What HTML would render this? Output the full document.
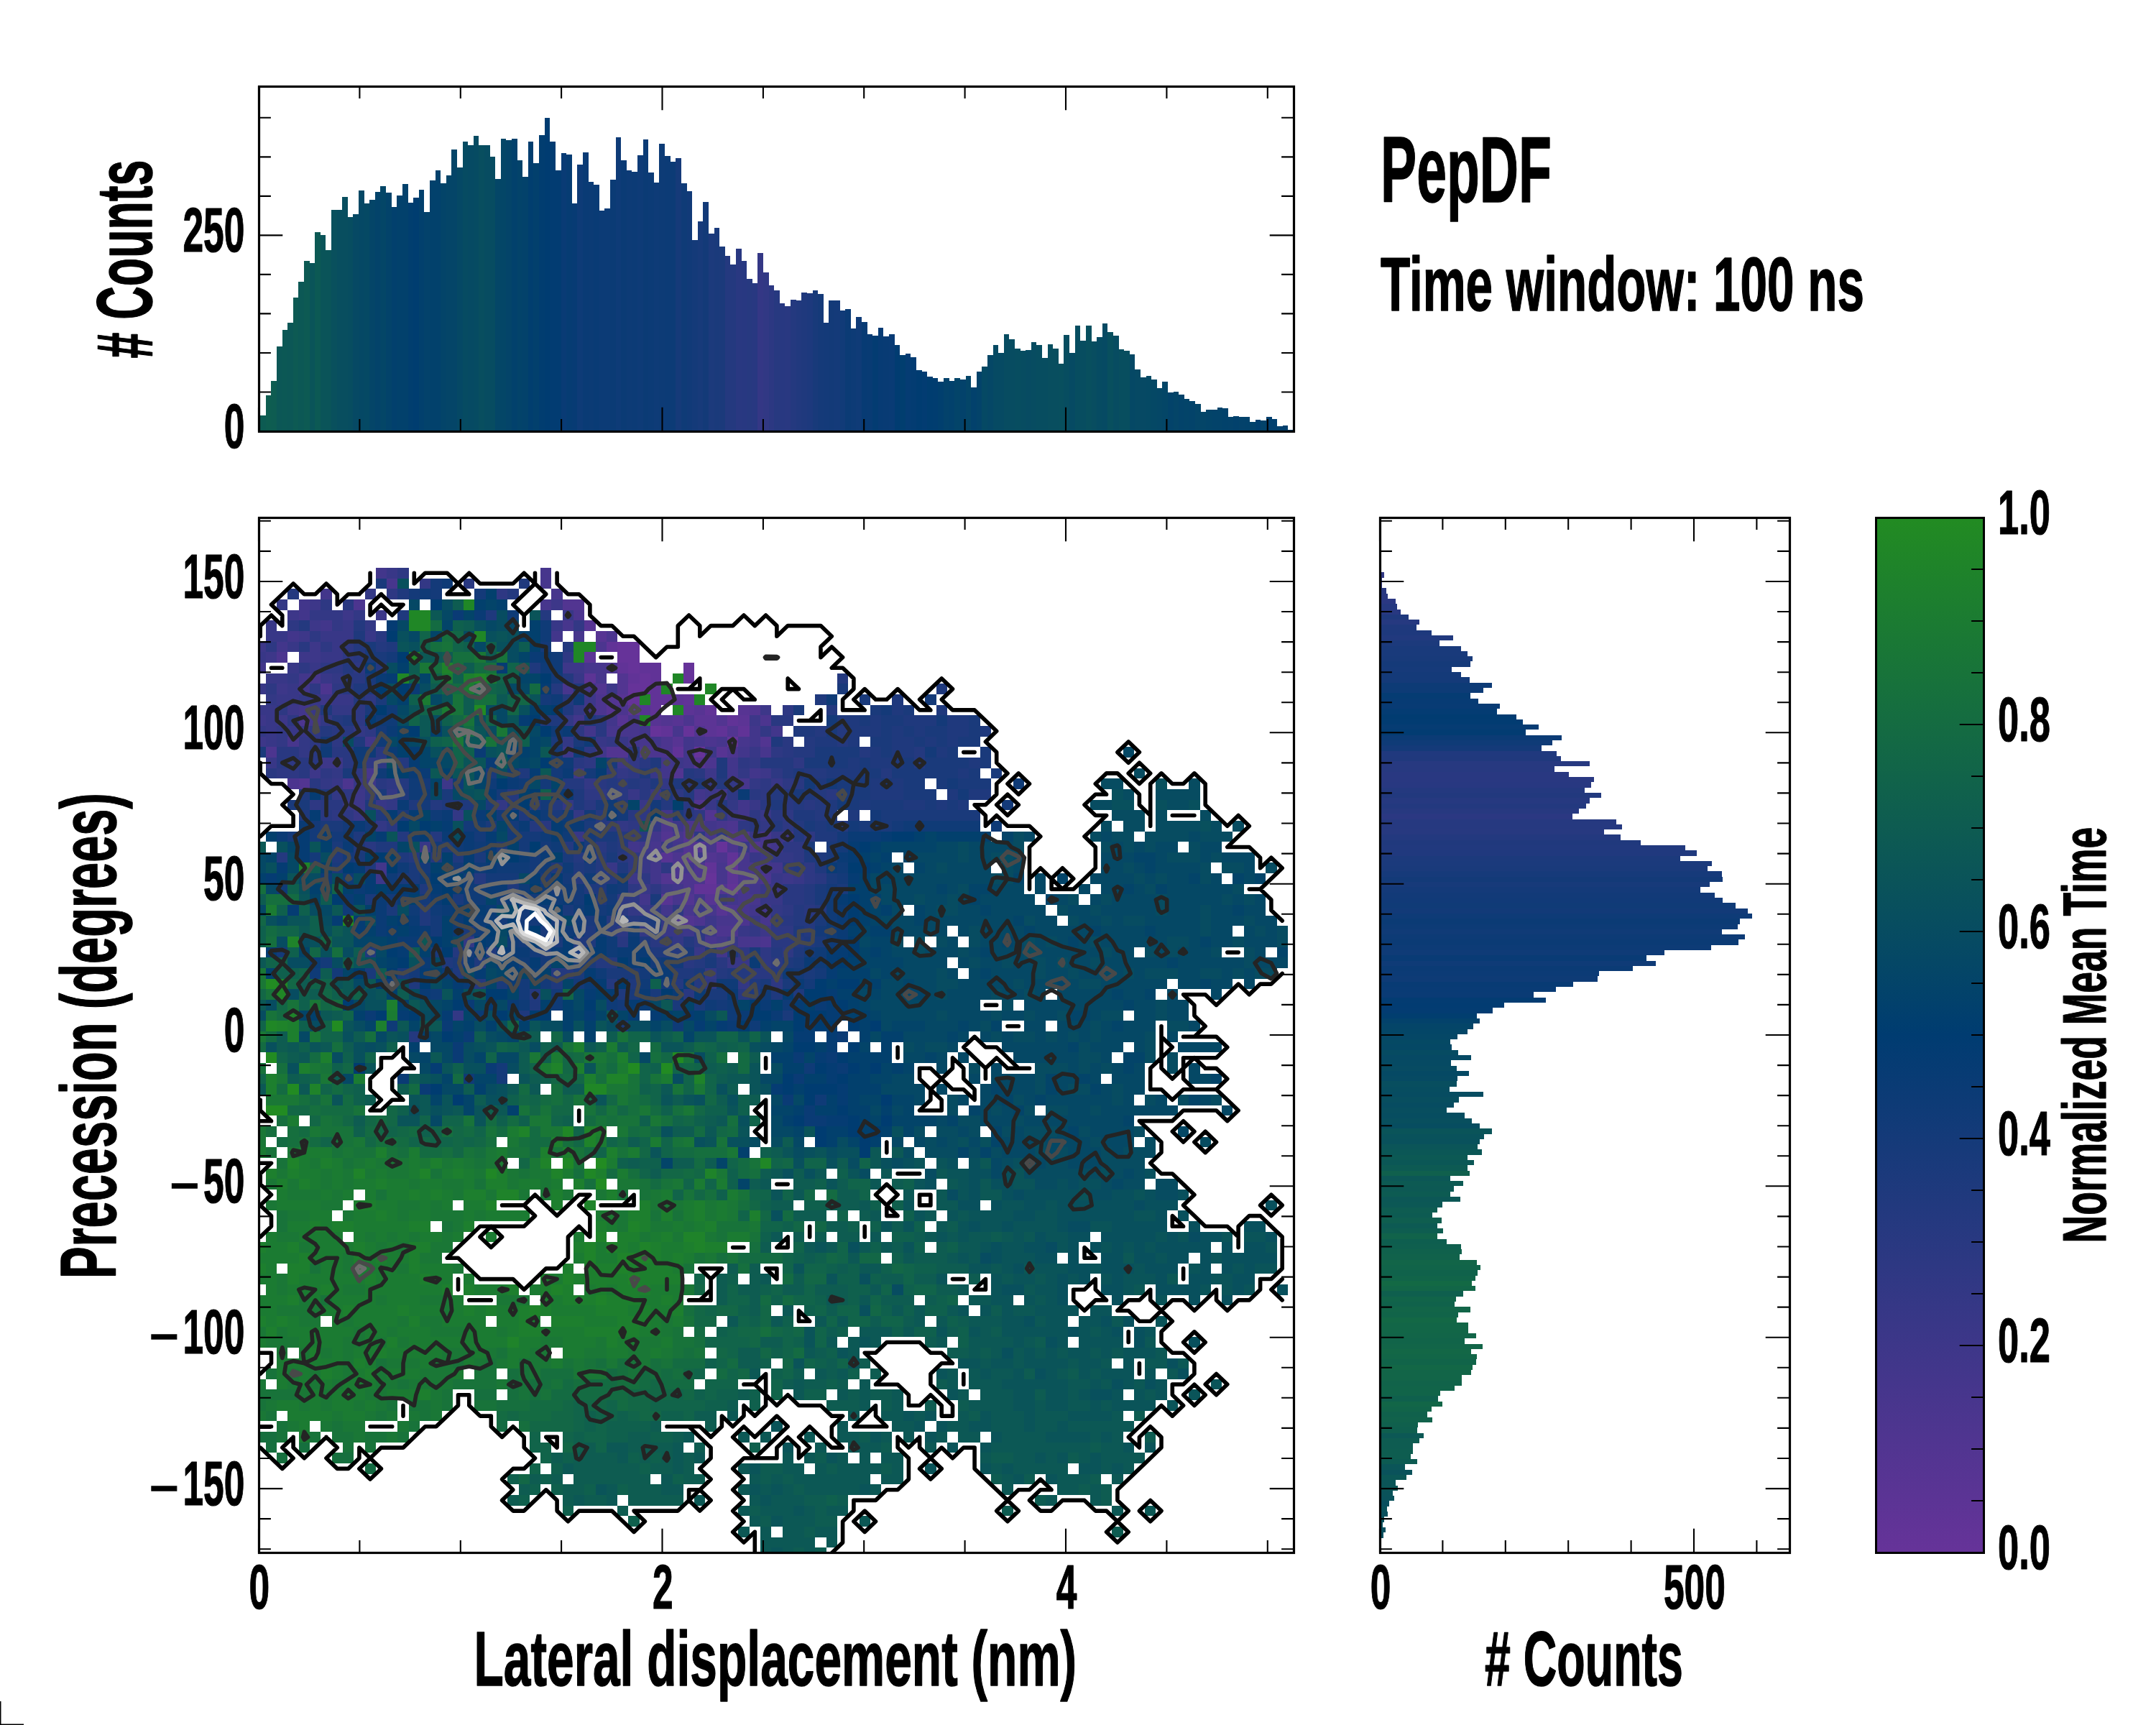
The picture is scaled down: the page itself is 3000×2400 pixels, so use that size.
<!DOCTYPE html>
<html lang="en"><head><meta charset="utf-8"><title>PepDF</title><style>html,body{margin:0;padding:0;background:#fff}svg{display:block}</style></head><body>
<svg width="3000" height="2400" viewBox="0 0 3000 2400" font-family="'Liberation Sans', sans-serif" font-weight="bold">
<rect width="3000" height="2400" fill="#fff"/>
<defs><clipPath id="cm"><rect x="360" y="720" width="1440" height="1440"/></clipPath></defs>
<g clip-path="url(#cm)">
<g transform="translate(354.6,716.7) scale(15.29,14.66)" shape-rendering="crispEdges">
<path fill="#663399" d="M33 12h2v1h-2zM33 13h2v1h-2zM34 14h1v1h-1zM39 14h1v1h-1zM35 15h1v1h-1zM39 15h1v1h-1zM34 16h2v1h-2zM34 17h1v1h-1zM36 20h1v1h-1zM39 20h1v1h-1zM43 21h1v1h-1zM40 22h1v1h-1zM42 31h1v1h-1zM41 34h1v1h-1z"/>
<path fill="#613397" d="M32 12h1v1h-1zM33 14h1v1h-1zM35 14h2v1h-2zM34 15h1v1h-1zM36 15h1v1h-1zM36 16h1v1h-1zM36 17h2v1h-2zM39 17h1v1h-1zM36 18h1v1h-1zM41 18h1v1h-1zM43 19h1v1h-1zM37 20h1v1h-1zM42 20h1v1h-1zM44 20h1v1h-1zM38 22h1v1h-1zM43 32h1v1h-1zM41 33h1v1h-1zM43 33h1v1h-1zM40 35h2v1h-2zM43 35h1v1h-1z"/>
<path fill="#5c3495" d="M30 13h1v1h-1zM30 15h1v1h-1zM38 17h1v1h-1zM34 18h1v1h-1zM39 18h1v1h-1zM40 19h2v1h-2zM44 19h1v1h-1zM41 20h1v1h-1zM43 34h1v1h-1z"/>
<path fill="#573493" d="M30 10h1v1h-1zM31 11h1v1h-1zM33 17h1v1h-1zM32 18h1v1h-1zM35 18h1v1h-1zM40 18h1v1h-1zM44 18h1v1h-1zM33 19h1v1h-1zM36 19h1v1h-1zM38 19h1v1h-1zM38 21h1v1h-1zM42 22h1v1h-1zM40 23h1v1h-1zM37 32h1v1h-1zM39 32h1v1h-1zM37 36h1v1h-1zM41 36h1v1h-1zM42 37h1v1h-1z"/>
<path fill="#523591" d="M28 8h2v1h-2zM33 15h1v1h-1zM31 16h1v1h-1zM33 16h1v1h-1zM32 17h1v1h-1zM45 18h1v1h-1zM37 19h1v1h-1zM42 19h1v1h-1zM40 20h1v1h-1zM43 20h1v1h-1zM46 21h1v1h-1zM32 22h2v1h-2zM38 24h1v1h-1zM4 25h1v1h-1zM40 27h1v1h-1zM41 28h1v1h-1zM37 30h1v1h-1zM39 30h1v1h-1zM43 30h2v1h-2zM39 31h2v1h-2zM45 31h1v1h-1zM41 32h1v1h-1zM37 34h1v1h-1zM42 35h1v1h-1zM39 36h1v1h-1zM39 38h1v1h-1z"/>
<path fill="#4c358f" d="M9 8h1v1h-1zM29 9h1v1h-1zM32 11h1v1h-1zM31 12h1v1h-1zM2 13h1v1h-1zM32 14h1v1h-1zM6 16h1v1h-1zM31 17h1v1h-1zM31 18h1v1h-1zM33 18h1v1h-1zM4 19h1v1h-1zM39 19h1v1h-1zM46 19h1v1h-1zM37 21h1v1h-1zM41 21h1v1h-1zM1 22h1v1h-1zM35 22h3v1h-3zM43 22h1v1h-1zM41 23h1v1h-1zM3 25h1v1h-1zM8 25h1v1h-1zM37 29h1v1h-1zM39 29h2v1h-2zM43 29h1v1h-1zM43 31h1v1h-1zM38 32h1v1h-1zM42 32h1v1h-1zM38 33h1v1h-1zM40 33h1v1h-1zM38 34h3v1h-3zM44 34h1v1h-1zM46 34h1v1h-1zM39 35h1v1h-1zM43 37h1v1h-1zM38 38h1v1h-1zM40 38h1v1h-1zM44 38h1v1h-1zM42 39h2v1h-2zM46 40h1v1h-1z"/>
<path fill="#47368d" d="M26 5h1v1h-1zM12 6h1v1h-1zM26 6h1v1h-1zM27 7h1v1h-1zM26 8h1v1h-1zM28 10h1v1h-1zM29 11h1v1h-1zM30 14h2v1h-2zM5 15h1v1h-1zM31 15h1v1h-1zM28 16h1v1h-1zM34 19h1v1h-1zM32 20h3v1h-3zM38 20h1v1h-1zM3 21h1v1h-1zM35 21h1v1h-1zM40 21h1v1h-1zM42 21h1v1h-1zM44 21h1v1h-1zM46 22h1v1h-1zM10 24h1v1h-1zM44 25h1v1h-1zM42 29h1v1h-1zM38 30h1v1h-1zM41 30h1v1h-1zM46 30h1v1h-1zM36 31h1v1h-1zM41 31h1v1h-1zM46 31h1v1h-1zM44 32h1v1h-1zM42 33h1v1h-1zM44 33h2v1h-2zM42 34h1v1h-1zM45 34h1v1h-1zM44 35h1v1h-1zM38 36h1v1h-1zM44 36h2v1h-2zM39 37h1v1h-1zM41 37h1v1h-1zM44 37h1v1h-1zM42 38h2v1h-2zM46 38h1v1h-1zM41 40h1v1h-1zM44 40h2v1h-2z"/>
<path fill="#42368b" d="M11 5h1v1h-1zM6 7h1v1h-1zM4 8h1v1h-1zM4 9h1v1h-1zM6 10h1v1h-1zM3 11h1v1h-1zM27 11h1v1h-1zM2 12h1v1h-1zM0 14h1v1h-1zM4 15h1v1h-1zM4 16h1v1h-1zM30 16h1v1h-1zM4 18h1v1h-1zM30 18h1v1h-1zM5 19h1v1h-1zM29 19h1v1h-1zM32 19h1v1h-1zM30 20h1v1h-1zM35 20h1v1h-1zM45 20h1v1h-1zM47 20h1v1h-1zM10 21h1v1h-1zM34 21h1v1h-1zM36 21h1v1h-1zM39 21h1v1h-1zM45 21h1v1h-1zM31 22h1v1h-1zM39 22h1v1h-1zM44 22h1v1h-1zM37 23h1v1h-1zM39 23h1v1h-1zM43 23h1v1h-1zM37 24h1v1h-1zM43 24h1v1h-1zM45 24h1v1h-1zM40 26h1v1h-1zM42 26h1v1h-1zM44 27h1v1h-1zM37 28h1v1h-1zM44 28h1v1h-1zM41 29h1v1h-1zM36 30h1v1h-1zM34 31h1v1h-1zM38 31h1v1h-1zM47 31h1v1h-1zM11 33h1v1h-1zM36 33h1v1h-1zM39 33h1v1h-1zM46 33h2v1h-2zM36 34h1v1h-1zM38 35h1v1h-1zM45 35h1v1h-1zM35 36h1v1h-1zM40 36h1v1h-1zM43 36h1v1h-1zM37 37h1v1h-1zM45 37h2v1h-2zM42 40h1v1h-1zM42 41h1v1h-1z"/>
<path fill="#3d3789" d="M5 8h1v1h-1zM27 8h1v1h-1zM3 9h1v1h-1zM8 9h1v1h-1zM11 9h1v1h-1zM5 10h1v1h-1zM4 11h1v1h-1zM0 12h1v1h-1zM5 12h1v1h-1zM1 13h1v1h-1zM4 13h2v1h-2zM28 14h2v1h-2zM2 16h1v1h-1zM32 16h1v1h-1zM6 17h1v1h-1zM30 17h1v1h-1zM3 18h1v1h-1zM46 18h1v1h-1zM0 19h1v1h-1zM2 19h1v1h-1zM45 19h1v1h-1zM0 21h1v1h-1zM28 22h1v1h-1zM41 22h1v1h-1zM6 23h2v1h-2zM33 23h1v1h-1zM38 23h1v1h-1zM5 24h1v1h-1zM29 24h1v1h-1zM41 24h1v1h-1zM46 24h1v1h-1zM10 25h1v1h-1zM17 25h1v1h-1zM9 26h1v1h-1zM41 26h1v1h-1zM9 27h1v1h-1zM43 28h1v1h-1zM38 29h1v1h-1zM48 30h1v1h-1zM35 31h1v1h-1zM36 32h1v1h-1zM40 32h1v1h-1zM46 32h1v1h-1zM11 34h1v1h-1zM34 34h1v1h-1zM48 34h1v1h-1zM37 35h1v1h-1zM47 35h1v1h-1zM41 38h1v1h-1zM39 39h1v1h-1zM41 39h1v1h-1zM46 39h1v1h-1z"/>
<path fill="#383787" d="M12 5h1v1h-1zM28 9h1v1h-1zM1 10h1v1h-1zM8 10h1v1h-1zM27 10h1v1h-1zM1 11h2v1h-2zM6 11h3v1h-3zM10 11h1v1h-1zM3 12h1v1h-1zM7 12h1v1h-1zM0 13h1v1h-1zM6 13h2v1h-2zM3 14h1v1h-1zM5 14h1v1h-1zM1 15h2v1h-2zM6 15h1v1h-1zM29 15h1v1h-1zM0 16h1v1h-1zM3 16h1v1h-1zM2 17h2v1h-2zM5 17h1v1h-1zM7 17h2v1h-2zM0 18h2v1h-2zM5 18h1v1h-1zM1 19h1v1h-1zM1 20h1v1h-1zM3 20h2v1h-2zM1 21h1v1h-1zM31 21h1v1h-1zM33 21h1v1h-1zM45 22h1v1h-1zM1 23h1v1h-1zM36 24h1v1h-1zM7 25h1v1h-1zM9 25h1v1h-1zM47 25h1v1h-1zM34 26h1v1h-1zM36 26h1v1h-1zM8 27h1v1h-1zM11 27h1v1h-1zM35 27h1v1h-1zM41 27h1v1h-1zM45 27h1v1h-1zM9 28h1v1h-1zM46 28h1v1h-1zM29 30h1v1h-1zM45 30h1v1h-1zM47 30h1v1h-1zM15 31h1v1h-1zM37 31h1v1h-1zM44 31h1v1h-1zM35 32h1v1h-1zM45 32h1v1h-1zM32 33h1v1h-1zM35 33h1v1h-1zM47 34h1v1h-1zM49 34h1v1h-1zM35 35h1v1h-1zM46 35h1v1h-1zM42 36h1v1h-1zM46 36h2v1h-2zM35 37h1v1h-1zM40 37h1v1h-1zM45 38h1v1h-1zM37 39h2v1h-2zM44 39h1v1h-1zM43 40h1v1h-1zM40 41h1v1h-1zM43 42h2v1h-2z"/>
<path fill="#333885" d="M15 6h1v1h-1zM10 7h1v1h-1zM2 8h1v1h-1zM5 9h3v1h-3zM9 9h1v1h-1zM7 10h1v1h-1zM10 10h1v1h-1zM29 10h1v1h-1zM3 15h1v1h-1zM7 15h1v1h-1zM1 17h1v1h-1zM4 17h1v1h-1zM7 18h2v1h-2zM29 18h1v1h-1zM6 19h1v1h-1zM28 19h1v1h-1zM0 20h1v1h-1zM2 20h1v1h-1zM9 20h1v1h-1zM46 20h1v1h-1zM2 21h1v1h-1zM4 21h1v1h-1zM28 21h1v1h-1zM32 21h1v1h-1zM4 22h1v1h-1zM34 23h1v1h-1zM45 23h1v1h-1zM7 24h1v1h-1zM33 24h1v1h-1zM44 24h1v1h-1zM6 25h1v1h-1zM30 25h1v1h-1zM37 25h1v1h-1zM41 25h1v1h-1zM43 25h1v1h-1zM45 25h1v1h-1zM7 26h1v1h-1zM12 26h1v1h-1zM12 27h1v1h-1zM22 27h1v1h-1zM28 27h1v1h-1zM43 27h1v1h-1zM18 28h1v1h-1zM29 28h1v1h-1zM11 29h1v1h-1zM33 29h1v1h-1zM36 29h1v1h-1zM46 29h1v1h-1zM47 32h2v1h-2zM34 37h1v1h-1zM47 37h1v1h-1zM37 38h1v1h-1zM35 39h1v1h-1zM45 39h1v1h-1zM19 40h1v1h-1zM38 40h1v1h-1zM41 43h1v1h-1zM44 44h1v1h-1zM18 47h1v1h-1z"/>
<path fill="#2e3883" d="M13 5h1v1h-1zM12 7h1v1h-1zM22 7h1v1h-1zM6 8h1v1h-1zM3 10h1v1h-1zM5 11h1v1h-1zM1 12h1v1h-1zM6 12h1v1h-1zM8 12h1v1h-1zM8 13h1v1h-1zM28 13h1v1h-1zM4 14h1v1h-1zM6 14h2v1h-2zM9 14h1v1h-1zM1 16h1v1h-1zM5 16h1v1h-1zM7 16h1v1h-1zM10 17h1v1h-1zM2 18h1v1h-1zM9 18h1v1h-1zM48 18h1v1h-1zM3 19h1v1h-1zM9 19h1v1h-1zM5 20h1v1h-1zM10 20h1v1h-1zM29 20h1v1h-1zM5 21h1v1h-1zM7 21h1v1h-1zM30 22h1v1h-1zM47 22h1v1h-1zM3 23h1v1h-1zM10 23h2v1h-2zM30 23h1v1h-1zM44 23h1v1h-1zM49 23h1v1h-1zM2 24h2v1h-2zM6 24h1v1h-1zM9 24h1v1h-1zM34 24h1v1h-1zM47 24h1v1h-1zM12 25h1v1h-1zM46 25h1v1h-1zM48 25h1v1h-1zM8 26h1v1h-1zM10 26h1v1h-1zM30 26h2v1h-2zM38 26h1v1h-1zM43 26h1v1h-1zM46 26h1v1h-1zM5 27h1v1h-1zM7 28h2v1h-2zM35 28h1v1h-1zM40 28h1v1h-1zM42 28h1v1h-1zM45 28h1v1h-1zM48 28h1v1h-1zM34 29h1v1h-1zM44 29h1v1h-1zM48 29h1v1h-1zM34 30h1v1h-1zM40 30h1v1h-1zM42 30h1v1h-1zM50 30h1v1h-1zM48 31h2v1h-2zM34 32h1v1h-1zM49 32h1v1h-1zM34 33h1v1h-1zM37 33h1v1h-1zM50 33h1v1h-1zM35 34h1v1h-1zM50 34h1v1h-1zM34 35h1v1h-1zM36 35h1v1h-1zM33 36h2v1h-2zM36 37h1v1h-1zM38 37h1v1h-1zM48 37h1v1h-1zM33 39h1v1h-1zM40 39h1v1h-1zM47 39h2v1h-2zM40 40h1v1h-1zM44 41h1v1h-1zM46 41h1v1h-1zM48 41h1v1h-1zM46 42h1v1h-1zM41 44h1v1h-1zM47 44h1v1h-1z"/>
<path fill="#293881" d="M19 6h1v1h-1zM8 8h1v1h-1zM11 11h1v1h-1zM4 12h1v1h-1zM9 13h1v1h-1zM8 15h2v1h-2zM8 16h1v1h-1zM31 19h1v1h-1zM47 19h2v1h-2zM7 20h2v1h-2zM31 20h1v1h-1zM48 21h1v1h-1zM2 22h2v1h-2zM5 22h1v1h-1zM7 22h2v1h-2zM11 22h1v1h-1zM34 22h1v1h-1zM48 22h1v1h-1zM2 23h1v1h-1zM4 23h2v1h-2zM8 23h1v1h-1zM29 23h1v1h-1zM35 23h1v1h-1zM1 24h1v1h-1zM4 24h1v1h-1zM32 24h1v1h-1zM40 24h1v1h-1zM5 25h1v1h-1zM11 25h1v1h-1zM31 25h1v1h-1zM33 25h1v1h-1zM35 25h1v1h-1zM39 25h1v1h-1zM49 25h1v1h-1zM32 26h2v1h-2zM35 26h1v1h-1zM45 26h1v1h-1zM52 26h1v1h-1zM6 27h2v1h-2zM30 27h1v1h-1zM39 27h1v1h-1zM46 27h1v1h-1zM48 27h1v1h-1zM50 27h1v1h-1zM6 28h1v1h-1zM34 28h1v1h-1zM39 28h1v1h-1zM47 28h1v1h-1zM12 29h1v1h-1zM26 29h1v1h-1zM32 29h1v1h-1zM45 29h1v1h-1zM35 30h1v1h-1zM10 31h1v1h-1zM31 31h1v1h-1zM33 32h1v1h-1zM48 33h1v1h-1zM51 34h1v1h-1zM48 35h2v1h-2zM48 36h2v1h-2zM33 37h1v1h-1zM50 37h1v1h-1zM47 38h2v1h-2zM33 40h1v1h-1zM36 40h2v1h-2zM47 40h2v1h-2zM39 42h1v1h-1zM42 42h1v1h-1zM47 42h1v1h-1zM45 43h2v1h-2zM39 45h1v1h-1zM44 45h1v1h-1z"/>
<path fill="#24397f" d="M3 7h1v1h-1zM23 7h1v1h-1zM26 9h1v1h-1zM4 10h1v1h-1zM9 10h1v1h-1zM9 12h1v1h-1zM11 12h1v1h-1zM28 12h1v1h-1zM8 14h1v1h-1zM11 14h1v1h-1zM28 15h1v1h-1zM53 15h1v1h-1zM27 16h1v1h-1zM9 17h1v1h-1zM28 17h1v1h-1zM52 18h1v1h-1zM7 19h1v1h-1zM6 20h1v1h-1zM51 20h1v1h-1zM53 20h1v1h-1zM50 21h1v1h-1zM53 21h1v1h-1zM49 22h2v1h-2zM55 22h1v1h-1zM60 22h1v1h-1zM13 23h1v1h-1zM46 23h3v1h-3zM60 23h1v1h-1zM39 24h1v1h-1zM48 24h1v1h-1zM50 24h2v1h-2zM57 24h1v1h-1zM13 25h1v1h-1zM28 25h2v1h-2zM32 25h1v1h-1zM34 25h1v1h-1zM42 25h1v1h-1zM23 26h1v1h-1zM39 26h1v1h-1zM47 26h2v1h-2zM51 26h1v1h-1zM16 27h1v1h-1zM25 27h1v1h-1zM27 27h1v1h-1zM37 27h1v1h-1zM42 27h1v1h-1zM49 27h1v1h-1zM51 27h1v1h-1zM31 28h1v1h-1zM51 28h1v1h-1zM25 29h1v1h-1zM31 29h1v1h-1zM47 29h1v1h-1zM49 29h1v1h-1zM53 29h1v1h-1zM13 30h1v1h-1zM16 30h1v1h-1zM33 30h1v1h-1zM49 30h1v1h-1zM28 31h1v1h-1zM33 31h1v1h-1zM2 32h1v1h-1zM14 32h1v1h-1zM16 32h1v1h-1zM29 32h1v1h-1zM31 32h1v1h-1zM31 33h1v1h-1zM49 33h1v1h-1zM20 34h1v1h-1zM29 34h1v1h-1zM31 34h2v1h-2zM50 35h1v1h-1zM50 36h1v1h-1zM49 37h1v1h-1zM51 37h1v1h-1zM32 38h1v1h-1zM34 38h1v1h-1zM49 38h2v1h-2zM32 39h1v1h-1zM50 39h1v1h-1zM39 40h1v1h-1zM49 40h1v1h-1zM18 41h1v1h-1zM38 41h1v1h-1zM47 41h1v1h-1zM31 42h2v1h-2zM40 42h1v1h-1zM27 43h2v1h-2zM42 43h1v1h-1zM44 43h1v1h-1zM47 43h1v1h-1zM20 44h1v1h-1zM32 44h1v1h-1zM38 44h1v1h-1zM40 44h1v1h-1zM25 45h1v1h-1zM14 49h1v1h-1z"/>
<path fill="#1f397d" d="M24 6h1v1h-1zM13 7h1v1h-1zM13 9h1v1h-1zM21 9h1v1h-1zM9 11h1v1h-1zM12 12h1v1h-1zM25 14h1v1h-1zM9 16h2v1h-2zM29 16h1v1h-1zM62 16h1v1h-1zM51 17h1v1h-1zM58 17h1v1h-1zM6 18h1v1h-1zM28 18h1v1h-1zM58 18h1v1h-1zM62 18h1v1h-1zM8 19h1v1h-1zM26 19h2v1h-2zM30 19h1v1h-1zM53 19h2v1h-2zM56 19h1v1h-1zM59 19h3v1h-3zM63 19h2v1h-2zM49 20h2v1h-2zM54 20h3v1h-3zM58 20h1v1h-1zM60 20h1v1h-1zM63 20h2v1h-2zM66 20h1v1h-1zM9 21h1v1h-1zM47 21h1v1h-1zM51 21h2v1h-2zM54 21h1v1h-1zM58 21h2v1h-2zM61 21h1v1h-1zM63 21h1v1h-1zM56 22h1v1h-1zM58 22h2v1h-2zM62 22h1v1h-1zM36 23h1v1h-1zM42 23h1v1h-1zM54 23h1v1h-1zM56 23h3v1h-3zM65 23h1v1h-1zM24 24h1v1h-1zM35 24h1v1h-1zM42 24h1v1h-1zM49 24h1v1h-1zM52 24h3v1h-3zM64 24h1v1h-1zM36 25h1v1h-1zM38 25h1v1h-1zM40 25h1v1h-1zM51 25h1v1h-1zM56 25h1v1h-1zM58 25h1v1h-1zM4 26h1v1h-1zM6 26h1v1h-1zM13 26h1v1h-1zM29 26h1v1h-1zM37 26h1v1h-1zM50 26h1v1h-1zM56 26h3v1h-3zM63 26h1v1h-1zM65 26h2v1h-2zM10 27h1v1h-1zM14 27h1v1h-1zM17 27h3v1h-3zM23 27h1v1h-1zM29 27h1v1h-1zM33 27h1v1h-1zM47 27h1v1h-1zM52 27h1v1h-1zM55 27h1v1h-1zM59 27h2v1h-2zM62 27h1v1h-1zM64 27h1v1h-1zM4 28h1v1h-1zM11 28h1v1h-1zM24 28h1v1h-1zM49 28h2v1h-2zM52 28h1v1h-1zM54 28h1v1h-1zM51 29h1v1h-1zM9 30h1v1h-1zM51 30h2v1h-2zM9 31h1v1h-1zM11 31h2v1h-2zM32 31h1v1h-1zM7 32h1v1h-1zM13 32h1v1h-1zM18 32h1v1h-1zM50 32h2v1h-2zM10 33h1v1h-1zM27 33h1v1h-1zM29 33h1v1h-1zM33 33h1v1h-1zM51 33h1v1h-1zM15 35h1v1h-1zM23 35h1v1h-1zM30 35h2v1h-2zM31 36h1v1h-1zM15 37h1v1h-1zM15 38h1v1h-1zM35 38h1v1h-1zM30 39h1v1h-1zM36 39h1v1h-1zM49 39h1v1h-1zM29 40h2v1h-2zM35 40h1v1h-1zM50 40h1v1h-1zM10 41h1v1h-1zM21 41h1v1h-1zM36 41h2v1h-2zM41 41h1v1h-1zM43 41h1v1h-1zM49 41h1v1h-1zM17 42h1v1h-1zM20 42h1v1h-1zM48 42h1v1h-1zM18 43h1v1h-1zM38 43h2v1h-2zM43 43h1v1h-1zM14 44h1v1h-1zM27 44h1v1h-1zM34 44h1v1h-1zM45 44h1v1h-1zM33 45h1v1h-1zM45 45h1v1h-1zM47 45h1v1h-1zM49 45h1v1h-1zM25 46h1v1h-1zM24 47h1v1h-1z"/>
<path fill="#1a3a7b" d="M11 6h1v1h-1zM10 12h1v1h-1zM10 13h2v1h-2zM10 15h1v1h-1zM53 16h1v1h-1zM11 17h1v1h-1zM55 17h1v1h-1zM10 18h1v1h-1zM49 18h1v1h-1zM56 18h1v1h-1zM59 18h1v1h-1zM55 19h1v1h-1zM57 19h2v1h-2zM65 19h1v1h-1zM52 20h1v1h-1zM57 20h1v1h-1zM59 20h1v1h-1zM61 20h2v1h-2zM65 20h1v1h-1zM27 21h1v1h-1zM29 21h1v1h-1zM56 21h2v1h-2zM60 21h1v1h-1zM62 21h1v1h-1zM64 21h2v1h-2zM0 22h1v1h-1zM51 22h4v1h-4zM57 22h1v1h-1zM63 22h1v1h-1zM66 22h1v1h-1zM32 23h1v1h-1zM50 23h4v1h-4zM55 23h1v1h-1zM59 23h1v1h-1zM61 23h4v1h-4zM66 23h1v1h-1zM8 24h1v1h-1zM21 24h1v1h-1zM55 24h2v1h-2zM58 24h6v1h-6zM65 24h1v1h-1zM67 24h1v1h-1zM53 25h3v1h-3zM57 25h1v1h-1zM59 25h2v1h-2zM62 25h1v1h-1zM64 25h3v1h-3zM11 26h1v1h-1zM17 26h1v1h-1zM49 26h1v1h-1zM53 26h3v1h-3zM59 26h3v1h-3zM3 27h2v1h-2zM21 27h1v1h-1zM31 27h1v1h-1zM54 27h1v1h-1zM56 27h3v1h-3zM61 27h1v1h-1zM63 27h1v1h-1zM13 28h1v1h-1zM27 28h1v1h-1zM38 28h1v1h-1zM57 28h9v1h-9zM6 29h2v1h-2zM21 29h1v1h-1zM30 29h1v1h-1zM50 29h1v1h-1zM52 29h1v1h-1zM55 29h1v1h-1zM57 29h1v1h-1zM31 30h2v1h-2zM7 31h1v1h-1zM17 31h1v1h-1zM22 31h1v1h-1zM30 31h1v1h-1zM50 31h1v1h-1zM52 31h1v1h-1zM9 32h1v1h-1zM20 32h1v1h-1zM28 32h1v1h-1zM32 32h1v1h-1zM52 32h1v1h-1zM7 33h1v1h-1zM14 33h1v1h-1zM30 33h1v1h-1zM13 34h2v1h-2zM26 34h1v1h-1zM52 34h1v1h-1zM51 35h1v1h-1zM53 35h1v1h-1zM10 36h1v1h-1zM18 36h1v1h-1zM24 36h1v1h-1zM36 36h1v1h-1zM51 36h1v1h-1zM12 37h1v1h-1zM28 37h1v1h-1zM30 38h1v1h-1zM33 38h1v1h-1zM36 38h1v1h-1zM51 38h1v1h-1zM19 39h1v1h-1zM26 39h1v1h-1zM26 40h2v1h-2zM51 40h1v1h-1zM16 41h1v1h-1zM26 41h1v1h-1zM29 41h1v1h-1zM39 41h1v1h-1zM45 41h1v1h-1zM18 42h1v1h-1zM30 42h1v1h-1zM41 42h1v1h-1zM49 42h1v1h-1zM10 43h1v1h-1zM13 43h1v1h-1zM29 43h1v1h-1zM32 43h3v1h-3zM40 43h1v1h-1zM50 43h1v1h-1zM22 44h1v1h-1zM46 44h1v1h-1zM48 44h1v1h-1zM34 45h1v1h-1zM36 45h1v1h-1zM41 45h2v1h-2zM38 46h1v1h-1zM40 46h1v1h-1zM48 47h1v1h-1zM33 48h1v1h-1z"/>
<path fill="#143a79" d="M16 6h1v1h-1zM14 7h1v1h-1zM16 7h1v1h-1zM20 7h1v1h-1zM26 12h1v1h-1zM12 13h1v1h-1zM27 15h1v1h-1zM26 17h1v1h-1zM61 17h1v1h-1zM57 18h1v1h-1zM52 19h1v1h-1zM62 19h1v1h-1zM11 20h1v1h-1zM6 21h1v1h-1zM27 22h1v1h-1zM61 22h1v1h-1zM27 24h1v1h-1zM30 24h1v1h-1zM15 25h1v1h-1zM26 25h1v1h-1zM50 25h1v1h-1zM52 25h1v1h-1zM63 25h1v1h-1zM22 26h1v1h-1zM64 26h1v1h-1zM15 27h1v1h-1zM26 27h1v1h-1zM36 27h1v1h-1zM53 27h1v1h-1zM68 27h1v1h-1zM22 28h1v1h-1zM30 28h1v1h-1zM33 28h1v1h-1zM56 28h1v1h-1zM5 29h1v1h-1zM8 29h1v1h-1zM10 29h1v1h-1zM19 29h1v1h-1zM23 29h1v1h-1zM54 29h1v1h-1zM56 29h1v1h-1zM58 29h1v1h-1zM3 30h1v1h-1zM5 30h1v1h-1zM7 30h1v1h-1zM20 30h1v1h-1zM23 30h3v1h-3zM30 30h1v1h-1zM53 30h1v1h-1zM16 31h1v1h-1zM24 31h1v1h-1zM26 31h1v1h-1zM53 31h1v1h-1zM5 32h1v1h-1zM8 32h1v1h-1zM25 32h1v1h-1zM15 33h1v1h-1zM18 33h1v1h-1zM25 33h1v1h-1zM21 34h3v1h-3zM28 34h1v1h-1zM53 34h1v1h-1zM27 35h1v1h-1zM29 35h1v1h-1zM33 35h1v1h-1zM52 35h1v1h-1zM12 36h1v1h-1zM15 36h1v1h-1zM25 36h1v1h-1zM29 36h1v1h-1zM32 36h1v1h-1zM24 37h1v1h-1zM31 37h1v1h-1zM16 38h1v1h-1zM22 38h1v1h-1zM24 38h2v1h-2zM27 38h1v1h-1zM16 39h1v1h-1zM51 39h1v1h-1zM24 40h1v1h-1zM2 41h1v1h-1zM19 41h1v1h-1zM25 41h1v1h-1zM50 41h1v1h-1zM6 42h1v1h-1zM26 42h1v1h-1zM29 42h1v1h-1zM36 42h1v1h-1zM38 42h1v1h-1zM7 43h1v1h-1zM14 43h1v1h-1zM35 43h1v1h-1zM49 43h1v1h-1zM51 43h1v1h-1zM24 44h1v1h-1zM26 44h1v1h-1zM29 44h1v1h-1zM37 44h1v1h-1zM50 44h1v1h-1zM24 45h1v1h-1zM27 45h1v1h-1zM33 46h1v1h-1zM42 46h1v1h-1zM22 52h1v1h-1zM22 53h1v1h-1z"/>
<path fill="#0f3b77" d="M17 6h1v1h-1zM15 7h1v1h-1zM23 9h1v1h-1zM26 10h1v1h-1zM26 11h1v1h-1zM27 13h1v1h-1zM26 14h2v1h-2zM27 17h1v1h-1zM29 17h1v1h-1zM52 17h1v1h-1zM12 18h1v1h-1zM11 19h2v1h-2zM27 20h1v1h-1zM11 21h1v1h-1zM30 21h1v1h-1zM6 22h1v1h-1zM9 22h2v1h-2zM29 22h1v1h-1zM9 23h1v1h-1zM27 23h2v1h-2zM11 24h1v1h-1zM23 24h1v1h-1zM14 25h1v1h-1zM18 25h1v1h-1zM21 25h1v1h-1zM24 25h1v1h-1zM69 25h1v1h-1zM14 26h2v1h-2zM32 27h1v1h-1zM16 28h1v1h-1zM26 28h1v1h-1zM28 28h1v1h-1zM20 29h1v1h-1zM59 29h7v1h-7zM67 29h1v1h-1zM8 30h1v1h-1zM26 30h1v1h-1zM28 30h1v1h-1zM18 31h1v1h-1zM20 31h1v1h-1zM27 31h1v1h-1zM13 33h1v1h-1zM20 33h1v1h-1zM22 33h3v1h-3zM26 33h1v1h-1zM28 33h1v1h-1zM53 33h1v1h-1zM6 34h1v1h-1zM8 34h1v1h-1zM12 34h1v1h-1zM15 34h1v1h-1zM19 34h1v1h-1zM30 34h1v1h-1zM33 34h1v1h-1zM2 35h1v1h-1zM19 35h2v1h-2zM24 35h1v1h-1zM26 35h1v1h-1zM28 35h1v1h-1zM32 35h1v1h-1zM19 36h2v1h-2zM22 36h1v1h-1zM27 36h1v1h-1zM52 36h1v1h-1zM8 37h1v1h-1zM14 37h1v1h-1zM16 37h1v1h-1zM26 37h1v1h-1zM29 37h1v1h-1zM32 37h1v1h-1zM52 37h1v1h-1zM29 38h1v1h-1zM52 38h1v1h-1zM20 39h1v1h-1zM24 39h1v1h-1zM28 39h1v1h-1zM31 39h1v1h-1zM34 39h1v1h-1zM52 39h1v1h-1zM23 40h1v1h-1zM32 40h1v1h-1zM52 40h1v1h-1zM32 41h1v1h-1zM51 41h1v1h-1zM24 42h1v1h-1zM37 42h1v1h-1zM51 42h1v1h-1zM5 43h1v1h-1zM31 43h1v1h-1zM48 43h1v1h-1zM12 44h1v1h-1zM35 44h1v1h-1zM42 44h2v1h-2zM16 45h1v1h-1zM46 45h1v1h-1zM24 46h1v1h-1zM27 46h1v1h-1zM32 46h1v1h-1zM41 46h1v1h-1zM43 46h1v1h-1zM48 46h1v1h-1zM43 47h1v1h-1zM12 48h1v1h-1zM38 48h1v1h-1zM45 48h1v1h-1zM50 52h1v1h-1zM19 53h1v1h-1zM51 55h1v1h-1z"/>
<path fill="#0a3b75" d="M18 9h1v1h-1zM20 9h1v1h-1zM25 13h2v1h-2zM10 14h1v1h-1zM11 15h1v1h-1zM14 16h1v1h-1zM12 20h1v1h-1zM28 20h1v1h-1zM12 22h1v1h-1zM20 22h1v1h-1zM21 23h1v1h-1zM14 24h2v1h-2zM28 24h1v1h-1zM23 25h1v1h-1zM27 26h2v1h-2zM44 26h1v1h-1zM13 27h1v1h-1zM17 28h1v1h-1zM20 28h1v1h-1zM32 28h1v1h-1zM4 29h1v1h-1zM9 29h1v1h-1zM24 29h1v1h-1zM28 29h2v1h-2zM2 30h1v1h-1zM14 30h1v1h-1zM17 30h1v1h-1zM19 30h1v1h-1zM54 30h3v1h-3zM8 31h1v1h-1zM19 31h1v1h-1zM21 31h1v1h-1zM29 31h1v1h-1zM24 32h1v1h-1zM26 32h1v1h-1zM30 32h1v1h-1zM53 32h1v1h-1zM21 33h1v1h-1zM52 33h1v1h-1zM9 35h1v1h-1zM21 35h2v1h-2zM8 36h1v1h-1zM11 36h1v1h-1zM13 36h1v1h-1zM16 36h1v1h-1zM23 36h1v1h-1zM28 36h1v1h-1zM11 37h1v1h-1zM17 37h1v1h-1zM21 37h1v1h-1zM53 37h1v1h-1zM11 38h1v1h-1zM14 38h1v1h-1zM18 38h1v1h-1zM20 38h2v1h-2zM31 38h1v1h-1zM53 38h1v1h-1zM11 39h1v1h-1zM15 39h1v1h-1zM18 39h1v1h-1zM29 39h1v1h-1zM53 39h1v1h-1zM13 40h2v1h-2zM34 40h1v1h-1zM53 40h1v1h-1zM22 41h3v1h-3zM27 41h1v1h-1zM33 41h3v1h-3zM5 42h1v1h-1zM15 42h1v1h-1zM19 42h1v1h-1zM34 42h1v1h-1zM45 42h1v1h-1zM50 42h1v1h-1zM17 43h1v1h-1zM25 43h1v1h-1zM37 43h1v1h-1zM19 44h1v1h-1zM23 44h1v1h-1zM30 44h1v1h-1zM39 44h1v1h-1zM49 44h1v1h-1zM15 45h1v1h-1zM35 45h1v1h-1zM38 45h1v1h-1zM40 45h1v1h-1zM43 45h1v1h-1zM19 46h1v1h-1zM23 46h1v1h-1zM35 46h1v1h-1zM46 46h1v1h-1zM51 46h1v1h-1zM10 47h1v1h-1zM20 47h1v1h-1zM44 47h1v1h-1zM47 47h1v1h-1zM17 48h1v1h-1zM43 48h1v1h-1zM19 49h1v1h-1zM53 49h1v1h-1zM18 50h1v1h-1zM18 51h1v1h-1zM49 51h1v1h-1zM52 51h1v1h-1zM21 52h1v1h-1zM53 52h1v1h-1zM13 53h1v1h-1zM49 53h1v1h-1zM15 54h1v1h-1zM48 55h1v1h-1zM50 56h1v1h-1zM50 57h2v1h-2z"/>
<path fill="#053c73" d="M12 10h1v1h-1zM22 14h1v1h-1zM12 15h1v1h-1zM26 16h1v1h-1zM10 19h1v1h-1zM24 19h1v1h-1zM14 22h1v1h-1zM23 22h1v1h-1zM14 23h1v1h-1zM25 24h1v1h-1zM31 24h1v1h-1zM5 26h1v1h-1zM21 26h1v1h-1zM5 28h1v1h-1zM12 28h1v1h-1zM14 28h1v1h-1zM23 28h1v1h-1zM25 28h1v1h-1zM17 29h1v1h-1zM27 29h1v1h-1zM4 30h1v1h-1zM6 30h1v1h-1zM11 30h1v1h-1zM15 30h1v1h-1zM21 30h1v1h-1zM27 30h1v1h-1zM57 30h1v1h-1zM4 31h1v1h-1zM54 31h1v1h-1zM4 32h1v1h-1zM19 32h1v1h-1zM54 32h1v1h-1zM2 33h1v1h-1zM9 33h1v1h-1zM1 34h1v1h-1zM10 34h1v1h-1zM17 34h1v1h-1zM25 34h1v1h-1zM27 34h1v1h-1zM54 34h1v1h-1zM10 35h1v1h-1zM12 35h3v1h-3zM16 35h1v1h-1zM18 35h1v1h-1zM26 36h1v1h-1zM53 36h1v1h-1zM3 37h1v1h-1zM18 37h1v1h-1zM20 37h1v1h-1zM30 37h1v1h-1zM7 38h1v1h-1zM9 38h1v1h-1zM23 38h1v1h-1zM9 39h1v1h-1zM12 39h1v1h-1zM14 39h1v1h-1zM21 40h1v1h-1zM25 40h1v1h-1zM28 40h1v1h-1zM31 40h1v1h-1zM1 41h1v1h-1zM13 41h1v1h-1zM28 41h1v1h-1zM30 41h2v1h-2zM52 41h2v1h-2zM22 42h2v1h-2zM25 42h1v1h-1zM52 42h1v1h-1zM15 43h1v1h-1zM20 43h1v1h-1zM23 43h1v1h-1zM30 43h1v1h-1zM36 43h1v1h-1zM52 43h1v1h-1zM18 44h1v1h-1zM31 44h1v1h-1zM30 45h1v1h-1zM32 45h1v1h-1zM48 45h1v1h-1zM52 45h1v1h-1zM21 46h1v1h-1zM34 46h1v1h-1zM49 46h1v1h-1zM52 46h1v1h-1zM13 47h1v1h-1zM17 47h1v1h-1zM30 47h1v1h-1zM34 47h1v1h-1zM36 47h1v1h-1zM39 47h1v1h-1zM52 47h2v1h-2zM40 48h1v1h-1zM42 48h1v1h-1zM50 48h1v1h-1zM49 49h2v1h-2zM52 49h1v1h-1zM52 50h1v1h-1zM51 51h1v1h-1zM16 52h1v1h-1zM52 52h1v1h-1zM52 53h1v1h-1zM47 54h1v1h-1zM53 54h1v1h-1zM53 55h1v1h-1zM52 57h2v1h-2z"/>
<path fill="#003c71" d="M16 8h1v1h-1zM12 11h1v1h-1zM13 13h1v1h-1zM26 15h1v1h-1zM11 16h1v1h-1zM13 16h1v1h-1zM11 18h1v1h-1zM27 18h1v1h-1zM25 19h1v1h-1zM14 20h1v1h-1zM26 20h1v1h-1zM26 23h1v1h-1zM22 25h1v1h-1zM25 26h1v1h-1zM24 27h1v1h-1zM36 28h1v1h-1zM13 29h1v1h-1zM15 29h1v1h-1zM58 30h2v1h-2zM25 31h1v1h-1zM55 31h1v1h-1zM11 32h1v1h-1zM23 32h1v1h-1zM8 33h1v1h-1zM12 33h1v1h-1zM54 33h2v1h-2zM16 34h1v1h-1zM17 35h1v1h-1zM25 35h1v1h-1zM7 36h1v1h-1zM17 36h1v1h-1zM30 36h1v1h-1zM54 36h1v1h-1zM25 37h1v1h-1zM27 37h1v1h-1zM54 37h1v1h-1zM13 38h1v1h-1zM19 38h1v1h-1zM26 38h1v1h-1zM54 38h1v1h-1zM21 39h1v1h-1zM25 39h1v1h-1zM27 39h1v1h-1zM16 40h1v1h-1zM20 40h1v1h-1zM54 40h1v1h-1zM12 41h1v1h-1zM17 41h1v1h-1zM20 41h1v1h-1zM54 41h1v1h-1zM13 42h1v1h-1zM33 42h1v1h-1zM35 42h1v1h-1zM53 42h1v1h-1zM9 43h1v1h-1zM12 43h1v1h-1zM11 44h1v1h-1zM15 44h1v1h-1zM33 44h1v1h-1zM51 44h1v1h-1zM53 44h2v1h-2zM21 45h2v1h-2zM37 45h1v1h-1zM50 45h2v1h-2zM8 46h1v1h-1zM18 46h1v1h-1zM30 46h1v1h-1zM45 46h1v1h-1zM53 46h1v1h-1zM11 47h1v1h-1zM14 47h1v1h-1zM22 47h1v1h-1zM25 47h2v1h-2zM45 47h2v1h-2zM49 47h3v1h-3zM44 48h1v1h-1zM49 48h1v1h-1zM51 48h2v1h-2zM54 48h1v1h-1zM56 48h1v1h-1zM17 49h1v1h-1zM49 50h2v1h-2zM54 50h1v1h-1zM53 51h1v1h-1zM9 52h1v1h-1zM51 52h1v1h-1zM54 52h1v1h-1zM56 52h1v1h-1zM48 53h1v1h-1zM53 53h1v1h-1zM16 54h1v1h-1zM48 54h1v1h-1zM50 54h3v1h-3zM18 55h1v1h-1zM50 55h1v1h-1zM57 55h1v1h-1zM53 56h1v1h-1zM49 57h1v1h-1zM54 57h1v1h-1zM57 57h1v1h-1zM51 58h1v1h-1zM54 58h1v1h-1zM56 58h1v1h-1zM51 59h1v1h-1zM55 59h1v1h-1zM55 60h1v1h-1z"/>
<path fill="#02406d" d="M21 7h1v1h-1zM20 8h1v1h-1zM22 8h1v1h-1zM25 10h1v1h-1zM24 11h2v1h-2zM25 12h1v1h-1zM13 14h1v1h-1zM13 17h1v1h-1zM25 18h2v1h-2zM13 20h1v1h-1zM16 20h1v1h-1zM13 21h1v1h-1zM13 22h1v1h-1zM24 22h1v1h-1zM12 24h2v1h-2zM17 24h1v1h-1zM24 26h1v1h-1zM38 27h1v1h-1zM21 28h1v1h-1zM16 29h1v1h-1zM1 30h1v1h-1zM60 30h1v1h-1zM62 30h5v1h-5zM6 31h1v1h-1zM23 31h1v1h-1zM56 31h1v1h-1zM10 32h1v1h-1zM12 32h1v1h-1zM17 32h1v1h-1zM21 32h1v1h-1zM27 32h1v1h-1zM55 32h1v1h-1zM57 32h1v1h-1zM6 33h1v1h-1zM16 33h1v1h-1zM19 33h1v1h-1zM56 33h1v1h-1zM0 34h1v1h-1zM2 34h1v1h-1zM18 34h1v1h-1zM55 34h1v1h-1zM5 35h1v1h-1zM8 35h1v1h-1zM11 35h1v1h-1zM54 35h2v1h-2zM9 36h1v1h-1zM14 36h1v1h-1zM55 36h2v1h-2zM10 37h1v1h-1zM19 37h1v1h-1zM55 37h1v1h-1zM57 37h1v1h-1zM12 38h1v1h-1zM17 38h1v1h-1zM55 38h1v1h-1zM10 39h1v1h-1zM13 39h1v1h-1zM17 39h1v1h-1zM23 39h1v1h-1zM54 39h1v1h-1zM56 39h2v1h-2zM12 40h1v1h-1zM17 40h1v1h-1zM15 41h1v1h-1zM56 41h1v1h-1zM12 42h1v1h-1zM28 42h1v1h-1zM54 42h1v1h-1zM1 43h1v1h-1zM16 43h1v1h-1zM26 43h1v1h-1zM53 43h3v1h-3zM52 44h1v1h-1zM56 44h1v1h-1zM12 45h1v1h-1zM18 45h1v1h-1zM31 45h1v1h-1zM53 45h2v1h-2zM13 46h1v1h-1zM26 46h1v1h-1zM28 46h1v1h-1zM47 46h1v1h-1zM50 46h1v1h-1zM54 46h1v1h-1zM5 47h1v1h-1zM9 47h1v1h-1zM28 47h1v1h-1zM37 47h1v1h-1zM40 47h1v1h-1zM54 47h2v1h-2zM19 48h1v1h-1zM21 48h1v1h-1zM24 48h1v1h-1zM28 48h1v1h-1zM30 48h1v1h-1zM46 48h1v1h-1zM55 48h1v1h-1zM15 49h1v1h-1zM18 49h1v1h-1zM30 49h1v1h-1zM55 49h1v1h-1zM57 49h2v1h-2zM14 50h1v1h-1zM51 50h1v1h-1zM57 50h1v1h-1zM47 51h2v1h-2zM54 51h4v1h-4zM48 52h2v1h-2zM55 52h1v1h-1zM58 52h1v1h-1zM50 53h2v1h-2zM54 53h2v1h-2zM20 54h1v1h-1zM49 54h1v1h-1zM54 54h3v1h-3zM52 55h1v1h-1zM54 55h1v1h-1zM23 56h1v1h-1zM49 56h1v1h-1zM51 56h2v1h-2zM54 56h2v1h-2zM57 56h1v1h-1zM48 57h1v1h-1zM55 57h1v1h-1zM52 58h2v1h-2zM55 58h1v1h-1zM57 58h1v1h-1zM52 59h1v1h-1zM56 59h1v1h-1zM44 60h1v1h-1z"/>
<path fill="#034469" d="M21 8h1v1h-1zM19 9h1v1h-1zM17 10h1v1h-1zM16 11h1v1h-1zM24 13h1v1h-1zM15 15h1v1h-1zM24 15h2v1h-2zM25 21h1v1h-1zM15 22h1v1h-1zM25 22h1v1h-1zM15 23h2v1h-2zM24 23h1v1h-1zM31 23h1v1h-1zM20 24h1v1h-1zM16 25h1v1h-1zM20 25h1v1h-1zM27 25h1v1h-1zM34 27h1v1h-1zM15 28h1v1h-1zM22 29h1v1h-1zM10 30h1v1h-1zM61 30h1v1h-1zM68 30h1v1h-1zM3 31h1v1h-1zM13 31h1v1h-1zM57 31h5v1h-5zM1 32h1v1h-1zM15 32h1v1h-1zM22 32h1v1h-1zM56 32h1v1h-1zM59 32h1v1h-1zM80 32h2v1h-2zM17 33h1v1h-1zM57 33h1v1h-1zM60 33h1v1h-1zM81 33h1v1h-1zM57 34h1v1h-1zM69 34h1v1h-1zM73 34h1v1h-1zM85 34h1v1h-1zM89 34h1v1h-1zM91 34h1v1h-1zM62 35h1v1h-1zM65 35h2v1h-2zM79 35h1v1h-1zM82 35h1v1h-1zM5 36h1v1h-1zM21 36h1v1h-1zM65 36h1v1h-1zM72 36h1v1h-1zM23 37h1v1h-1zM56 37h1v1h-1zM60 37h1v1h-1zM66 37h1v1h-1zM89 37h1v1h-1zM28 38h1v1h-1zM56 38h1v1h-1zM60 38h1v1h-1zM69 38h1v1h-1zM55 39h1v1h-1zM70 39h1v1h-1zM76 39h1v1h-1zM81 39h1v1h-1zM9 40h3v1h-3zM56 40h2v1h-2zM68 40h1v1h-1zM74 40h1v1h-1zM86 40h1v1h-1zM4 41h1v1h-1zM55 41h1v1h-1zM57 41h1v1h-1zM66 41h1v1h-1zM93 41h1v1h-1zM11 42h1v1h-1zM21 42h1v1h-1zM27 42h1v1h-1zM55 42h4v1h-4zM83 42h1v1h-1zM8 43h1v1h-1zM22 43h1v1h-1zM24 43h1v1h-1zM57 43h1v1h-1zM66 43h1v1h-1zM17 44h1v1h-1zM21 44h1v1h-1zM25 44h1v1h-1zM28 44h1v1h-1zM55 44h1v1h-1zM59 44h1v1h-1zM73 44h1v1h-1zM86 44h1v1h-1zM23 45h1v1h-1zM56 45h1v1h-1zM59 45h2v1h-2zM78 45h1v1h-1zM81 45h1v1h-1zM17 46h1v1h-1zM39 46h1v1h-1zM44 46h1v1h-1zM55 46h1v1h-1zM79 46h1v1h-1zM4 47h1v1h-1zM19 47h1v1h-1zM23 47h1v1h-1zM29 47h1v1h-1zM31 47h1v1h-1zM33 47h1v1h-1zM38 47h1v1h-1zM56 47h1v1h-1zM74 47h2v1h-2zM10 48h1v1h-1zM14 48h1v1h-1zM18 48h1v1h-1zM36 48h1v1h-1zM41 48h1v1h-1zM47 48h2v1h-2zM58 48h3v1h-3zM64 48h1v1h-1zM67 48h1v1h-1zM78 48h1v1h-1zM23 49h1v1h-1zM39 49h1v1h-1zM63 49h1v1h-1zM48 50h1v1h-1zM55 50h1v1h-1zM74 50h1v1h-1zM15 51h1v1h-1zM20 51h1v1h-1zM50 51h1v1h-1zM61 51h1v1h-1zM79 51h2v1h-2zM57 52h1v1h-1zM59 52h1v1h-1zM79 52h1v1h-1zM17 53h1v1h-1zM20 53h2v1h-2zM56 53h2v1h-2zM72 53h1v1h-1zM75 53h1v1h-1zM87 53h1v1h-1zM67 54h1v1h-1zM72 54h1v1h-1zM76 54h1v1h-1zM16 55h1v1h-1zM19 55h1v1h-1zM55 55h2v1h-2zM58 55h2v1h-2zM68 55h1v1h-1zM71 55h1v1h-1zM85 55h1v1h-1zM19 56h1v1h-1zM47 56h2v1h-2zM59 56h1v1h-1zM65 56h1v1h-1zM69 56h1v1h-1zM56 57h1v1h-1zM58 57h4v1h-4zM63 57h1v1h-1zM79 57h1v1h-1zM49 58h1v1h-1zM59 58h1v1h-1zM67 58h1v1h-1zM74 58h1v1h-1zM54 59h1v1h-1zM67 59h1v1h-1zM64 60h1v1h-1zM66 60h1v1h-1zM37 61h1v1h-1zM42 61h1v1h-1zM44 63h1v1h-1z"/>
<path fill="#054865" d="M14 8h1v1h-1zM17 9h1v1h-1zM13 10h1v1h-1zM21 10h1v1h-1zM23 10h1v1h-1zM14 11h1v1h-1zM20 12h1v1h-1zM23 16h2v1h-2zM12 17h1v1h-1zM16 17h1v1h-1zM13 18h1v1h-1zM22 18h1v1h-1zM22 19h1v1h-1zM25 20h1v1h-1zM12 21h1v1h-1zM14 21h1v1h-1zM23 21h1v1h-1zM26 21h1v1h-1zM17 22h1v1h-1zM79 22h1v1h-1zM17 23h1v1h-1zM23 23h1v1h-1zM25 23h1v1h-1zM25 25h1v1h-1zM16 26h1v1h-1zM18 26h1v1h-1zM20 27h1v1h-1zM14 29h1v1h-1zM22 30h1v1h-1zM70 30h1v1h-1zM77 30h1v1h-1zM85 30h1v1h-1zM62 31h2v1h-2zM65 31h4v1h-4zM78 31h1v1h-1zM80 31h1v1h-1zM82 31h2v1h-2zM86 31h2v1h-2zM0 32h1v1h-1zM3 32h1v1h-1zM60 32h4v1h-4zM65 32h2v1h-2zM69 32h1v1h-1zM77 32h3v1h-3zM82 32h1v1h-1zM86 32h1v1h-1zM88 32h3v1h-3zM0 33h1v1h-1zM3 33h1v1h-1zM58 33h1v1h-1zM61 33h1v1h-1zM63 33h4v1h-4zM69 33h1v1h-1zM77 33h2v1h-2zM80 33h1v1h-1zM82 33h4v1h-4zM90 33h1v1h-1zM4 34h1v1h-1zM24 34h1v1h-1zM56 34h1v1h-1zM58 34h9v1h-9zM71 34h1v1h-1zM76 34h4v1h-4zM81 34h1v1h-1zM83 34h2v1h-2zM87 34h1v1h-1zM90 34h1v1h-1zM1 35h1v1h-1zM6 35h1v1h-1zM56 35h6v1h-6zM63 35h1v1h-1zM67 35h3v1h-3zM71 35h1v1h-1zM75 35h1v1h-1zM77 35h2v1h-2zM80 35h1v1h-1zM83 35h6v1h-6zM57 36h3v1h-3zM61 36h2v1h-2zM64 36h1v1h-1zM66 36h5v1h-5zM73 36h1v1h-1zM76 36h1v1h-1zM78 36h4v1h-4zM83 36h5v1h-5zM89 36h1v1h-1zM91 36h1v1h-1zM0 37h1v1h-1zM6 37h1v1h-1zM22 37h1v1h-1zM58 37h1v1h-1zM61 37h1v1h-1zM64 37h2v1h-2zM67 37h5v1h-5zM74 37h2v1h-2zM77 37h5v1h-5zM83 37h3v1h-3zM87 37h2v1h-2zM90 37h2v1h-2zM2 38h1v1h-1zM57 38h3v1h-3zM61 38h8v1h-8zM71 38h2v1h-2zM75 38h2v1h-2zM78 38h1v1h-1zM81 38h5v1h-5zM87 38h3v1h-3zM91 38h2v1h-2zM22 39h1v1h-1zM58 39h5v1h-5zM64 39h1v1h-1zM66 39h4v1h-4zM71 39h5v1h-5zM77 39h4v1h-4zM82 39h4v1h-4zM87 39h2v1h-2zM90 39h1v1h-1zM92 39h1v1h-1zM18 40h1v1h-1zM55 40h1v1h-1zM63 40h1v1h-1zM66 40h2v1h-2zM69 40h1v1h-1zM71 40h1v1h-1zM73 40h1v1h-1zM75 40h1v1h-1zM77 40h6v1h-6zM85 40h1v1h-1zM87 40h2v1h-2zM90 40h3v1h-3zM11 41h1v1h-1zM58 41h2v1h-2zM61 41h3v1h-3zM65 41h1v1h-1zM67 41h3v1h-3zM71 41h6v1h-6zM78 41h2v1h-2zM82 41h1v1h-1zM84 41h3v1h-3zM91 41h1v1h-1zM16 42h1v1h-1zM59 42h4v1h-4zM64 42h1v1h-1zM66 42h2v1h-2zM69 42h2v1h-2zM72 42h1v1h-1zM74 42h2v1h-2zM77 42h6v1h-6zM84 42h6v1h-6zM91 42h3v1h-3zM19 43h1v1h-1zM21 43h1v1h-1zM56 43h1v1h-1zM58 43h4v1h-4zM63 43h1v1h-1zM65 43h1v1h-1zM67 43h4v1h-4zM72 43h2v1h-2zM75 43h4v1h-4zM80 43h1v1h-1zM84 43h2v1h-2zM88 43h1v1h-1zM90 43h1v1h-1zM9 44h1v1h-1zM57 44h2v1h-2zM60 44h2v1h-2zM64 44h5v1h-5zM70 44h3v1h-3zM74 44h1v1h-1zM77 44h6v1h-6zM84 44h2v1h-2zM87 44h2v1h-2zM90 44h1v1h-1zM29 45h1v1h-1zM55 45h1v1h-1zM57 45h2v1h-2zM61 45h1v1h-1zM63 45h4v1h-4zM68 45h2v1h-2zM71 45h1v1h-1zM73 45h5v1h-5zM79 45h2v1h-2zM83 45h1v1h-1zM87 45h1v1h-1zM9 46h1v1h-1zM16 46h1v1h-1zM20 46h1v1h-1zM22 46h1v1h-1zM29 46h1v1h-1zM36 46h1v1h-1zM56 46h10v1h-10zM70 46h9v1h-9zM80 46h2v1h-2zM83 46h2v1h-2zM16 47h1v1h-1zM57 47h5v1h-5zM63 47h4v1h-4zM68 47h2v1h-2zM71 47h2v1h-2zM76 47h1v1h-1zM80 47h2v1h-2zM83 47h2v1h-2zM39 48h1v1h-1zM57 48h1v1h-1zM61 48h3v1h-3zM65 48h1v1h-1zM70 48h2v1h-2zM73 48h3v1h-3zM77 48h1v1h-1zM79 48h3v1h-3zM85 48h1v1h-1zM4 49h1v1h-1zM11 49h1v1h-1zM16 49h1v1h-1zM22 49h1v1h-1zM48 49h1v1h-1zM56 49h1v1h-1zM59 49h4v1h-4zM64 49h1v1h-1zM66 49h1v1h-1zM68 49h1v1h-1zM71 49h1v1h-1zM73 49h1v1h-1zM75 49h1v1h-1zM77 49h4v1h-4zM83 49h1v1h-1zM16 50h2v1h-2zM47 50h1v1h-1zM60 50h1v1h-1zM63 50h1v1h-1zM68 50h6v1h-6zM76 50h3v1h-3zM80 50h1v1h-1zM84 50h4v1h-4zM14 51h1v1h-1zM17 51h1v1h-1zM22 51h2v1h-2zM35 51h1v1h-1zM59 51h2v1h-2zM62 51h1v1h-1zM64 51h1v1h-1zM69 51h6v1h-6zM77 51h1v1h-1zM15 52h1v1h-1zM62 52h1v1h-1zM67 52h1v1h-1zM74 52h1v1h-1zM76 52h1v1h-1zM78 52h1v1h-1zM80 52h1v1h-1zM85 52h1v1h-1zM8 53h1v1h-1zM46 53h2v1h-2zM58 53h2v1h-2zM65 53h1v1h-1zM67 53h4v1h-4zM73 53h2v1h-2zM76 53h1v1h-1zM78 53h3v1h-3zM85 53h2v1h-2zM17 54h2v1h-2zM57 54h4v1h-4zM62 54h1v1h-1zM66 54h1v1h-1zM68 54h3v1h-3zM73 54h1v1h-1zM77 54h1v1h-1zM79 54h2v1h-2zM47 55h1v1h-1zM49 55h1v1h-1zM60 55h1v1h-1zM64 55h1v1h-1zM66 55h2v1h-2zM70 55h1v1h-1zM72 55h6v1h-6zM79 55h1v1h-1zM82 55h1v1h-1zM86 55h1v1h-1zM56 56h1v1h-1zM58 56h1v1h-1zM66 56h1v1h-1zM68 56h1v1h-1zM74 56h2v1h-2zM77 56h7v1h-7zM88 56h1v1h-1zM16 57h1v1h-1zM47 57h1v1h-1zM62 57h1v1h-1zM66 57h3v1h-3zM70 57h9v1h-9zM47 58h2v1h-2zM64 58h1v1h-1zM69 58h1v1h-1zM73 58h1v1h-1zM76 58h4v1h-4zM84 58h1v1h-1zM49 59h1v1h-1zM58 59h1v1h-1zM60 59h1v1h-1zM62 59h1v1h-1zM65 59h1v1h-1zM68 59h3v1h-3zM72 59h4v1h-4zM77 59h3v1h-3zM68 60h3v1h-3zM72 60h1v1h-1zM74 60h3v1h-3zM78 60h1v1h-1zM67 61h1v1h-1zM71 61h1v1h-1zM74 61h3v1h-3zM67 62h1v1h-1zM79 62h1v1h-1zM78 63h1v1h-1z"/>
<path fill="#074c61" d="M17 8h1v1h-1zM22 9h1v1h-1zM22 10h1v1h-1zM19 11h1v1h-1zM23 12h1v1h-1zM23 13h1v1h-1zM12 14h1v1h-1zM15 16h1v1h-1zM21 18h1v1h-1zM13 19h1v1h-1zM16 19h1v1h-1zM21 20h1v1h-1zM8 21h1v1h-1zM12 23h1v1h-1zM22 24h1v1h-1zM80 24h1v1h-1zM77 25h2v1h-2zM85 25h1v1h-1zM79 26h1v1h-1zM82 26h4v1h-4zM76 27h2v1h-2zM83 27h2v1h-2zM78 28h3v1h-3zM82 28h1v1h-1zM86 28h1v1h-1zM77 29h1v1h-1zM79 29h2v1h-2zM82 29h4v1h-4zM87 29h1v1h-1zM89 29h1v1h-1zM18 30h1v1h-1zM69 30h1v1h-1zM76 30h1v1h-1zM78 30h2v1h-2zM81 30h4v1h-4zM86 30h3v1h-3zM64 31h1v1h-1zM69 31h1v1h-1zM77 31h1v1h-1zM79 31h1v1h-1zM81 31h1v1h-1zM85 31h1v1h-1zM6 32h1v1h-1zM64 32h1v1h-1zM67 32h2v1h-2zM83 32h3v1h-3zM87 32h1v1h-1zM62 33h1v1h-1zM68 33h1v1h-1zM79 33h1v1h-1zM86 33h1v1h-1zM88 33h2v1h-2zM92 33h1v1h-1zM5 34h1v1h-1zM7 34h1v1h-1zM9 34h1v1h-1zM67 34h2v1h-2zM80 34h1v1h-1zM82 34h1v1h-1zM86 34h1v1h-1zM64 35h1v1h-1zM81 35h1v1h-1zM89 35h1v1h-1zM60 36h1v1h-1zM63 36h1v1h-1zM74 36h1v1h-1zM77 36h1v1h-1zM82 36h1v1h-1zM88 36h1v1h-1zM90 36h1v1h-1zM5 37h1v1h-1zM13 37h1v1h-1zM62 37h2v1h-2zM73 37h1v1h-1zM76 37h1v1h-1zM82 37h1v1h-1zM86 37h1v1h-1zM6 38h1v1h-1zM10 38h1v1h-1zM70 38h1v1h-1zM74 38h1v1h-1zM77 38h1v1h-1zM79 38h2v1h-2zM86 38h1v1h-1zM90 38h1v1h-1zM65 39h1v1h-1zM86 39h1v1h-1zM91 39h1v1h-1zM93 39h1v1h-1zM2 40h1v1h-1zM4 40h1v1h-1zM22 40h1v1h-1zM58 40h1v1h-1zM60 40h1v1h-1zM62 40h1v1h-1zM65 40h1v1h-1zM70 40h1v1h-1zM72 40h1v1h-1zM76 40h1v1h-1zM83 40h2v1h-2zM89 40h1v1h-1zM93 40h1v1h-1zM8 41h1v1h-1zM60 41h1v1h-1zM64 41h1v1h-1zM70 41h1v1h-1zM77 41h1v1h-1zM81 41h1v1h-1zM83 41h1v1h-1zM87 41h1v1h-1zM90 41h1v1h-1zM3 42h2v1h-2zM7 42h1v1h-1zM65 42h1v1h-1zM68 42h1v1h-1zM71 42h1v1h-1zM73 42h1v1h-1zM76 42h1v1h-1zM90 42h1v1h-1zM62 43h1v1h-1zM71 43h1v1h-1zM74 43h1v1h-1zM79 43h1v1h-1zM81 43h3v1h-3zM86 43h2v1h-2zM89 43h1v1h-1zM91 43h2v1h-2zM16 44h1v1h-1zM62 44h2v1h-2zM69 44h1v1h-1zM75 44h2v1h-2zM3 45h1v1h-1zM14 45h1v1h-1zM62 45h1v1h-1zM67 45h1v1h-1zM70 45h1v1h-1zM1 46h1v1h-1zM31 46h1v1h-1zM68 46h1v1h-1zM82 46h1v1h-1zM0 47h1v1h-1zM15 47h1v1h-1zM21 47h1v1h-1zM41 47h1v1h-1zM62 47h1v1h-1zM67 47h1v1h-1zM70 47h1v1h-1zM73 47h1v1h-1zM77 47h2v1h-2zM82 47h1v1h-1zM5 48h1v1h-1zM9 48h1v1h-1zM20 48h1v1h-1zM26 48h2v1h-2zM32 48h1v1h-1zM34 48h2v1h-2zM37 48h1v1h-1zM66 48h1v1h-1zM76 48h1v1h-1zM83 48h2v1h-2zM21 49h1v1h-1zM28 49h1v1h-1zM67 49h1v1h-1zM69 49h2v1h-2zM72 49h1v1h-1zM74 49h1v1h-1zM76 49h1v1h-1zM81 49h1v1h-1zM10 50h1v1h-1zM19 50h1v1h-1zM25 50h1v1h-1zM46 50h1v1h-1zM59 50h1v1h-1zM61 50h2v1h-2zM75 50h1v1h-1zM81 50h1v1h-1zM7 51h1v1h-1zM19 51h1v1h-1zM40 51h1v1h-1zM75 51h2v1h-2zM81 51h1v1h-1zM83 51h1v1h-1zM23 52h1v1h-1zM47 52h1v1h-1zM65 52h1v1h-1zM71 52h3v1h-3zM75 52h1v1h-1zM77 52h1v1h-1zM83 52h1v1h-1zM38 53h1v1h-1zM71 53h1v1h-1zM21 54h1v1h-1zM71 54h1v1h-1zM74 54h2v1h-2zM78 54h1v1h-1zM63 55h1v1h-1zM69 55h1v1h-1zM78 55h1v1h-1zM81 55h1v1h-1zM84 55h1v1h-1zM87 55h1v1h-1zM63 56h1v1h-1zM67 56h1v1h-1zM70 56h1v1h-1zM72 56h2v1h-2zM76 56h1v1h-1zM64 57h2v1h-2zM69 57h1v1h-1zM60 58h1v1h-1zM62 58h2v1h-2zM65 58h1v1h-1zM68 58h1v1h-1zM70 58h3v1h-3zM75 58h1v1h-1zM80 58h1v1h-1zM45 59h1v1h-1zM47 59h1v1h-1zM53 59h1v1h-1zM61 59h1v1h-1zM63 59h1v1h-1zM71 59h1v1h-1zM76 59h1v1h-1zM81 59h1v1h-1zM86 59h1v1h-1zM49 60h1v1h-1zM52 60h1v1h-1zM59 60h1v1h-1zM61 60h3v1h-3zM65 60h1v1h-1zM67 60h1v1h-1zM71 60h1v1h-1zM73 60h1v1h-1zM77 60h1v1h-1zM79 60h3v1h-3zM54 61h1v1h-1zM58 61h1v1h-1zM68 61h1v1h-1zM70 61h1v1h-1zM72 61h2v1h-2zM77 61h4v1h-4zM55 62h1v1h-1zM61 62h1v1h-1zM70 62h7v1h-7zM78 62h1v1h-1zM80 62h1v1h-1zM71 63h2v1h-2zM74 63h1v1h-1zM77 63h1v1h-1zM79 63h2v1h-2zM82 63h2v1h-2zM63 64h1v1h-1zM69 64h1v1h-1zM76 64h2v1h-2zM82 64h2v1h-2zM80 65h1v1h-1zM74 67h2v1h-2zM85 68h1v1h-1zM72 69h1v1h-1zM66 70h1v1h-1zM58 73h1v1h-1z"/>
<path fill="#08505d" d="M13 6h1v1h-1zM20 10h1v1h-1zM13 11h1v1h-1zM21 11h1v1h-1zM23 11h1v1h-1zM14 12h1v1h-1zM22 12h1v1h-1zM12 16h1v1h-1zM24 18h1v1h-1zM20 19h1v1h-1zM17 20h1v1h-1zM23 20h1v1h-1zM15 21h1v1h-1zM16 22h1v1h-1zM21 22h1v1h-1zM82 25h1v1h-1zM19 26h1v1h-1zM78 26h1v1h-1zM78 27h2v1h-2zM82 27h1v1h-1zM85 27h1v1h-1zM10 28h1v1h-1zM19 28h1v1h-1zM18 29h1v1h-1zM86 29h1v1h-1zM2 31h1v1h-1zM14 31h1v1h-1zM1 33h1v1h-1zM4 35h1v1h-1zM1 38h1v1h-1zM6 39h1v1h-1zM5 40h1v1h-1zM6 41h1v1h-1zM10 42h1v1h-1zM14 42h1v1h-1zM13 44h1v1h-1zM10 45h1v1h-1zM19 45h1v1h-1zM26 45h1v1h-1zM10 46h2v1h-2zM15 46h1v1h-1zM22 48h1v1h-1zM29 48h1v1h-1zM8 49h1v1h-1zM13 49h1v1h-1zM1 50h1v1h-1zM9 50h1v1h-1zM11 50h1v1h-1zM20 50h1v1h-1zM45 50h1v1h-1zM9 51h1v1h-1zM3 52h1v1h-1zM19 52h2v1h-2zM16 53h1v1h-1zM22 54h1v1h-1zM42 54h1v1h-1zM46 54h1v1h-1zM21 55h2v1h-2zM40 55h1v1h-1zM43 55h1v1h-1zM14 56h1v1h-1zM16 56h1v1h-1zM44 57h1v1h-1zM37 58h1v1h-1zM58 58h1v1h-1zM40 59h1v1h-1zM43 59h2v1h-2zM64 59h1v1h-1zM66 59h1v1h-1zM50 60h1v1h-1zM53 60h2v1h-2zM49 61h1v1h-1zM52 61h1v1h-1zM57 61h1v1h-1zM59 61h1v1h-1zM63 61h1v1h-1zM65 61h1v1h-1zM69 61h1v1h-1zM48 62h1v1h-1zM50 62h1v1h-1zM65 62h2v1h-2zM68 62h1v1h-1zM77 62h1v1h-1zM81 62h1v1h-1zM61 63h1v1h-1zM65 63h1v1h-1zM67 63h2v1h-2zM73 63h1v1h-1zM75 63h2v1h-2zM65 64h1v1h-1zM68 64h1v1h-1zM70 64h5v1h-5zM78 64h2v1h-2zM81 64h1v1h-1zM84 64h1v1h-1zM64 65h2v1h-2zM67 65h1v1h-1zM70 65h2v1h-2zM73 65h7v1h-7zM81 65h3v1h-3zM92 65h1v1h-1zM47 66h1v1h-1zM69 66h2v1h-2zM73 66h7v1h-7zM82 66h1v1h-1zM84 66h1v1h-1zM65 67h1v1h-1zM68 67h1v1h-1zM73 67h1v1h-1zM78 67h5v1h-5zM85 67h1v1h-1zM90 67h2v1h-2zM71 68h1v1h-1zM74 68h2v1h-2zM77 68h5v1h-5zM83 68h1v1h-1zM86 68h2v1h-2zM92 68h1v1h-1zM54 69h1v1h-1zM67 69h1v1h-1zM70 69h2v1h-2zM74 69h1v1h-1zM76 69h1v1h-1zM78 69h1v1h-1zM80 69h1v1h-1zM82 69h5v1h-5zM88 69h1v1h-1zM90 69h2v1h-2zM67 70h1v1h-1zM71 70h2v1h-2zM74 70h1v1h-1zM77 70h2v1h-2zM80 70h2v1h-2zM83 70h2v1h-2zM86 70h1v1h-1zM88 70h5v1h-5zM69 71h1v1h-1zM74 71h2v1h-2zM77 71h3v1h-3zM81 71h3v1h-3zM86 71h1v1h-1zM88 71h1v1h-1zM90 71h1v1h-1zM55 72h1v1h-1zM73 72h1v1h-1zM75 72h1v1h-1zM78 72h1v1h-1zM82 72h1v1h-1zM85 72h2v1h-2zM89 72h2v1h-2zM68 73h2v1h-2zM73 73h1v1h-1zM77 73h2v1h-2zM82 73h4v1h-4zM89 73h1v1h-1zM93 73h1v1h-1zM73 74h1v1h-1zM78 74h1v1h-1zM85 74h1v1h-1zM88 74h1v1h-1zM55 75h1v1h-1zM70 76h1v1h-1zM77 76h1v1h-1zM79 76h1v1h-1zM74 77h1v1h-1zM78 77h1v1h-1zM80 77h1v1h-1zM72 78h1v1h-1zM80 78h1v1h-1zM85 78h1v1h-1zM68 79h1v1h-1zM83 80h1v1h-1zM71 81h1v1h-1zM84 81h1v1h-1zM78 82h1v1h-1zM81 82h1v1h-1zM76 83h2v1h-2z"/>
<path fill="#0a5459" d="M25 9h1v1h-1zM22 11h1v1h-1zM13 12h1v1h-1zM17 17h1v1h-1zM25 17h1v1h-1zM14 18h1v1h-1zM23 19h1v1h-1zM20 20h1v1h-1zM19 21h2v1h-2zM22 21h1v1h-1zM22 22h1v1h-1zM19 23h2v1h-2zM18 24h2v1h-2zM19 25h1v1h-1zM20 26h1v1h-1zM12 30h1v1h-1zM5 31h1v1h-1zM3 34h1v1h-1zM4 36h1v1h-1zM9 37h1v1h-1zM3 38h2v1h-2zM8 39h1v1h-1zM7 40h2v1h-2zM9 42h1v1h-1zM7 44h1v1h-1zM11 45h1v1h-1zM17 45h1v1h-1zM8 48h1v1h-1zM25 48h1v1h-1zM31 48h1v1h-1zM12 49h1v1h-1zM36 49h1v1h-1zM40 49h2v1h-2zM44 49h1v1h-1zM46 49h1v1h-1zM5 50h1v1h-1zM21 50h1v1h-1zM37 50h2v1h-2zM10 52h1v1h-1zM17 52h1v1h-1zM30 52h1v1h-1zM45 52h1v1h-1zM15 53h1v1h-1zM24 53h1v1h-1zM45 53h1v1h-1zM45 54h1v1h-1zM7 55h1v1h-1zM14 55h1v1h-1zM17 55h1v1h-1zM31 55h1v1h-1zM37 55h1v1h-1zM39 55h1v1h-1zM17 56h1v1h-1zM20 56h1v1h-1zM43 56h1v1h-1zM13 57h2v1h-2zM20 57h1v1h-1zM44 58h1v1h-1zM50 58h1v1h-1zM41 59h1v1h-1zM36 60h1v1h-1zM48 60h1v1h-1zM51 60h1v1h-1zM60 61h1v1h-1zM62 61h1v1h-1zM54 62h1v1h-1zM63 62h2v1h-2zM69 62h1v1h-1zM52 63h1v1h-1zM60 63h1v1h-1zM64 63h1v1h-1zM69 63h2v1h-2zM47 64h1v1h-1zM64 64h1v1h-1zM75 64h1v1h-1zM80 64h1v1h-1zM59 65h1v1h-1zM68 65h2v1h-2zM72 65h1v1h-1zM60 66h1v1h-1zM63 66h1v1h-1zM65 66h4v1h-4zM71 66h2v1h-2zM80 66h2v1h-2zM57 67h1v1h-1zM59 67h1v1h-1zM64 67h1v1h-1zM66 67h2v1h-2zM69 67h4v1h-4zM76 67h2v1h-2zM62 68h1v1h-1zM64 68h1v1h-1zM69 68h1v1h-1zM72 68h2v1h-2zM82 68h1v1h-1zM84 68h1v1h-1zM88 68h1v1h-1zM90 68h2v1h-2zM51 69h1v1h-1zM59 69h1v1h-1zM66 69h1v1h-1zM68 69h2v1h-2zM73 69h1v1h-1zM77 69h1v1h-1zM79 69h1v1h-1zM81 69h1v1h-1zM92 69h1v1h-1zM64 70h1v1h-1zM68 70h3v1h-3zM82 70h1v1h-1zM87 70h1v1h-1zM49 71h1v1h-1zM65 71h2v1h-2zM68 71h1v1h-1zM71 71h3v1h-3zM76 71h1v1h-1zM80 71h1v1h-1zM85 71h1v1h-1zM89 71h1v1h-1zM91 71h2v1h-2zM52 72h1v1h-1zM62 72h1v1h-1zM67 72h1v1h-1zM69 72h2v1h-2zM72 72h1v1h-1zM74 72h1v1h-1zM77 72h1v1h-1zM79 72h3v1h-3zM87 72h2v1h-2zM67 73h1v1h-1zM71 73h2v1h-2zM79 73h1v1h-1zM86 73h1v1h-1zM88 73h1v1h-1zM90 73h1v1h-1zM67 74h2v1h-2zM70 74h1v1h-1zM72 74h1v1h-1zM82 74h1v1h-1zM64 75h1v1h-1zM66 75h1v1h-1zM68 75h1v1h-1zM71 75h4v1h-4zM76 75h2v1h-2zM68 76h2v1h-2zM72 76h2v1h-2zM75 76h2v1h-2zM82 76h1v1h-1zM50 77h1v1h-1zM62 77h1v1h-1zM65 77h1v1h-1zM68 77h6v1h-6zM75 77h1v1h-1zM77 77h1v1h-1zM81 77h1v1h-1zM50 78h1v1h-1zM55 78h1v1h-1zM69 78h1v1h-1zM73 78h1v1h-1zM75 78h4v1h-4zM53 79h1v1h-1zM70 79h1v1h-1zM72 79h1v1h-1zM74 79h2v1h-2zM77 79h1v1h-1zM79 79h3v1h-3zM49 80h1v1h-1zM54 80h1v1h-1zM64 80h2v1h-2zM67 80h2v1h-2zM70 80h4v1h-4zM75 80h2v1h-2zM79 80h1v1h-1zM62 81h1v1h-1zM66 81h1v1h-1zM69 81h1v1h-1zM72 81h1v1h-1zM75 81h1v1h-1zM77 81h3v1h-3zM81 81h1v1h-1zM68 82h6v1h-6zM76 82h1v1h-1zM79 82h1v1h-1zM82 82h1v1h-1zM87 82h1v1h-1zM63 83h1v1h-1zM69 83h2v1h-2zM72 83h2v1h-2zM75 83h1v1h-1zM78 83h1v1h-1zM80 83h1v1h-1zM82 83h1v1h-1zM85 83h1v1h-1zM69 84h2v1h-2zM72 84h2v1h-2zM76 84h1v1h-1zM78 84h4v1h-4zM83 84h1v1h-1zM59 85h1v1h-1zM61 85h1v1h-1zM66 85h1v1h-1zM70 85h1v1h-1zM74 85h4v1h-4zM47 86h1v1h-1zM60 86h1v1h-1zM62 86h1v1h-1zM65 86h2v1h-2zM70 86h1v1h-1zM73 86h1v1h-1zM56 87h1v1h-1zM61 87h1v1h-1zM67 87h1v1h-1zM72 87h4v1h-4zM77 87h1v1h-1zM48 88h1v1h-1zM63 88h1v1h-1zM66 88h1v1h-1zM79 88h1v1h-1zM81 88h1v1h-1zM52 89h1v1h-1zM71 89h1v1h-1zM73 89h1v1h-1zM76 89h1v1h-1zM45 90h1v1h-1zM61 90h1v1h-1zM66 90h1v1h-1zM68 90h1v1h-1zM75 90h2v1h-2zM78 90h1v1h-1zM69 91h1v1h-1zM72 91h1v1h-1zM31 92h1v1h-1zM45 92h1v1h-1zM47 92h1v1h-1zM55 92h1v1h-1zM46 93h1v1h-1zM49 94h1v1h-1zM47 95h1v1h-1zM47 98h1v1h-1z"/>
<path fill="#0c5855" d="M16 9h1v1h-1zM15 13h2v1h-2zM24 14h1v1h-1zM22 17h1v1h-1zM15 19h1v1h-1zM15 20h1v1h-1zM18 20h1v1h-1zM24 20h1v1h-1zM26 22h1v1h-1zM22 23h1v1h-1zM16 24h1v1h-1zM26 24h1v1h-1zM35 29h1v1h-1zM0 31h1v1h-1zM7 37h1v1h-1zM4 39h1v1h-1zM15 40h1v1h-1zM0 42h1v1h-1zM8 44h1v1h-1zM10 44h1v1h-1zM8 45h1v1h-1zM20 45h1v1h-1zM0 46h1v1h-1zM14 46h1v1h-1zM37 46h1v1h-1zM6 47h1v1h-1zM32 47h1v1h-1zM42 47h1v1h-1zM13 48h1v1h-1zM15 48h2v1h-2zM3 50h1v1h-1zM6 50h1v1h-1zM24 50h1v1h-1zM30 50h1v1h-1zM4 51h1v1h-1zM16 51h1v1h-1zM43 53h2v1h-2zM0 54h1v1h-1zM4 54h1v1h-1zM23 54h1v1h-1zM25 54h1v1h-1zM37 54h1v1h-1zM15 55h1v1h-1zM15 56h1v1h-1zM18 56h1v1h-1zM22 56h1v1h-1zM42 57h1v1h-1zM41 58h1v1h-1zM56 60h1v1h-1zM58 60h1v1h-1zM56 61h1v1h-1zM66 61h1v1h-1zM47 62h1v1h-1zM51 62h1v1h-1zM57 62h1v1h-1zM62 62h1v1h-1zM46 63h1v1h-1zM56 63h1v1h-1zM63 63h1v1h-1zM66 63h1v1h-1zM49 64h1v1h-1zM59 64h1v1h-1zM62 64h1v1h-1zM66 64h2v1h-2zM55 65h1v1h-1zM62 65h2v1h-2zM56 66h1v1h-1zM61 66h1v1h-1zM64 66h1v1h-1zM62 67h1v1h-1zM47 68h1v1h-1zM56 68h1v1h-1zM61 68h1v1h-1zM63 68h1v1h-1zM65 68h2v1h-2zM68 68h1v1h-1zM70 68h1v1h-1zM50 69h1v1h-1zM52 69h1v1h-1zM55 69h1v1h-1zM57 69h1v1h-1zM64 69h2v1h-2zM54 70h1v1h-1zM59 70h1v1h-1zM63 70h1v1h-1zM65 70h1v1h-1zM79 70h1v1h-1zM55 71h2v1h-2zM67 71h1v1h-1zM70 71h1v1h-1zM46 72h1v1h-1zM68 72h1v1h-1zM71 72h1v1h-1zM83 72h1v1h-1zM56 73h1v1h-1zM64 73h1v1h-1zM70 73h1v1h-1zM80 73h1v1h-1zM52 74h1v1h-1zM55 74h1v1h-1zM65 74h2v1h-2zM71 74h1v1h-1zM48 75h1v1h-1zM58 75h1v1h-1zM60 75h1v1h-1zM63 75h1v1h-1zM69 75h2v1h-2zM43 76h1v1h-1zM47 76h1v1h-1zM51 76h1v1h-1zM53 76h1v1h-1zM60 76h1v1h-1zM62 76h1v1h-1zM65 76h3v1h-3zM71 76h1v1h-1zM78 76h1v1h-1zM55 77h3v1h-3zM59 77h1v1h-1zM66 77h1v1h-1zM76 77h1v1h-1zM52 78h1v1h-1zM54 78h1v1h-1zM56 78h1v1h-1zM62 78h1v1h-1zM65 78h4v1h-4zM70 78h1v1h-1zM81 78h1v1h-1zM50 79h1v1h-1zM54 79h1v1h-1zM65 79h1v1h-1zM67 79h1v1h-1zM69 79h1v1h-1zM71 79h1v1h-1zM73 79h1v1h-1zM76 79h1v1h-1zM78 79h1v1h-1zM82 79h1v1h-1zM66 80h1v1h-1zM69 80h1v1h-1zM74 80h1v1h-1zM77 80h1v1h-1zM81 80h2v1h-2zM84 80h1v1h-1zM45 81h1v1h-1zM51 81h1v1h-1zM53 81h1v1h-1zM63 81h1v1h-1zM65 81h1v1h-1zM67 81h2v1h-2zM73 81h1v1h-1zM76 81h1v1h-1zM83 81h1v1h-1zM49 82h1v1h-1zM55 82h1v1h-1zM63 82h1v1h-1zM65 82h3v1h-3zM74 82h2v1h-2zM77 82h1v1h-1zM80 82h1v1h-1zM49 83h1v1h-1zM53 83h1v1h-1zM55 83h1v1h-1zM58 83h1v1h-1zM64 83h1v1h-1zM66 83h3v1h-3zM74 83h1v1h-1zM81 83h1v1h-1zM55 84h1v1h-1zM58 84h1v1h-1zM65 84h4v1h-4zM71 84h1v1h-1zM74 84h2v1h-2zM77 84h1v1h-1zM43 85h1v1h-1zM54 85h1v1h-1zM57 85h2v1h-2zM60 85h1v1h-1zM64 85h1v1h-1zM67 85h3v1h-3zM71 85h3v1h-3zM78 85h1v1h-1zM53 86h1v1h-1zM58 86h2v1h-2zM63 86h2v1h-2zM67 86h3v1h-3zM71 86h2v1h-2zM74 86h6v1h-6zM39 87h1v1h-1zM44 87h1v1h-1zM46 87h1v1h-1zM50 87h1v1h-1zM53 87h2v1h-2zM57 87h1v1h-1zM59 87h1v1h-1zM62 87h1v1h-1zM64 87h2v1h-2zM68 87h4v1h-4zM76 87h1v1h-1zM78 87h1v1h-1zM32 88h2v1h-2zM38 88h1v1h-1zM51 88h1v1h-1zM54 88h3v1h-3zM61 88h1v1h-1zM67 88h9v1h-9zM77 88h2v1h-2zM33 89h1v1h-1zM38 89h1v1h-1zM40 89h1v1h-1zM48 89h1v1h-1zM50 89h1v1h-1zM53 89h1v1h-1zM55 89h1v1h-1zM57 89h2v1h-2zM66 89h1v1h-1zM69 89h2v1h-2zM72 89h1v1h-1zM75 89h1v1h-1zM77 89h4v1h-4zM28 90h1v1h-1zM38 90h1v1h-1zM44 90h1v1h-1zM48 90h2v1h-2zM51 90h1v1h-1zM53 90h4v1h-4zM58 90h1v1h-1zM67 90h1v1h-1zM69 90h5v1h-5zM77 90h1v1h-1zM79 90h1v1h-1zM37 91h1v1h-1zM45 91h1v1h-1zM47 91h1v1h-1zM49 91h7v1h-7zM57 91h2v1h-2zM68 91h1v1h-1zM73 91h3v1h-3zM78 91h1v1h-1zM32 92h1v1h-1zM37 92h2v1h-2zM44 92h1v1h-1zM46 92h1v1h-1zM48 92h1v1h-1zM50 92h5v1h-5zM56 92h1v1h-1zM68 92h1v1h-1zM73 92h2v1h-2zM76 92h1v1h-1zM29 93h1v1h-1zM32 93h1v1h-1zM40 93h1v1h-1zM45 93h1v1h-1zM47 93h3v1h-3zM72 93h1v1h-1zM76 93h1v1h-1zM44 94h1v1h-1zM46 94h3v1h-3zM50 94h1v1h-1zM52 94h2v1h-2zM78 94h1v1h-1zM81 94h1v1h-1zM45 95h1v1h-1zM48 95h3v1h-3zM55 95h1v1h-1zM44 96h1v1h-1zM46 96h1v1h-1zM48 96h2v1h-2zM51 96h2v1h-2zM46 97h5v1h-5zM52 97h1v1h-1zM46 98h1v1h-1zM48 98h1v1h-1zM50 98h1v1h-1z"/>
<path fill="#0e5c51" d="M18 8h1v1h-1zM19 10h1v1h-1zM24 12h1v1h-1zM17 13h1v1h-1zM21 13h1v1h-1zM14 14h1v1h-1zM19 14h1v1h-1zM16 16h1v1h-1zM19 17h1v1h-1zM19 18h1v1h-1zM5 33h1v1h-1zM0 36h1v1h-1zM6 36h1v1h-1zM7 39h1v1h-1zM9 41h1v1h-1zM14 41h1v1h-1zM6 43h1v1h-1zM11 43h1v1h-1zM4 44h1v1h-1zM5 45h1v1h-1zM13 45h1v1h-1zM7 47h1v1h-1zM2 49h1v1h-1zM9 49h1v1h-1zM20 49h1v1h-1zM25 49h1v1h-1zM32 49h1v1h-1zM37 49h1v1h-1zM2 50h1v1h-1zM8 50h1v1h-1zM27 50h1v1h-1zM33 50h1v1h-1zM39 50h1v1h-1zM42 50h1v1h-1zM3 51h1v1h-1zM24 51h1v1h-1zM45 51h1v1h-1zM24 52h1v1h-1zM41 52h1v1h-1zM43 52h1v1h-1zM3 53h1v1h-1zM7 53h1v1h-1zM14 53h1v1h-1zM25 53h1v1h-1zM42 53h1v1h-1zM13 54h1v1h-1zM19 54h1v1h-1zM28 54h2v1h-2zM43 54h1v1h-1zM10 55h1v1h-1zM20 55h1v1h-1zM38 55h1v1h-1zM42 55h1v1h-1zM45 55h1v1h-1zM9 57h1v1h-1zM41 57h1v1h-1zM38 58h2v1h-2zM34 59h1v1h-1zM48 59h1v1h-1zM47 60h1v1h-1zM34 61h1v1h-1zM38 61h2v1h-2zM41 61h1v1h-1zM53 61h1v1h-1zM36 62h1v1h-1zM46 62h1v1h-1zM49 62h1v1h-1zM45 63h1v1h-1zM49 63h2v1h-2zM53 63h1v1h-1zM58 63h1v1h-1zM53 64h2v1h-2zM47 65h2v1h-2zM52 65h3v1h-3zM49 66h3v1h-3zM55 66h1v1h-1zM52 67h2v1h-2zM58 67h1v1h-1zM63 67h1v1h-1zM49 68h1v1h-1zM51 68h1v1h-1zM53 68h2v1h-2zM60 68h1v1h-1zM67 68h1v1h-1zM46 69h1v1h-1zM58 69h1v1h-1zM62 69h1v1h-1zM50 70h1v1h-1zM60 70h3v1h-3zM43 71h1v1h-1zM45 71h1v1h-1zM53 71h1v1h-1zM62 71h3v1h-3zM42 72h1v1h-1zM45 72h1v1h-1zM49 72h1v1h-1zM57 72h2v1h-2zM60 72h2v1h-2zM65 72h1v1h-1zM42 73h1v1h-1zM44 73h2v1h-2zM48 73h2v1h-2zM51 73h3v1h-3zM62 73h2v1h-2zM42 74h1v1h-1zM45 74h1v1h-1zM53 74h1v1h-1zM57 74h3v1h-3zM61 74h1v1h-1zM45 75h1v1h-1zM52 75h1v1h-1zM67 75h1v1h-1zM56 76h1v1h-1zM59 76h1v1h-1zM64 76h1v1h-1zM52 77h1v1h-1zM63 77h1v1h-1zM67 77h1v1h-1zM46 78h2v1h-2zM61 78h1v1h-1zM71 78h1v1h-1zM44 79h2v1h-2zM51 79h1v1h-1zM63 79h2v1h-2zM66 79h1v1h-1zM44 80h2v1h-2zM52 80h1v1h-1zM55 80h1v1h-1zM49 81h1v1h-1zM52 81h1v1h-1zM56 81h1v1h-1zM70 81h1v1h-1zM74 81h1v1h-1zM48 82h1v1h-1zM50 82h2v1h-2zM53 82h1v1h-1zM62 82h1v1h-1zM44 83h1v1h-1zM54 83h1v1h-1zM56 83h2v1h-2zM71 83h1v1h-1zM43 84h1v1h-1zM52 84h3v1h-3zM57 84h1v1h-1zM61 84h1v1h-1zM64 84h1v1h-1zM40 85h2v1h-2zM65 85h1v1h-1zM80 85h1v1h-1zM36 86h1v1h-1zM41 86h1v1h-1zM34 87h2v1h-2zM38 87h1v1h-1zM55 87h1v1h-1zM81 87h1v1h-1zM30 88h1v1h-1zM34 88h4v1h-4zM40 88h1v1h-1zM57 88h1v1h-1zM76 88h1v1h-1zM27 89h1v1h-1zM29 89h4v1h-4zM35 89h1v1h-1zM37 89h1v1h-1zM39 89h1v1h-1zM51 89h1v1h-1zM67 89h2v1h-2zM74 89h1v1h-1zM29 90h6v1h-6zM36 90h2v1h-2zM39 90h1v1h-1zM46 90h2v1h-2zM52 90h1v1h-1zM57 90h1v1h-1zM25 91h1v1h-1zM27 91h1v1h-1zM29 91h7v1h-7zM39 91h2v1h-2zM46 91h1v1h-1zM48 91h1v1h-1zM67 91h1v1h-1zM70 91h1v1h-1zM76 91h1v1h-1zM24 92h1v1h-1zM28 92h2v1h-2zM34 92h3v1h-3zM49 92h1v1h-1zM75 92h1v1h-1zM77 92h1v1h-1zM23 93h1v1h-1zM28 93h1v1h-1zM30 93h2v1h-2zM34 93h5v1h-5zM50 93h2v1h-2zM53 93h1v1h-1zM71 93h1v1h-1zM77 93h1v1h-1zM33 94h1v1h-1zM45 94h1v1h-1zM51 94h1v1h-1zM68 94h1v1h-1zM46 95h1v1h-1zM51 95h2v1h-2zM50 96h1v1h-1zM78 96h1v1h-1zM49 98h1v1h-1zM51 98h1v1h-1z"/>
<path fill="#0f604d" d="M18 10h1v1h-1zM19 12h1v1h-1zM21 12h1v1h-1zM14 15h1v1h-1zM18 15h1v1h-1zM20 16h1v1h-1zM22 16h1v1h-1zM14 17h1v1h-1zM17 19h1v1h-1zM16 21h1v1h-1zM24 21h1v1h-1zM19 22h1v1h-1zM26 26h1v1h-1zM3 35h1v1h-1zM2 37h1v1h-1zM4 37h1v1h-1zM5 38h1v1h-1zM0 39h1v1h-1zM5 39h1v1h-1zM0 40h1v1h-1zM3 41h1v1h-1zM8 42h1v1h-1zM2 43h2v1h-2zM36 44h1v1h-1zM4 45h1v1h-1zM7 45h1v1h-1zM4 46h1v1h-1zM4 48h1v1h-1zM24 49h1v1h-1zM4 50h1v1h-1zM12 50h1v1h-1zM23 50h1v1h-1zM26 50h1v1h-1zM31 50h1v1h-1zM43 50h1v1h-1zM8 51h1v1h-1zM26 51h1v1h-1zM41 51h1v1h-1zM7 52h1v1h-1zM18 52h1v1h-1zM36 52h1v1h-1zM42 52h1v1h-1zM4 53h1v1h-1zM26 53h1v1h-1zM9 54h1v1h-1zM35 54h1v1h-1zM9 55h1v1h-1zM23 55h1v1h-1zM44 55h1v1h-1zM13 56h1v1h-1zM21 56h1v1h-1zM37 56h1v1h-1zM41 56h2v1h-2zM44 56h1v1h-1zM22 57h1v1h-1zM24 57h1v1h-1zM28 57h1v1h-1zM35 57h1v1h-1zM40 57h1v1h-1zM9 58h1v1h-1zM15 58h1v1h-1zM46 60h1v1h-1zM33 61h1v1h-1zM35 61h2v1h-2zM43 62h1v1h-1zM53 62h1v1h-1zM43 63h1v1h-1zM51 63h1v1h-1zM59 63h1v1h-1zM42 64h1v1h-1zM46 65h1v1h-1zM50 65h2v1h-2zM56 65h1v1h-1zM58 65h1v1h-1zM59 66h1v1h-1zM48 67h1v1h-1zM54 67h1v1h-1zM56 67h1v1h-1zM60 67h1v1h-1zM46 68h1v1h-1zM58 68h2v1h-2zM56 69h1v1h-1zM60 69h1v1h-1zM63 69h1v1h-1zM49 70h1v1h-1zM51 70h1v1h-1zM58 70h1v1h-1zM52 71h1v1h-1zM54 71h1v1h-1zM57 71h1v1h-1zM60 71h2v1h-2zM43 72h1v1h-1zM53 72h2v1h-2zM56 72h1v1h-1zM46 73h1v1h-1zM54 73h2v1h-2zM59 73h1v1h-1zM47 74h1v1h-1zM51 74h1v1h-1zM54 74h1v1h-1zM62 74h1v1h-1zM44 75h1v1h-1zM50 75h1v1h-1zM57 75h1v1h-1zM59 75h1v1h-1zM61 75h2v1h-2zM45 76h1v1h-1zM48 76h1v1h-1zM63 76h1v1h-1zM42 77h1v1h-1zM53 77h1v1h-1zM58 77h1v1h-1zM60 77h2v1h-2zM64 77h1v1h-1zM49 78h1v1h-1zM64 78h1v1h-1zM47 79h1v1h-1zM52 79h1v1h-1zM41 80h1v1h-1zM46 80h1v1h-1zM51 80h1v1h-1zM47 81h1v1h-1zM54 81h1v1h-1zM52 82h1v1h-1zM40 83h1v1h-1zM42 83h2v1h-2zM45 83h1v1h-1zM50 83h2v1h-2zM41 84h2v1h-2zM45 84h1v1h-1zM30 85h1v1h-1zM33 85h1v1h-1zM37 85h2v1h-2zM30 86h1v1h-1zM32 86h4v1h-4zM29 87h1v1h-1zM32 87h2v1h-2zM36 87h2v1h-2zM29 88h1v1h-1zM45 88h1v1h-1zM28 89h1v1h-1zM34 89h1v1h-1zM36 89h1v1h-1zM27 90h1v1h-1zM35 90h1v1h-1zM23 91h1v1h-1zM26 91h1v1h-1zM38 91h1v1h-1zM25 92h1v1h-1zM27 92h1v1h-1zM30 92h1v1h-1zM33 92h1v1h-1zM24 93h1v1h-1zM52 93h1v1h-1zM28 94h1v1h-1zM34 95h1v1h-1z"/>
<path fill="#11644a" d="M15 11h1v1h-1zM15 12h1v1h-1zM18 12h1v1h-1zM23 14h1v1h-1zM16 15h1v1h-1zM22 15h2v1h-2zM21 16h1v1h-1zM23 17h1v1h-1zM15 18h1v1h-1zM14 19h1v1h-1zM21 19h1v1h-1zM17 21h1v1h-1zM18 22h1v1h-1zM18 23h1v1h-1zM7 35h1v1h-1zM2 39h2v1h-2zM1 42h2v1h-2zM4 43h1v1h-1zM5 44h2v1h-2zM9 45h1v1h-1zM8 47h1v1h-1zM0 48h1v1h-1zM6 48h1v1h-1zM6 49h2v1h-2zM34 49h2v1h-2zM38 49h1v1h-1zM42 49h2v1h-2zM45 49h1v1h-1zM22 50h1v1h-1zM41 50h1v1h-1zM44 50h1v1h-1zM2 51h1v1h-1zM10 51h1v1h-1zM21 51h1v1h-1zM34 51h1v1h-1zM25 52h1v1h-1zM35 52h1v1h-1zM38 52h1v1h-1zM40 52h1v1h-1zM0 53h1v1h-1zM5 53h1v1h-1zM35 53h1v1h-1zM39 53h1v1h-1zM41 53h1v1h-1zM6 54h1v1h-1zM8 54h1v1h-1zM36 54h1v1h-1zM39 54h1v1h-1zM41 54h1v1h-1zM25 55h1v1h-1zM36 55h1v1h-1zM15 57h1v1h-1zM17 57h2v1h-2zM27 57h1v1h-1zM38 57h1v1h-1zM45 57h1v1h-1zM12 58h1v1h-1zM16 58h1v1h-1zM20 58h1v1h-1zM29 58h1v1h-1zM6 59h1v1h-1zM14 59h1v1h-1zM16 59h2v1h-2zM19 59h1v1h-1zM32 59h1v1h-1zM35 59h1v1h-1zM37 59h1v1h-1zM31 60h1v1h-1zM37 60h1v1h-1zM43 61h1v1h-1zM47 61h1v1h-1zM50 61h2v1h-2zM55 61h1v1h-1zM35 62h1v1h-1zM39 63h1v1h-1zM41 63h1v1h-1zM54 63h2v1h-2zM38 64h1v1h-1zM45 64h2v1h-2zM48 64h1v1h-1zM55 64h1v1h-1zM44 66h1v1h-1zM53 66h1v1h-1zM46 67h2v1h-2zM49 69h1v1h-1zM53 69h1v1h-1zM48 70h1v1h-1zM53 70h1v1h-1zM48 71h1v1h-1zM50 71h2v1h-2zM59 71h1v1h-1zM40 72h1v1h-1zM59 72h1v1h-1zM43 73h1v1h-1zM47 73h1v1h-1zM50 73h1v1h-1zM57 73h1v1h-1zM60 73h2v1h-2zM43 74h2v1h-2zM49 74h2v1h-2zM56 74h1v1h-1zM63 74h1v1h-1zM41 75h1v1h-1zM51 75h1v1h-1zM53 75h2v1h-2zM44 76h1v1h-1zM52 76h1v1h-1zM54 76h2v1h-2zM57 76h2v1h-2zM43 77h1v1h-1zM48 77h1v1h-1zM51 77h1v1h-1zM41 78h4v1h-4zM48 78h1v1h-1zM51 78h1v1h-1zM43 79h1v1h-1zM48 79h1v1h-1zM42 80h1v1h-1zM50 80h1v1h-1zM53 80h1v1h-1zM40 81h1v1h-1zM43 81h1v1h-1zM48 81h1v1h-1zM41 82h3v1h-3zM47 82h1v1h-1zM38 83h1v1h-1zM41 83h1v1h-1zM47 83h1v1h-1zM29 84h1v1h-1zM32 84h1v1h-1zM36 84h5v1h-5zM29 85h1v1h-1zM31 85h2v1h-2zM34 85h1v1h-1zM39 85h1v1h-1zM29 86h1v1h-1zM31 86h1v1h-1zM25 87h1v1h-1zM28 87h1v1h-1zM30 87h2v1h-2zM25 88h2v1h-2zM31 88h1v1h-1zM26 89h1v1h-1zM25 90h1v1h-1z"/>
<path fill="#136746" d="M18 11h1v1h-1zM17 16h1v1h-1zM24 17h1v1h-1zM16 18h1v1h-1zM23 18h1v1h-1zM18 19h1v1h-1zM0 38h1v1h-1zM6 40h1v1h-1zM5 41h1v1h-1zM3 44h1v1h-1zM0 45h1v1h-1zM6 45h1v1h-1zM28 45h1v1h-1zM2 46h1v1h-1zM6 46h1v1h-1zM23 48h1v1h-1zM27 49h1v1h-1zM34 50h1v1h-1zM40 50h1v1h-1zM28 51h1v1h-1zM37 51h1v1h-1zM8 52h1v1h-1zM28 52h1v1h-1zM39 52h1v1h-1zM27 53h1v1h-1zM29 53h1v1h-1zM5 55h1v1h-1zM24 55h1v1h-1zM28 55h1v1h-1zM32 55h1v1h-1zM41 55h1v1h-1zM3 56h2v1h-2zM12 56h1v1h-1zM25 56h1v1h-1zM27 56h2v1h-2zM31 56h1v1h-1zM33 56h1v1h-1zM40 56h1v1h-1zM5 57h1v1h-1zM8 57h1v1h-1zM10 57h1v1h-1zM12 57h1v1h-1zM39 57h1v1h-1zM11 58h1v1h-1zM13 58h1v1h-1zM18 58h1v1h-1zM36 58h1v1h-1zM42 58h1v1h-1zM10 59h1v1h-1zM15 59h1v1h-1zM18 59h1v1h-1zM20 59h1v1h-1zM29 59h1v1h-1zM18 60h1v1h-1zM35 60h1v1h-1zM24 61h1v1h-1zM48 61h1v1h-1zM37 62h2v1h-2zM40 62h1v1h-1zM40 64h1v1h-1zM50 64h1v1h-1zM45 65h1v1h-1zM46 66h1v1h-1zM49 67h1v1h-1zM51 67h1v1h-1zM52 70h1v1h-1zM55 70h2v1h-2zM58 71h1v1h-1zM50 72h2v1h-2zM40 73h1v1h-1zM40 75h1v1h-1zM42 75h2v1h-2zM46 75h1v1h-1zM56 75h1v1h-1zM40 76h2v1h-2zM46 76h1v1h-1zM44 77h2v1h-2zM47 77h1v1h-1zM49 77h1v1h-1zM45 78h1v1h-1zM42 79h1v1h-1zM46 79h1v1h-1zM48 80h1v1h-1zM39 81h1v1h-1zM44 81h1v1h-1zM36 82h1v1h-1zM34 83h4v1h-4zM39 83h1v1h-1zM28 84h1v1h-1zM30 84h2v1h-2zM34 84h2v1h-2zM23 85h1v1h-1zM27 85h2v1h-2zM35 85h2v1h-2zM25 86h4v1h-4zM28 88h1v1h-1zM24 91h1v1h-1z"/>
<path fill="#146b42" d="M16 10h1v1h-1zM20 14h1v1h-1zM18 16h1v1h-1zM25 16h1v1h-1zM19 20h1v1h-1zM3 36h1v1h-1zM1 39h1v1h-1zM2 47h1v1h-1zM1 49h1v1h-1zM0 50h1v1h-1zM36 50h1v1h-1zM5 51h1v1h-1zM29 51h1v1h-1zM44 51h1v1h-1zM32 52h1v1h-1zM44 52h1v1h-1zM18 53h1v1h-1zM28 53h1v1h-1zM2 54h1v1h-1zM7 54h1v1h-1zM14 54h1v1h-1zM24 54h1v1h-1zM8 55h1v1h-1zM26 55h1v1h-1zM30 55h1v1h-1zM35 55h1v1h-1zM6 56h3v1h-3zM36 56h1v1h-1zM11 57h1v1h-1zM21 57h1v1h-1zM23 57h1v1h-1zM30 57h1v1h-1zM4 58h1v1h-1zM10 58h1v1h-1zM14 58h1v1h-1zM19 58h1v1h-1zM22 58h1v1h-1zM25 58h1v1h-1zM34 58h1v1h-1zM40 58h1v1h-1zM43 58h1v1h-1zM2 59h1v1h-1zM5 59h1v1h-1zM13 59h1v1h-1zM25 59h2v1h-2zM33 59h1v1h-1zM15 60h2v1h-2zM25 60h1v1h-1zM30 60h1v1h-1zM38 60h2v1h-2zM40 61h1v1h-1zM44 61h1v1h-1zM32 62h1v1h-1zM39 62h1v1h-1zM44 62h1v1h-1zM36 63h1v1h-1zM52 64h1v1h-1zM48 66h1v1h-1zM44 70h4v1h-4zM48 72h1v1h-1zM46 74h1v1h-1zM48 74h1v1h-1zM40 77h1v1h-1zM49 79h1v1h-1zM38 80h3v1h-3zM43 80h1v1h-1zM32 81h1v1h-1zM35 81h1v1h-1zM37 81h1v1h-1zM42 81h1v1h-1zM28 82h1v1h-1zM30 82h3v1h-3zM35 82h1v1h-1zM37 82h3v1h-3zM27 83h7v1h-7zM25 84h3v1h-3zM33 84h1v1h-1zM22 85h1v1h-1zM24 85h3v1h-3zM22 86h1v1h-1zM10 90h1v1h-1z"/>
<path fill="#166f3e" d="M17 11h1v1h-1zM16 12h1v1h-1zM18 13h2v1h-2zM16 14h1v1h-1zM18 14h1v1h-1zM21 14h1v1h-1zM20 17h2v1h-2zM0 35h1v1h-1zM1 36h2v1h-2zM1 40h1v1h-1zM7 41h1v1h-1zM7 46h1v1h-1zM10 49h1v1h-1zM7 50h1v1h-1zM32 51h1v1h-1zM36 51h1v1h-1zM42 51h1v1h-1zM2 52h1v1h-1zM31 53h1v1h-1zM27 54h1v1h-1zM4 55h1v1h-1zM27 55h1v1h-1zM34 55h1v1h-1zM5 56h1v1h-1zM34 56h1v1h-1zM38 56h1v1h-1zM2 57h1v1h-1zM7 57h1v1h-1zM32 57h1v1h-1zM37 57h1v1h-1zM43 57h1v1h-1zM1 58h1v1h-1zM3 58h1v1h-1zM17 58h1v1h-1zM35 58h1v1h-1zM3 59h1v1h-1zM11 59h2v1h-2zM21 59h1v1h-1zM24 59h1v1h-1zM28 59h1v1h-1zM13 60h1v1h-1zM17 60h1v1h-1zM20 60h1v1h-1zM40 60h3v1h-3zM29 62h1v1h-1zM34 62h1v1h-1zM45 62h1v1h-1zM30 63h1v1h-1zM41 64h1v1h-1zM44 65h1v1h-1zM45 69h1v1h-1zM42 70h1v1h-1zM44 71h1v1h-1zM39 75h1v1h-1zM46 77h1v1h-1zM40 78h1v1h-1zM39 79h1v1h-1zM31 80h1v1h-1zM33 80h1v1h-1zM36 80h1v1h-1zM23 81h1v1h-1zM26 81h3v1h-3zM33 81h1v1h-1zM36 81h1v1h-1zM38 81h1v1h-1zM23 82h1v1h-1zM25 82h2v1h-2zM29 82h1v1h-1zM33 82h2v1h-2zM20 83h2v1h-2zM23 83h1v1h-1zM25 83h1v1h-1zM22 84h3v1h-3zM24 86h1v1h-1zM0 87h2v1h-2zM1 88h1v1h-1zM4 88h1v1h-1zM2 89h1v1h-1zM7 89h2v1h-2z"/>
<path fill="#18733a" d="M17 12h1v1h-1zM22 13h1v1h-1zM18 17h1v1h-1zM18 18h1v1h-1zM19 19h1v1h-1zM21 21h1v1h-1zM1 45h1v1h-1zM3 46h1v1h-1zM1 47h1v1h-1zM33 49h1v1h-1zM28 50h1v1h-1zM39 51h1v1h-1zM0 52h1v1h-1zM6 52h1v1h-1zM31 52h1v1h-1zM34 53h1v1h-1zM36 53h1v1h-1zM34 54h1v1h-1zM38 54h1v1h-1zM6 55h1v1h-1zM29 55h1v1h-1zM9 56h1v1h-1zM24 56h1v1h-1zM26 56h1v1h-1zM30 56h1v1h-1zM32 56h1v1h-1zM6 57h1v1h-1zM19 57h1v1h-1zM31 57h1v1h-1zM33 57h2v1h-2zM6 58h3v1h-3zM21 58h1v1h-1zM4 59h1v1h-1zM7 59h2v1h-2zM38 59h1v1h-1zM42 59h1v1h-1zM1 60h1v1h-1zM7 60h1v1h-1zM9 60h2v1h-2zM12 60h1v1h-1zM19 60h1v1h-1zM23 60h2v1h-2zM27 60h1v1h-1zM29 60h1v1h-1zM33 60h1v1h-1zM2 61h1v1h-1zM8 61h1v1h-1zM20 61h1v1h-1zM29 61h1v1h-1zM45 61h1v1h-1zM16 62h1v1h-1zM24 62h1v1h-1zM20 63h1v1h-1zM35 63h1v1h-1zM37 63h1v1h-1zM11 64h1v1h-1zM33 64h1v1h-1zM35 64h1v1h-1zM39 64h1v1h-1zM44 64h1v1h-1zM2 66h1v1h-1zM36 66h1v1h-1zM38 66h1v1h-1zM2 67h1v1h-1zM17 67h1v1h-1zM42 67h3v1h-3zM42 68h1v1h-1zM45 68h1v1h-1zM40 70h1v1h-1zM43 70h1v1h-1zM5 71h1v1h-1zM39 71h1v1h-1zM6 74h1v1h-1zM39 76h1v1h-1zM38 77h1v1h-1zM38 78h2v1h-2zM22 79h1v1h-1zM38 79h1v1h-1zM40 79h1v1h-1zM11 80h1v1h-1zM18 80h1v1h-1zM21 80h1v1h-1zM24 80h1v1h-1zM28 80h1v1h-1zM30 80h1v1h-1zM34 80h1v1h-1zM37 80h1v1h-1zM1 81h1v1h-1zM20 81h2v1h-2zM24 81h1v1h-1zM34 81h1v1h-1zM13 82h1v1h-1zM18 82h4v1h-4zM24 82h1v1h-1zM27 82h1v1h-1zM0 83h4v1h-4zM17 83h1v1h-1zM24 83h1v1h-1zM26 83h1v1h-1zM0 84h1v1h-1zM12 84h1v1h-1zM14 84h2v1h-2zM17 84h1v1h-1zM20 84h2v1h-2zM1 85h1v1h-1zM11 85h1v1h-1zM15 85h1v1h-1zM2 86h1v1h-1zM7 86h1v1h-1zM14 86h1v1h-1zM2 87h1v1h-1zM5 87h1v1h-1zM7 87h2v1h-2zM10 87h2v1h-2zM13 87h1v1h-1zM8 88h1v1h-1zM10 88h1v1h-1z"/>
<path fill="#1a7736" d="M20 13h1v1h-1zM15 14h1v1h-1zM22 20h1v1h-1zM18 21h1v1h-1zM0 43h1v1h-1zM0 44h1v1h-1zM5 46h1v1h-1zM0 49h1v1h-1zM5 49h1v1h-1zM25 51h1v1h-1zM30 51h2v1h-2zM5 52h1v1h-1zM2 53h1v1h-1zM6 53h1v1h-1zM32 54h2v1h-2zM40 54h1v1h-1zM1 55h3v1h-3zM33 55h1v1h-1zM35 56h1v1h-1zM39 56h1v1h-1zM25 57h2v1h-2zM36 57h1v1h-1zM0 58h1v1h-1zM5 58h1v1h-1zM26 58h2v1h-2zM33 58h1v1h-1zM0 59h1v1h-1zM9 59h1v1h-1zM23 59h1v1h-1zM39 59h1v1h-1zM3 60h1v1h-1zM8 60h1v1h-1zM21 60h1v1h-1zM43 60h1v1h-1zM5 61h1v1h-1zM9 61h1v1h-1zM11 61h3v1h-3zM15 61h1v1h-1zM17 61h1v1h-1zM19 61h1v1h-1zM21 61h1v1h-1zM25 61h1v1h-1zM2 62h1v1h-1zM6 62h1v1h-1zM8 62h1v1h-1zM10 62h1v1h-1zM12 62h2v1h-2zM20 62h1v1h-1zM23 62h1v1h-1zM25 62h2v1h-2zM42 62h1v1h-1zM1 63h1v1h-1zM3 63h1v1h-1zM6 63h1v1h-1zM8 63h1v1h-1zM14 63h1v1h-1zM17 63h2v1h-2zM23 63h1v1h-1zM26 63h1v1h-1zM33 63h2v1h-2zM38 63h1v1h-1zM3 64h3v1h-3zM7 64h1v1h-1zM18 64h1v1h-1zM21 64h1v1h-1zM24 64h1v1h-1zM26 64h1v1h-1zM28 64h1v1h-1zM31 64h1v1h-1zM36 64h1v1h-1zM1 65h1v1h-1zM6 65h2v1h-2zM13 65h2v1h-2zM16 65h1v1h-1zM36 65h3v1h-3zM41 65h1v1h-1zM43 65h1v1h-1zM3 66h2v1h-2zM8 66h1v1h-1zM13 66h1v1h-1zM16 66h3v1h-3zM20 66h1v1h-1zM33 66h1v1h-1zM41 66h1v1h-1zM43 66h1v1h-1zM18 67h1v1h-1zM33 67h1v1h-1zM36 67h2v1h-2zM39 67h1v1h-1zM45 67h1v1h-1zM2 68h2v1h-2zM10 68h1v1h-1zM12 68h1v1h-1zM14 68h1v1h-1zM17 68h1v1h-1zM35 68h1v1h-1zM38 68h1v1h-1zM41 68h1v1h-1zM4 69h1v1h-1zM11 69h1v1h-1zM13 69h1v1h-1zM16 69h2v1h-2zM8 70h1v1h-1zM15 70h2v1h-2zM41 70h1v1h-1zM8 71h2v1h-2zM13 71h1v1h-1zM18 71h1v1h-1zM2 72h1v1h-1zM2 73h1v1h-1zM8 73h2v1h-2zM39 73h1v1h-1zM4 74h1v1h-1zM11 74h1v1h-1zM15 74h3v1h-3zM22 74h3v1h-3zM2 75h4v1h-4zM17 75h1v1h-1zM4 76h2v1h-2zM8 76h1v1h-1zM13 76h1v1h-1zM15 76h2v1h-2zM37 76h1v1h-1zM0 77h1v1h-1zM2 77h1v1h-1zM9 77h1v1h-1zM12 77h1v1h-1zM16 77h3v1h-3zM22 77h1v1h-1zM37 77h1v1h-1zM1 78h3v1h-3zM8 78h2v1h-2zM11 78h1v1h-1zM13 78h1v1h-1zM26 78h2v1h-2zM31 78h1v1h-1zM35 78h2v1h-2zM2 79h1v1h-1zM4 79h1v1h-1zM6 79h1v1h-1zM8 79h1v1h-1zM17 79h3v1h-3zM21 79h1v1h-1zM25 79h2v1h-2zM30 79h2v1h-2zM34 79h2v1h-2zM37 79h1v1h-1zM8 80h1v1h-1zM12 80h3v1h-3zM16 80h2v1h-2zM20 80h1v1h-1zM22 80h1v1h-1zM25 80h2v1h-2zM29 80h1v1h-1zM32 80h1v1h-1zM35 80h1v1h-1zM3 81h1v1h-1zM5 81h1v1h-1zM8 81h1v1h-1zM11 81h1v1h-1zM15 81h3v1h-3zM25 81h1v1h-1zM29 81h3v1h-3zM0 82h1v1h-1zM3 82h1v1h-1zM5 82h1v1h-1zM7 82h1v1h-1zM11 82h2v1h-2zM14 82h4v1h-4zM22 82h1v1h-1zM4 83h1v1h-1zM6 83h1v1h-1zM10 83h2v1h-2zM16 83h1v1h-1zM1 84h1v1h-1zM4 84h1v1h-1zM6 84h1v1h-1zM9 84h1v1h-1zM11 84h1v1h-1zM16 84h1v1h-1zM0 85h1v1h-1zM7 85h1v1h-1zM10 85h1v1h-1zM12 85h1v1h-1zM14 85h1v1h-1zM16 85h1v1h-1zM3 86h1v1h-1zM6 86h1v1h-1zM8 86h2v1h-2zM13 86h1v1h-1zM9 87h1v1h-1zM12 87h1v1h-1z"/>
<path fill="#1b7b32" d="M17 15h1v1h-1zM21 15h1v1h-1zM19 16h1v1h-1zM15 17h1v1h-1zM17 18h1v1h-1zM1 37h1v1h-1zM12 47h1v1h-1zM32 50h1v1h-1zM27 51h1v1h-1zM26 52h1v1h-1zM33 52h1v1h-1zM9 53h1v1h-1zM37 53h1v1h-1zM3 57h1v1h-1zM23 58h1v1h-1zM31 59h1v1h-1zM36 59h1v1h-1zM0 60h1v1h-1zM4 60h3v1h-3zM14 60h1v1h-1zM22 60h1v1h-1zM34 60h1v1h-1zM4 61h1v1h-1zM7 61h1v1h-1zM10 61h1v1h-1zM14 61h1v1h-1zM18 61h1v1h-1zM22 61h1v1h-1zM32 61h1v1h-1zM4 62h2v1h-2zM7 62h1v1h-1zM11 62h1v1h-1zM14 62h1v1h-1zM17 62h1v1h-1zM19 62h1v1h-1zM28 62h1v1h-1zM33 62h1v1h-1zM5 63h1v1h-1zM7 63h1v1h-1zM9 63h2v1h-2zM12 63h2v1h-2zM15 63h2v1h-2zM19 63h1v1h-1zM24 63h2v1h-2zM27 63h1v1h-1zM40 63h1v1h-1zM42 63h1v1h-1zM2 64h1v1h-1zM6 64h1v1h-1zM8 64h1v1h-1zM10 64h1v1h-1zM12 64h2v1h-2zM15 64h1v1h-1zM17 64h1v1h-1zM37 64h1v1h-1zM43 64h1v1h-1zM2 65h4v1h-4zM11 65h2v1h-2zM15 65h1v1h-1zM17 65h1v1h-1zM19 65h2v1h-2zM39 65h1v1h-1zM42 65h1v1h-1zM5 66h2v1h-2zM9 66h2v1h-2zM12 66h1v1h-1zM14 66h2v1h-2zM19 66h1v1h-1zM21 66h4v1h-4zM31 66h2v1h-2zM39 66h1v1h-1zM42 66h1v1h-1zM3 67h2v1h-2zM6 67h1v1h-1zM9 67h5v1h-5zM32 67h1v1h-1zM38 67h1v1h-1zM40 67h1v1h-1zM1 68h1v1h-1zM4 68h4v1h-4zM9 68h1v1h-1zM11 68h1v1h-1zM13 68h1v1h-1zM15 68h2v1h-2zM18 68h1v1h-1zM21 68h1v1h-1zM29 68h1v1h-1zM36 68h1v1h-1zM43 68h2v1h-2zM1 69h2v1h-2zM5 69h4v1h-4zM10 69h1v1h-1zM12 69h1v1h-1zM31 69h1v1h-1zM34 69h1v1h-1zM37 69h2v1h-2zM0 70h4v1h-4zM5 70h3v1h-3zM10 70h1v1h-1zM12 70h2v1h-2zM29 70h1v1h-1zM31 70h2v1h-2zM37 70h1v1h-1zM39 70h1v1h-1zM1 71h1v1h-1zM6 71h2v1h-2zM10 71h3v1h-3zM15 71h3v1h-3zM38 71h1v1h-1zM0 72h2v1h-2zM4 72h6v1h-6zM11 72h4v1h-4zM16 72h2v1h-2zM19 72h1v1h-1zM27 72h1v1h-1zM1 73h1v1h-1zM3 73h3v1h-3zM7 73h1v1h-1zM10 73h7v1h-7zM20 73h3v1h-3zM25 73h1v1h-1zM30 73h1v1h-1zM32 73h1v1h-1zM36 73h3v1h-3zM0 74h3v1h-3zM5 74h1v1h-1zM7 74h4v1h-4zM12 74h3v1h-3zM18 74h1v1h-1zM27 74h1v1h-1zM35 74h2v1h-2zM38 74h1v1h-1zM0 75h2v1h-2zM6 75h2v1h-2zM9 75h4v1h-4zM14 75h3v1h-3zM18 75h1v1h-1zM20 75h1v1h-1zM22 75h2v1h-2zM27 75h4v1h-4zM34 75h1v1h-1zM36 75h2v1h-2zM1 76h1v1h-1zM3 76h1v1h-1zM7 76h1v1h-1zM9 76h4v1h-4zM17 76h4v1h-4zM22 76h2v1h-2zM25 76h1v1h-1zM30 76h3v1h-3zM36 76h1v1h-1zM38 76h1v1h-1zM3 77h6v1h-6zM10 77h2v1h-2zM13 77h3v1h-3zM19 77h3v1h-3zM23 77h1v1h-1zM26 77h4v1h-4zM35 77h2v1h-2zM0 78h1v1h-1zM4 78h4v1h-4zM10 78h1v1h-1zM14 78h9v1h-9zM24 78h2v1h-2zM28 78h3v1h-3zM33 78h2v1h-2zM37 78h1v1h-1zM7 79h1v1h-1zM9 79h2v1h-2zM12 79h5v1h-5zM20 79h1v1h-1zM23 79h2v1h-2zM28 79h2v1h-2zM32 79h2v1h-2zM36 79h1v1h-1zM2 80h6v1h-6zM10 80h1v1h-1zM15 80h1v1h-1zM19 80h1v1h-1zM23 80h1v1h-1zM27 80h1v1h-1zM2 81h1v1h-1zM4 81h1v1h-1zM7 81h1v1h-1zM9 81h1v1h-1zM12 81h3v1h-3zM18 81h1v1h-1zM2 82h1v1h-1zM4 82h1v1h-1zM6 82h1v1h-1zM8 82h3v1h-3zM5 83h1v1h-1zM7 83h3v1h-3zM12 83h3v1h-3zM2 84h2v1h-2zM5 84h1v1h-1zM7 84h2v1h-2zM10 84h1v1h-1zM3 85h4v1h-4zM8 85h2v1h-2zM4 86h1v1h-1zM4 87h1v1h-1z"/>
<path fill="#1d7f2e" d="M19 15h1v1h-1zM12 46h1v1h-1zM3 48h1v1h-1zM11 48h1v1h-1zM3 49h1v1h-1zM29 50h1v1h-1zM6 51h1v1h-1zM33 51h1v1h-1zM4 52h1v1h-1zM29 52h1v1h-1zM1 53h1v1h-1zM30 53h1v1h-1zM1 54h1v1h-1zM31 58h1v1h-1zM27 59h1v1h-1zM11 60h1v1h-1zM26 60h1v1h-1zM28 60h1v1h-1zM32 60h1v1h-1zM6 61h1v1h-1zM16 61h1v1h-1zM1 62h1v1h-1zM3 62h1v1h-1zM18 62h1v1h-1zM22 62h1v1h-1zM31 62h1v1h-1zM2 63h1v1h-1zM4 63h1v1h-1zM11 63h1v1h-1zM21 63h2v1h-2zM29 63h1v1h-1zM14 64h1v1h-1zM16 64h1v1h-1zM19 64h2v1h-2zM27 64h1v1h-1zM32 64h1v1h-1zM9 65h2v1h-2zM27 65h1v1h-1zM35 65h1v1h-1zM40 65h1v1h-1zM11 66h1v1h-1zM34 66h2v1h-2zM37 66h1v1h-1zM40 66h1v1h-1zM45 66h1v1h-1zM5 67h1v1h-1zM7 67h2v1h-2zM14 67h2v1h-2zM19 67h1v1h-1zM31 67h1v1h-1zM35 67h1v1h-1zM41 67h1v1h-1zM33 68h2v1h-2zM37 68h1v1h-1zM0 69h1v1h-1zM3 69h1v1h-1zM9 69h1v1h-1zM14 69h2v1h-2zM29 69h1v1h-1zM33 69h1v1h-1zM36 69h1v1h-1zM39 69h1v1h-1zM41 69h2v1h-2zM4 70h1v1h-1zM9 70h1v1h-1zM11 70h1v1h-1zM14 70h1v1h-1zM36 70h1v1h-1zM38 70h1v1h-1zM0 71h1v1h-1zM3 71h2v1h-2zM14 71h1v1h-1zM28 71h1v1h-1zM30 71h3v1h-3zM34 71h4v1h-4zM3 72h1v1h-1zM10 72h1v1h-1zM15 72h1v1h-1zM26 72h1v1h-1zM29 72h5v1h-5zM35 72h4v1h-4zM6 73h1v1h-1zM17 73h1v1h-1zM19 73h1v1h-1zM23 73h1v1h-1zM26 73h1v1h-1zM28 73h1v1h-1zM31 73h1v1h-1zM33 73h3v1h-3zM3 74h1v1h-1zM26 74h1v1h-1zM28 74h3v1h-3zM32 74h3v1h-3zM37 74h1v1h-1zM8 75h1v1h-1zM13 75h1v1h-1zM19 75h1v1h-1zM21 75h1v1h-1zM24 75h1v1h-1zM26 75h1v1h-1zM31 75h3v1h-3zM35 75h1v1h-1zM38 75h1v1h-1zM0 76h1v1h-1zM2 76h1v1h-1zM14 76h1v1h-1zM24 76h1v1h-1zM27 76h3v1h-3zM33 76h3v1h-3zM1 77h1v1h-1zM24 77h2v1h-2zM30 77h5v1h-5zM12 78h1v1h-1zM32 78h1v1h-1zM5 79h1v1h-1zM11 79h1v1h-1zM9 80h1v1h-1zM6 81h1v1h-1zM10 81h1v1h-1zM15 83h1v1h-1z"/>
<path fill="#1f832a" d="M17 14h1v1h-1zM4 33h1v1h-1zM3 40h1v1h-1zM3 47h1v1h-1zM2 48h1v1h-1zM27 52h1v1h-1zM32 53h2v1h-2zM40 53h1v1h-1zM5 54h1v1h-1zM24 58h1v1h-1zM30 58h1v1h-1zM30 59h1v1h-1zM3 61h1v1h-1zM26 61h1v1h-1zM9 62h1v1h-1zM15 62h1v1h-1zM27 62h1v1h-1zM41 62h1v1h-1zM22 64h2v1h-2zM21 65h1v1h-1zM30 65h1v1h-1zM34 67h1v1h-1zM31 68h1v1h-1zM39 68h2v1h-2zM30 69h1v1h-1zM32 69h1v1h-1zM35 69h1v1h-1zM40 69h1v1h-1zM30 70h1v1h-1zM33 70h3v1h-3zM33 71h1v1h-1zM28 72h1v1h-1zM34 72h1v1h-1zM27 73h1v1h-1zM31 74h1v1h-1zM25 75h1v1h-1zM23 78h1v1h-1z"/>
<path fill="#208726" d="M19 8h1v1h-1zM14 9h2v1h-2zM14 10h2v1h-2zM20 11h1v1h-1zM29 12h2v1h-2zM14 13h1v1h-1zM29 13h1v1h-1zM13 15h1v1h-1zM20 15h1v1h-1zM38 15h1v1h-1zM37 16h1v1h-1zM41 16h1v1h-1zM35 17h1v1h-1zM40 17h1v1h-1zM38 18h1v1h-1zM35 19h1v1h-1zM2 44h1v1h-1zM2 45h1v1h-1zM1 48h1v1h-1zM30 54h2v1h-2zM28 58h1v1h-1zM28 61h1v1h-1zM46 61h1v1h-1zM21 62h1v1h-1zM30 62h1v1h-1z"/>
<path fill="#228b22" d="M20 18h1v1h-1zM8 38h1v1h-1zM1 44h1v1h-1zM7 48h1v1h-1zM1 51h1v1h-1zM38 51h1v1h-1zM34 52h1v1h-1zM37 52h1v1h-1zM3 54h1v1h-1zM1 56h2v1h-2zM31 61h1v1h-1zM31 63h1v1h-1z"/>
</g>
<path fill="none" stroke="#000000" stroke-width="5.6" stroke-linejoin="round" stroke-linecap="round" d="M576.3 797.3 576.3 812.0 576.3 812.0 576.3 812.0 591.6 797.3 606.9 797.3 622.2 797.3 637.5 812.0 622.2 826.6 622.2 826.7 622.2 826.7 637.5 826.7 652.8 826.7 652.8 826.6 652.8 826.6 637.5 812.0 652.8 797.3 668.0 812.0 668.0 812.0 683.3 812.0 698.6 812.0 713.9 812.0 713.9 812.0 729.2 797.3 744.5 812.0 729.2 826.6 729.2 826.6 713.9 841.3 713.9 841.3 713.9 841.3 729.2 856.0 729.2 870.6 729.2 870.6 729.2 870.6 729.2 856.0 744.5 841.3 744.5 841.3 759.8 826.7 759.8 826.7 759.8 826.6 744.5 812.0 744.5 797.3M775.1 797.3 775.1 812.0 775.1 812.0 790.4 826.7 790.4 826.7 805.7 826.7 820.9 841.3 820.9 856.0 820.9 856.0 836.2 870.6 836.2 870.6 851.5 870.6 866.8 885.3 866.8 885.3 882.1 885.3 897.4 900.0 897.4 900.0 912.7 914.6 912.7 914.6 912.7 914.6 928.0 900.0 943.3 900.0 943.3 900.0 943.3 885.3 943.3 870.6 958.6 856.0 973.8 870.6 973.8 885.3 973.8 885.3 973.8 885.3 989.1 870.6 1004.4 870.6 1019.7 870.6 1019.7 870.6 1035.0 856.0 1050.3 870.6 1050.3 870.6 1050.3 870.6 1065.6 856.0 1080.9 870.6 1080.9 885.3 1080.9 885.3 1080.9 885.3 1096.2 870.6 1111.5 870.6 1126.7 870.6 1142.0 870.6 1157.3 885.3 1142.0 899.9 1142.0 900.0 1142.0 914.6 1142.0 914.6 1142.0 914.6 1157.3 900.0 1172.6 914.6 1157.3 929.3 1157.3 929.3 1157.3 929.3 1172.6 929.3 1187.9 943.9 1187.9 958.6 1172.6 973.2 1172.6 973.2 1172.6 987.9 1172.6 987.9 1187.9 987.9 1203.2 987.9 1203.2 987.9 1203.2 987.9 1187.9 973.2 1203.2 958.6 1218.5 973.2 1218.5 973.3 1233.8 973.3 1233.8 973.2 1249.1 958.6 1264.4 973.2 1264.4 973.3 1279.6 987.9 1279.6 987.9 1294.9 987.9 1294.9 987.9 1294.9 987.9 1279.6 973.2 1294.9 958.6 1294.9 958.6 1310.2 943.9 1325.5 958.6 1310.2 973.2 1310.2 973.2 1310.2 973.3 1325.5 987.9 1325.5 987.9 1340.8 987.9 1356.1 987.9 1371.4 1002.6 1371.4 1002.6 1386.7 1017.2 1371.4 1031.9 1371.4 1031.9 1371.4 1031.9 1386.7 1046.6 1386.7 1061.2 1386.7 1061.2 1402.0 1075.9 1386.7 1090.5 1386.7 1090.5 1386.7 1105.2 1371.4 1119.8 1356.1 1119.8 1356.1 1119.8 1356.1 1119.9 1371.4 1134.5 1371.4 1149.2 1371.4 1149.2 1371.4 1149.2 1386.7 1134.5 1402.0 1149.2 1402.0 1149.2 1417.3 1149.2 1432.5 1149.2 1447.8 1163.8 1432.5 1178.5 1432.5 1178.5 1432.5 1193.2 1432.5 1207.8 1432.5 1222.5 1432.5 1237.1 1432.5 1237.1 1432.5 1237.1 1432.5 1222.5 1447.8 1207.8 1463.1 1222.5 1463.1 1237.1 1463.1 1237.1 1478.4 1237.1 1493.7 1237.1 1493.7 1237.1 1509.0 1222.5 1509.0 1222.5 1524.3 1207.8 1524.3 1207.8 1524.3 1193.2 1524.3 1178.5 1524.3 1178.5 1509.0 1163.8 1524.3 1149.2 1524.3 1149.2 1539.6 1134.5 1539.6 1134.5 1539.6 1134.5 1524.3 1134.5 1509.0 1119.8 1524.3 1105.2 1539.6 1105.2 1539.6 1105.2 1539.6 1105.2 1524.3 1090.5 1539.6 1075.9 1554.9 1075.9 1570.2 1090.5 1570.2 1090.5 1585.4 1105.2 1585.4 1119.8 1585.4 1119.9 1600.7 1134.5 1600.7 1149.2 1600.7 1149.2 1600.7 1149.2 1600.7 1134.5 1600.7 1119.8 1600.7 1105.2 1600.7 1090.5 1616.0 1075.9 1631.3 1090.5 1631.3 1090.5 1646.6 1090.5 1646.6 1090.5 1661.9 1075.9 1677.2 1090.5 1677.2 1105.2 1677.2 1119.8 1677.2 1119.9 1692.5 1134.5 1692.5 1134.5 1707.8 1149.2 1707.8 1149.2 1707.8 1149.2 1723.1 1134.5 1738.3 1149.2 1723.1 1163.8 1723.1 1163.8 1707.8 1178.5 1707.8 1178.5 1707.8 1178.5 1723.1 1178.5 1738.3 1178.5 1753.6 1193.2 1753.6 1207.8 1753.6 1207.8 1753.6 1207.8 1768.9 1193.2 1784.2 1207.8 1768.9 1222.5 1768.9 1222.5 1753.6 1237.1 1738.3 1237.1 1738.3 1237.1 1738.3 1237.1 1753.6 1237.1 1768.9 1251.8 1768.9 1266.5 1768.9 1266.5 1784.2 1281.1 1784.2 1281.1M530.4 826.6 530.4 826.6 515.1 841.3 515.1 841.3 515.1 856.0 515.1 856.0 515.1 856.0 530.4 841.3 545.7 856.0 545.7 856.0 545.7 856.0 561.0 841.3 561.0 841.3 561.0 841.3 545.7 841.3 530.4 826.7zM362.2 885.3 362.2 885.3 362.2 870.6 377.5 856.0 392.8 870.6 392.8 870.6 392.8 870.6 392.8 856.0 392.8 856.0 377.5 841.3 392.8 826.7 392.8 826.7 408.1 812.0 423.4 826.7 423.4 826.7 438.7 826.7 438.7 826.7 454.0 812.0 469.3 826.7 469.3 841.3 469.3 841.3 469.3 841.3 484.6 826.7 499.9 826.7 499.9 826.6 515.1 812.0 515.1 812.0 515.1 797.3M836.2 914.6 836.2 914.6 836.2 914.6 851.5 914.6 851.5 914.6 851.5 914.6zM377.5 929.3 377.5 929.3 377.5 929.3 392.8 929.3 392.8 929.3 392.8 929.3zM973.8 943.9 973.8 943.9 958.6 958.6 943.3 958.6 943.3 958.6 943.3 958.6 958.6 958.6 973.8 958.6 973.8 958.6 973.8 943.9zM1096.2 943.9 1096.2 943.9 1096.2 958.6 1096.2 958.6 1111.5 958.6 1111.5 958.6 1111.5 958.6 1096.2 943.9zM1004.4 958.6 1004.4 958.6 989.1 973.2 989.1 973.2 989.1 973.3 1004.4 987.9 1004.4 987.9 1019.7 987.9 1019.7 987.9 1019.7 987.9 1004.4 973.2 1019.7 958.6 1035.0 973.2 1035.0 973.3 1050.3 973.3 1050.3 973.2 1050.3 973.2 1035.0 958.6 1035.0 958.6 1019.7 958.6zM1142.0 987.9 1142.0 987.9 1126.7 1002.6 1111.5 1002.6 1111.5 1002.6 1111.5 1002.6 1126.7 1002.6 1142.0 1002.6 1142.0 1002.6 1142.0 987.9zM1340.8 1046.5 1340.8 1046.6 1340.8 1046.6 1356.1 1046.6 1356.1 1046.6 1356.1 1046.5zM1554.9 1046.6 1570.2 1031.9 1585.4 1046.6 1570.2 1061.2zM1570.2 1075.9 1585.4 1061.2 1600.7 1075.9 1585.4 1090.5zM1402.0 1090.5 1417.3 1075.9 1432.5 1090.5 1417.3 1105.2zM1386.7 1119.8 1402.0 1105.2 1417.3 1119.8 1402.0 1134.5zM1631.3 1134.5 1631.3 1134.5 1631.3 1134.5 1646.6 1134.5 1661.9 1134.5 1661.9 1134.5 1661.9 1134.5 1646.6 1134.5zM362.2 1163.8 362.2 1163.8 377.5 1149.2 392.8 1149.2 408.1 1149.2 408.1 1149.2 408.1 1134.5 408.1 1134.5 392.8 1119.8 408.1 1105.2 408.1 1105.2 408.1 1105.2 392.8 1090.5 392.8 1090.5 377.5 1090.5 362.2 1075.9 362.2 1061.2 362.2 1061.2M1463.1 1222.5 1478.4 1207.8 1493.7 1222.5 1478.4 1237.1zM1707.8 1325.1 1707.8 1325.1 1707.8 1325.1 1723.1 1325.1 1723.1 1325.1 1723.1 1325.1zM1784.2 1354.4 1784.2 1354.4 1768.9 1369.1 1753.6 1369.1 1753.6 1369.1 1738.3 1383.7 1723.1 1369.1 1723.1 1369.1 1723.1 1369.1 1707.8 1383.7 1707.8 1383.7 1692.5 1398.4 1677.2 1383.7 1677.2 1383.7 1661.9 1383.7 1646.6 1383.7 1646.6 1383.7 1646.6 1383.7 1661.9 1398.4 1661.9 1413.1 1661.9 1413.1 1677.2 1427.7 1661.9 1442.4 1646.6 1442.4 1646.6 1442.4 1646.6 1442.4 1661.9 1442.4 1677.2 1442.4 1692.5 1442.4 1707.8 1457.0 1692.5 1471.7 1677.2 1471.7 1661.9 1471.7 1646.6 1471.7 1646.6 1471.7 1646.6 1486.3 1631.3 1501.0 1616.0 1486.3 1616.0 1471.7 1631.3 1457.0 1631.3 1457.0 1631.3 1457.0 1616.0 1442.4 1616.0 1427.7 1616.0 1427.7 1616.0 1427.7 1616.0 1442.4 1616.0 1457.0 1616.0 1471.7 1600.7 1486.3 1600.7 1486.3 1600.7 1501.0 1600.7 1515.7 1600.7 1515.7 1616.0 1515.7 1631.3 1530.3 1631.3 1530.3 1631.3 1530.3 1646.6 1515.7 1661.9 1515.7 1677.2 1515.7 1692.5 1515.7 1707.8 1530.3 1707.8 1530.3 1723.1 1545.0 1707.8 1559.6 1692.5 1545.0 1692.5 1545.0 1677.2 1545.0 1661.9 1545.0 1646.6 1545.0 1646.6 1545.0 1631.3 1559.6 1616.0 1559.6 1600.7 1559.6 1585.4 1559.6 1585.4 1559.7 1585.4 1559.7 1600.7 1574.3 1600.7 1574.3 1616.0 1589.0 1616.0 1603.6 1600.7 1618.3 1600.7 1618.3 1600.7 1618.3 1616.0 1633.0 1616.0 1633.0 1631.3 1633.0 1646.6 1647.6 1646.6 1647.6 1661.9 1662.3 1646.6 1676.9 1646.6 1676.9 1646.6 1676.9 1661.9 1691.6 1661.9 1691.6 1677.2 1706.3 1677.2 1706.3 1692.5 1706.3 1707.8 1706.3 1723.1 1720.9 1723.1 1735.6 1723.1 1735.6 1723.1 1735.6 1723.1 1720.9 1723.1 1706.2 1738.3 1691.6 1753.6 1691.6 1768.9 1706.3 1768.9 1706.3 1784.2 1720.9 1784.2 1735.6 1784.2 1750.2 1784.2 1764.9 1768.9 1779.5 1753.6 1779.5 1753.6 1779.5 1753.6 1794.2 1738.3 1808.9 1723.1 1808.9 1723.1 1808.9 1707.8 1823.5 1692.5 1808.9 1692.5 1794.2 1692.5 1794.2 1692.5 1794.2 1677.2 1808.9 1677.2 1808.9 1661.9 1823.5 1646.6 1808.9 1646.6 1808.9 1631.3 1808.9 1631.3 1808.9 1616.0 1823.5 1600.7 1808.9 1600.7 1794.2 1600.7 1794.2 1600.7 1794.2 1585.4 1808.9 1570.2 1808.9 1570.2 1808.9 1554.9 1823.5 1554.9 1823.5 1554.9 1823.5 1570.2 1823.5 1585.4 1838.2 1585.4 1838.2 1600.7 1838.2 1600.7 1838.2 1616.0 1823.5 1631.3 1838.2 1616.0 1852.8 1616.0 1852.9 1616.0 1867.5 1616.0 1867.5 1631.3 1882.2 1631.3 1882.2 1646.6 1882.2 1661.9 1896.8 1661.9 1911.5 1646.6 1926.1 1631.3 1926.1 1631.3 1926.2 1631.3 1940.8 1631.3 1940.8 1646.6 1955.5 1631.3 1970.1 1616.0 1955.5 1616.0 1955.5 1616.0 1955.5 1600.7 1970.1 1600.7 1970.1 1585.4 1984.8 1585.4 1984.8 1570.2 1999.4 1570.2 1999.5 1570.2 1999.5 1585.4 2014.1 1585.4 2014.1 1585.4 2014.1 1585.4 1999.5 1600.7 1984.8 1616.0 1999.5 1616.0 2014.1 1600.7 2028.8 1600.7 2028.8 1585.4 2043.4 1585.4 2043.4 1570.2 2058.1 1570.2 2058.1 1554.9 2072.7 1554.9 2072.8 1554.9 2087.4 1554.9 2087.4 1570.2 2102.1 1554.9 2116.7 1539.6 2102.1 1539.6 2102.1 1524.3 2102.1 1509.0 2087.4 1509.0 2087.4 1493.7 2087.4 1478.4 2087.4 1478.4 2087.4 1463.1 2102.1 1447.8 2102.1 1432.5 2087.4 1447.8 2072.8 1463.1 2072.8 1463.1 2072.8 1463.1 2072.7 1447.8 2058.1 1447.8 2058.1 1447.8 2058.1 1432.5 2072.7 1417.3 2072.7 1417.3 2072.8 1402.0 2087.4 1386.7 2072.8 1386.7 2072.7 1371.4 2058.1 1371.4 2058.1 1356.1 2043.4 1356.1 2028.8 1356.1 2014.1 1356.1 2014.1 1340.8 2014.1 1340.8 2014.1 1325.5 2028.8 1310.2 2014.1 1310.2 2014.1 1310.2 2014.1 1294.9 2028.8 1279.6 2014.1 1279.6 1999.5 1279.6 1999.4 1279.6 1999.5 1264.4 2014.1 1249.1 1999.5 1249.1 1999.4 1249.1 1999.5 1249.1 2014.1 1249.1 2014.1 1264.4 2028.8 1264.4 2043.4 1264.4 2058.1 1249.1 2072.7 1233.8 2072.7 1233.8 2072.8 1218.5 2087.4 1203.2 2087.4 1187.9 2087.4 1187.9 2087.4 1187.9 2102.1 1172.6 2116.7 1172.6 2116.7 1172.6 2131.4 1172.6 2146.1 1157.3 2160.7 1157.3 2160.7M1371.4 1398.4 1371.4 1398.4 1371.4 1398.4 1386.7 1398.4 1386.7 1398.4 1386.7 1398.4zM1402.0 1427.7 1402.0 1427.7 1402.0 1427.7 1417.3 1427.7 1417.3 1427.7 1417.3 1427.7zM1356.1 1442.4 1356.1 1442.4 1340.8 1457.0 1340.8 1457.0 1340.8 1457.0 1356.1 1471.7 1356.1 1471.7 1371.4 1486.3 1371.4 1501.0 1371.4 1501.0 1371.4 1501.0 1371.4 1486.3 1386.7 1471.7 1402.0 1486.3 1402.0 1486.4 1417.3 1486.4 1432.5 1486.4 1432.5 1486.3 1432.5 1486.3 1417.3 1486.3 1402.0 1471.7 1402.0 1471.7 1386.7 1457.0 1386.7 1457.0 1371.4 1457.0 1356.1 1442.4zM561.0 1457.0 561.0 1457.0 545.7 1471.7 530.4 1471.7 530.4 1471.7 530.4 1486.3 515.1 1501.0 515.1 1501.0 515.1 1515.7 515.1 1515.7 530.4 1530.3 515.1 1545.0 515.1 1545.0 515.1 1545.0 530.4 1545.0 530.4 1545.0 545.7 1530.3 561.0 1530.3 561.0 1530.3 561.0 1530.3 545.7 1515.7 545.7 1501.0 561.0 1486.4 576.3 1486.4 576.3 1486.3 576.3 1486.3 561.0 1471.7 561.0 1457.0zM1249.1 1457.0 1249.1 1457.0 1249.1 1471.7 1249.1 1471.7 1249.1 1471.7 1249.1 1457.0zM1065.6 1471.7 1065.6 1471.7 1065.6 1486.3 1065.6 1486.4 1065.6 1486.3 1065.6 1471.7zM1325.5 1471.7 1325.5 1471.7 1325.5 1486.3 1310.2 1501.0 1294.9 1486.3 1294.9 1486.3 1279.6 1486.3 1279.6 1486.3 1279.6 1501.0 1279.6 1501.0 1294.9 1515.7 1294.9 1530.3 1279.6 1545.0 1279.6 1545.0 1279.6 1545.0 1294.9 1545.0 1310.2 1545.0 1310.2 1545.0 1310.2 1530.3 1310.2 1530.3 1294.9 1515.7 1310.2 1501.0 1325.5 1515.7 1325.5 1515.7 1340.8 1515.7 1356.1 1530.3 1356.1 1530.3 1356.1 1530.3 1356.1 1515.7 1356.1 1515.7 1340.8 1501.0 1340.8 1486.3 1340.8 1486.3 1325.5 1471.7zM1646.6 1486.3 1661.9 1471.7 1677.2 1486.3 1677.2 1486.4 1692.5 1486.4 1707.8 1501.0 1692.5 1515.7 1677.2 1515.7 1661.9 1515.7 1646.6 1501.0zM1065.6 1530.3 1065.6 1530.3 1050.3 1545.0 1050.3 1545.0 1050.3 1545.0 1065.6 1559.7 1050.3 1574.3 1050.3 1574.3 1050.3 1574.3 1065.6 1589.0 1065.6 1589.0 1065.6 1589.0 1065.6 1574.3 1065.6 1559.7 1065.6 1545.0 1065.6 1530.3zM805.7 1545.0 805.7 1545.0 805.7 1559.7 805.7 1559.7 805.7 1559.6 805.7 1545.0zM362.2 1559.7 377.5 1559.7 377.5 1559.7 377.5 1559.6 362.2 1545.0 362.2 1530.3 362.2 1530.3M1631.3 1574.3 1646.6 1559.7 1661.9 1574.3 1646.6 1589.0zM1233.8 1589.0 1233.8 1589.0 1233.8 1603.6 1233.8 1603.6 1233.8 1603.6 1233.8 1589.0zM1661.9 1589.0 1677.2 1574.3 1692.5 1589.0 1677.2 1603.6zM1249.1 1632.9 1249.1 1633.0 1249.1 1633.0 1264.4 1633.0 1279.6 1633.0 1279.6 1632.9 1279.6 1632.9 1264.4 1632.9zM1080.9 1647.6 1080.9 1647.6 1080.9 1647.6 1096.2 1647.6 1096.2 1647.6 1096.2 1647.6zM1233.8 1647.6 1233.8 1647.6 1218.5 1662.3 1218.5 1662.3 1218.5 1662.3 1233.8 1676.9 1233.8 1691.6 1233.8 1691.6 1249.1 1691.6 1249.1 1691.6 1249.1 1691.6 1233.8 1676.9 1249.1 1662.3 1249.1 1662.3 1249.1 1662.3 1233.8 1647.6zM744.5 1662.3 744.5 1662.3 729.2 1676.9 713.9 1676.9 698.6 1676.9 698.6 1676.9 698.6 1676.9 713.9 1676.9 729.2 1676.9 744.5 1691.6 729.2 1706.2 713.9 1706.2 698.6 1706.2 683.3 1706.2 668.0 1706.2 668.0 1706.2 652.8 1720.9 652.8 1720.9 637.5 1735.6 637.5 1735.6 622.2 1750.2 622.2 1750.2 622.2 1750.2 637.5 1750.2 652.8 1764.9 652.8 1764.9 668.0 1779.5 668.0 1779.6 683.3 1779.6 698.6 1779.6 713.9 1779.6 729.2 1794.2 729.2 1794.2 729.2 1794.2 744.5 1779.6 744.5 1779.5 759.8 1764.9 775.1 1764.9 775.1 1764.9 790.4 1750.2 790.4 1750.2 790.4 1735.6 790.4 1720.9 805.7 1706.3 820.9 1720.9 820.9 1720.9 820.9 1720.9 820.9 1706.2 820.9 1691.6 820.9 1691.6 805.7 1676.9 820.9 1662.3 820.9 1662.3 820.9 1662.3 805.7 1662.3 805.7 1662.3 790.4 1676.9 790.4 1676.9 775.1 1691.6 759.8 1676.9 759.8 1676.9 744.5 1662.3zM882.1 1662.3 882.1 1662.3 866.8 1676.9 851.5 1676.9 836.2 1676.9 836.2 1676.9 836.2 1676.9 851.5 1676.9 866.8 1676.9 882.1 1676.9 882.1 1676.9 882.1 1662.3zM1279.6 1662.3 1279.6 1662.3 1279.6 1676.9 1279.6 1676.9 1294.9 1676.9 1294.9 1676.9 1294.9 1662.3 1294.9 1662.3zM1753.6 1676.9 1768.9 1662.3 1784.2 1676.9 1768.9 1691.6zM1631.3 1691.6 1631.3 1691.6 1631.3 1706.2 1631.3 1706.3 1646.6 1706.3 1646.6 1706.3 1646.6 1706.2 1631.3 1691.6zM1126.7 1706.2 1126.7 1706.2 1126.7 1720.9 1126.7 1720.9 1126.7 1720.9 1126.7 1706.2zM1203.2 1706.2 1203.2 1706.3 1203.2 1720.9 1203.2 1720.9 1203.2 1720.9 1203.2 1706.2zM668.0 1720.9 683.3 1706.3 698.6 1720.9 683.3 1735.6zM1096.2 1720.9 1096.2 1720.9 1080.9 1735.6 1080.9 1735.6 1080.9 1735.6 1096.2 1735.6 1096.2 1735.6 1096.2 1720.9zM362.2 1720.9 362.2 1720.9 377.5 1706.3 377.5 1706.2 377.5 1691.6 377.5 1691.6 362.2 1676.9 377.5 1662.3 377.5 1662.3 377.5 1662.3 362.2 1647.6 362.2 1633.0 377.5 1618.3 377.5 1618.3 377.5 1618.3 362.2 1618.3M1019.7 1735.6 1019.7 1735.6 1019.7 1735.6 1035.0 1735.6 1035.0 1735.6 1035.0 1735.6zM1509.0 1735.6 1509.0 1735.6 1509.0 1750.2 1509.0 1750.2 1524.3 1750.2 1524.3 1750.2 1524.3 1750.2 1509.0 1735.6zM973.8 1764.9 973.8 1764.9 973.8 1764.9 989.1 1779.5 989.1 1794.2 973.8 1808.9 958.6 1808.9 958.6 1808.9 958.6 1808.9 973.8 1808.9 989.1 1808.9 989.1 1808.9 989.1 1794.2 989.1 1779.5 1004.4 1764.9 1004.4 1764.9 1004.4 1764.9 989.1 1764.9zM1065.6 1764.9 1065.6 1764.9 1065.6 1764.9 1080.9 1779.5 1080.9 1779.6 1080.9 1779.5 1080.9 1764.9 1080.9 1764.9zM1646.6 1764.9 1646.6 1764.9 1646.6 1779.5 1646.6 1779.6 1646.6 1779.5 1646.6 1764.9zM637.5 1779.5 637.5 1779.5 637.5 1794.2 637.5 1794.2 637.5 1794.2 637.5 1779.5zM1325.5 1779.5 1325.5 1779.5 1325.5 1779.6 1340.8 1779.6 1340.8 1779.5 1340.8 1779.5zM1371.4 1779.5 1371.4 1779.5 1356.1 1794.2 1356.1 1794.2 1356.1 1794.2 1371.4 1794.2 1371.4 1794.2 1371.4 1779.5zM1524.3 1779.5 1524.3 1779.5 1509.0 1794.2 1493.7 1794.2 1493.7 1794.2 1493.7 1808.9 1493.7 1808.9 1509.0 1823.5 1509.0 1823.5 1509.0 1823.5 1524.3 1808.9 1539.6 1808.9 1539.6 1808.9 1539.6 1808.9 1524.3 1794.2 1524.3 1779.5zM652.8 1808.9 652.8 1808.9 652.8 1808.9 668.0 1808.9 683.3 1808.9 683.3 1808.9 683.3 1808.9 668.0 1808.9zM1784.2 1808.9 1768.9 1794.2 1784.2 1779.6M1111.5 1823.5 1111.5 1823.5 1111.5 1838.2 1111.5 1838.2 1126.7 1838.2 1126.7 1838.2 1126.7 1838.2 1111.5 1823.5zM1570.2 1852.8 1570.2 1852.9 1570.2 1867.5 1570.2 1867.5 1570.2 1867.5 1570.2 1852.9zM1233.8 1867.5 1233.8 1867.5 1218.5 1882.2 1203.2 1882.2 1203.2 1882.2 1203.2 1882.2 1218.5 1896.8 1218.5 1896.8 1233.8 1911.5 1218.5 1926.1 1218.5 1926.2 1218.5 1926.2 1233.8 1926.2 1249.1 1926.2 1264.4 1940.8 1264.4 1955.5 1264.4 1955.5 1279.6 1955.5 1279.6 1955.5 1294.9 1940.8 1310.2 1955.5 1310.2 1970.1 1310.2 1970.1 1325.5 1970.1 1325.5 1970.1 1325.5 1955.5 1325.5 1955.5 1310.2 1940.8 1310.2 1940.8 1294.9 1926.2 1294.9 1911.5 1310.2 1896.8 1325.5 1896.8 1325.5 1896.8 1325.5 1896.8 1310.2 1882.2 1310.2 1882.2 1294.9 1882.2 1279.6 1867.5 1279.6 1867.5 1264.4 1867.5 1249.1 1867.5zM1646.6 1867.5 1661.9 1852.9 1677.2 1867.5 1661.9 1882.2zM1585.4 1896.8 1585.4 1896.8 1585.4 1911.5 1585.4 1911.5 1585.4 1911.5 1585.4 1896.8zM1340.8 1911.5 1340.8 1911.5 1340.8 1926.1 1340.8 1926.2 1340.8 1926.1 1340.8 1911.5zM362.2 1911.5 362.2 1911.5 377.5 1896.8 377.5 1896.8 377.5 1882.2 377.5 1882.2 362.2 1882.2M1677.2 1926.1 1692.5 1911.5 1707.8 1926.1 1692.5 1940.8zM1646.6 1940.8 1661.9 1926.2 1677.2 1940.8 1661.9 1955.5zM561.0 1955.5 561.0 1955.5 561.0 1970.1 561.0 1970.1 561.0 1970.1 561.0 1955.5zM1218.5 1955.5 1218.5 1955.5 1203.2 1970.1 1203.2 1970.1 1187.9 1984.8 1187.9 1984.8 1187.9 1984.8 1203.2 1984.8 1218.5 1984.8 1233.8 1984.8 1233.8 1984.8 1233.8 1984.8 1218.5 1970.1 1218.5 1955.5zM515.1 1984.8 515.1 1984.8 515.1 1984.8 530.4 1984.8 545.7 1984.8 545.7 1984.8 545.7 1984.8 530.4 1984.8zM1065.6 1984.8 1080.9 1970.1 1096.2 1984.8 1080.9 1999.4 1080.9 1999.5 1065.6 2014.1 1065.6 2014.1 1050.3 2028.8 1035.0 2014.1 1035.0 2014.1 1019.7 1999.5 1035.0 1984.8 1050.3 1999.5 1050.3 1999.5 1050.3 1999.5 1065.6 1984.8zM362.2 1984.8 377.5 1984.8 377.5 1984.8 377.5 1984.8zM759.8 1999.4 759.8 1999.5 759.8 1999.5 775.1 2014.1 775.1 2014.1 775.1 2014.1 775.1 1999.5 775.1 1999.4zM499.9 2043.4 515.1 2028.8 530.4 2043.4 515.1 2058.1zM1279.6 2043.4 1294.9 2028.8 1310.2 2043.4 1294.9 2058.1zM958.6 2087.4 973.8 2072.8 989.1 2087.4 973.8 2102.1zM1386.7 2102.1 1402.0 2087.4 1417.3 2102.1 1402.0 2116.7zM1585.4 2102.1 1600.7 2087.4 1616.0 2102.1 1600.7 2116.7zM1187.9 2116.7 1203.2 2102.1 1218.5 2116.7 1203.2 2131.4zM1539.6 2131.4 1554.9 2116.7 1570.2 2131.4 1554.9 2146.0zM1050.3 2160.7 1050.3 2146.1 1050.3 2131.4 1050.3 2131.4 1050.3 2131.4 1035.0 2146.0 1019.7 2131.4 1035.0 2116.7 1035.0 2116.7 1035.0 2116.7 1019.7 2102.1 1035.0 2087.4 1035.0 2087.4 1035.0 2087.4 1019.7 2072.8 1035.0 2058.1 1035.0 2058.1 1035.0 2058.1 1019.7 2043.4 1035.0 2028.8 1050.3 2028.8 1065.6 2028.8 1080.9 2028.8 1080.9 2028.8 1080.9 2014.1 1096.2 1999.5 1111.5 2014.1 1111.5 2028.8 1111.5 2028.8 1111.5 2028.8 1126.7 2014.1 1126.7 2014.1 1126.7 2014.1 1111.5 1999.5 1126.7 1984.8 1142.0 1999.5 1142.0 1999.5 1157.3 2014.1 1157.3 2014.1 1172.6 2014.1 1172.6 2014.1 1172.6 2014.1 1157.3 1999.5 1157.3 1984.8 1172.6 1970.1 1172.6 1970.1 1172.6 1970.1 1157.3 1970.1 1142.0 1955.5 1142.0 1955.5 1126.7 1955.5 1111.5 1955.5 1096.2 1940.8 1096.2 1940.8 1096.2 1940.8 1080.9 1955.5 1065.6 1940.8 1065.6 1926.1 1065.6 1911.5 1065.6 1911.5 1065.6 1911.5 1050.3 1926.1 1035.0 1926.1 1035.0 1926.2 1035.0 1926.2 1050.3 1926.2 1065.6 1940.8 1065.6 1955.5 1050.3 1970.1 1035.0 1955.5 1035.0 1955.5 1035.0 1955.5 1035.0 1970.1 1019.7 1984.8 1004.4 1970.1 1004.4 1970.1 1004.4 1970.1 1004.4 1984.8 989.1 1999.4 973.8 1984.8 973.8 1984.8 958.6 1984.8 943.3 1984.8 928.0 1984.8 928.0 1984.8 928.0 1984.8 943.3 1984.8 958.6 1984.8 973.8 1999.5 973.8 1999.5 989.1 2014.1 989.1 2028.8 973.8 2043.4 973.8 2043.4 973.8 2043.4 989.1 2058.1 973.8 2072.7 958.6 2072.7 958.6 2072.8 958.6 2087.4 943.3 2102.1 928.0 2102.1 912.7 2102.1 897.4 2102.1 882.1 2102.1 882.1 2102.1 882.1 2102.1 897.4 2116.7 882.1 2131.4 866.8 2116.7 866.8 2116.7 851.5 2102.1 851.5 2102.1 836.2 2102.1 820.9 2102.1 805.7 2102.1 805.7 2102.1 790.4 2116.7 775.1 2102.1 775.1 2087.4 775.1 2087.4 759.8 2072.8 759.8 2072.7 759.8 2072.8 744.5 2087.4 744.5 2087.4 729.2 2102.1 713.9 2102.1 698.6 2087.4 713.9 2072.8 713.9 2072.8 713.9 2072.7 698.6 2058.1 713.9 2043.4 729.2 2043.4 729.2 2043.4 744.5 2028.8 744.5 2028.8 744.5 2028.8 729.2 2014.1 729.2 1999.5 729.2 1999.4 713.9 1984.8 713.9 1984.8 713.9 1984.8 698.6 1999.4 683.3 1984.8 683.3 1970.1 683.3 1970.1 668.0 1970.1 652.8 1955.5 652.8 1940.8 652.8 1940.8 637.5 1940.8 637.5 1940.8 637.5 1955.5 622.2 1970.1 622.2 1970.1 606.9 1984.8 591.6 1984.8 591.6 1984.8 576.3 1999.4 576.3 1999.5 561.0 2014.1 545.7 2014.1 530.4 2014.1 530.4 2014.1 515.1 2028.8 499.9 2014.1 499.9 2014.1 499.9 2014.1 499.9 2028.8 484.6 2043.4 469.3 2043.4 454.0 2028.8 469.3 2014.1 469.3 2014.1 469.3 2014.1 454.0 1999.5 454.0 1999.4 454.0 1999.5 438.7 2014.1 438.7 2014.1 423.4 2028.8 408.1 2014.1 408.1 1999.5 408.1 1999.4 408.1 1999.5 392.8 2014.1 392.8 2014.1 392.8 2014.1 408.1 2028.8 392.8 2043.4 377.5 2028.8 377.5 2028.8 362.2 2014.1 362.2 2014.1"/>
<path fill="none" stroke="#242424" stroke-width="5.6" stroke-linejoin="round" stroke-linecap="round" d="M788.5 856.0 790.4 853.0 792.5 856.0 790.4 858.4zM704.4 870.6 713.9 861.5 720.3 870.6 713.9 881.1zM610.7 885.3 622.2 879.0 631.3 885.3 637.5 892.6 647.7 885.3 652.8 881.6 660.4 885.3 652.8 900.0 652.8 900.0 652.8 900.0 668.0 914.6 668.0 914.6 683.3 916.2 688.4 914.6 698.6 909.7 707.4 900.0 713.9 891.2 724.1 885.3 729.2 883.5 732.3 885.3 744.5 897.0 759.8 900.0 759.8 914.6 759.8 914.6 767.4 929.3 775.1 940.3 780.2 943.9 790.4 951.3 805.7 958.6 793.4 973.2 790.4 976.2 775.1 985.0 772.5 987.9 775.1 990.4 787.8 1002.6 775.1 1017.2 775.1 1017.2 775.1 1017.2 780.2 1031.9 775.1 1035.6 765.9 1046.6 775.1 1049.7 786.5 1046.6 790.4 1041.7 805.7 1046.6 805.7 1046.6 820.9 1051.4 836.2 1046.6 836.2 1046.6 836.2 1046.6 826.0 1031.9 820.9 1029.0 805.7 1027.0 796.9 1017.2 805.7 1005.5 820.9 1005.5 836.2 1002.6 836.2 1002.6 851.5 995.2 861.7 987.9 851.5 982.0 840.1 973.2 851.5 965.9 863.0 973.2 866.8 980.6 870.6 973.2 882.1 967.0 897.4 964.5 902.5 958.6 912.7 951.3 928.0 950.4 934.3 958.6 938.9 973.2 928.0 981.4 920.3 987.9 912.7 996.3 901.2 1002.6 897.4 1007.5 882.1 1002.6 882.1 1002.6 882.1 1002.6 866.8 1012.3 861.7 1017.2 858.1 1031.9 866.8 1039.2 877.0 1046.6 882.1 1056.3 884.7 1046.6 882.1 1036.8 879.0 1031.9 882.1 1029.4 897.4 1023.1 906.6 1031.9 912.7 1041.7 928.0 1046.6 928.0 1046.6 943.3 1061.2 935.6 1075.9 933.1 1090.5 939.4 1105.2 943.3 1111.5 958.6 1112.5 963.7 1119.8 973.8 1123.1 978.9 1119.8 989.1 1110.1 999.3 1105.2 1004.4 1101.5 1008.2 1105.2 1004.4 1112.5 1001.4 1119.8 1004.4 1121.5 1019.7 1134.5 1019.7 1134.5 1035.0 1137.4 1050.3 1141.8 1053.4 1149.2 1050.3 1163.8 1050.3 1163.8 1050.3 1163.8 1050.3 1163.8 1065.6 1160.9 1075.8 1149.2 1065.6 1134.5 1070.0 1119.8 1069.4 1105.2 1080.9 1092.6 1094.0 1105.2 1091.8 1119.8 1091.8 1134.5 1096.2 1140.4 1107.6 1149.2 1111.5 1152.1 1126.7 1163.8 1119.1 1178.5 1126.7 1181.4 1136.9 1193.2 1142.0 1202.9 1157.3 1197.1 1165.0 1193.2 1157.3 1178.5 1172.6 1173.6 1180.3 1178.5 1187.9 1182.2 1197.1 1193.2 1203.2 1207.8 1203.2 1222.5 1203.2 1222.5 1210.8 1237.1 1218.5 1240.8 1223.6 1237.1 1221.5 1222.5 1233.8 1214.1 1242.5 1222.5 1245.2 1237.1 1244.0 1251.8 1249.1 1253.9 1256.1 1266.5 1249.1 1274.4 1241.4 1281.1 1233.8 1290.3 1222.9 1281.1 1218.5 1277.4 1203.2 1270.1 1201.0 1266.5 1187.9 1256.7 1176.4 1266.5 1172.6 1273.8 1162.4 1266.5 1162.4 1251.8 1172.6 1237.1 1187.9 1237.1 1187.9 1237.1 1187.9 1237.1 1172.6 1237.1 1157.3 1237.1 1157.3 1237.1 1151.2 1251.8 1142.0 1266.5 1126.7 1266.5 1126.7 1266.5 1122.9 1281.1 1126.7 1282.7 1129.3 1281.1 1142.0 1266.5 1153.0 1281.1 1157.3 1283.8 1172.6 1290.9 1182.8 1281.1 1187.9 1279.0 1191.7 1281.1 1203.2 1295.8 1187.9 1310.4 1172.6 1310.4 1157.3 1307.8 1147.1 1310.4 1157.3 1325.1 1157.3 1325.1 1157.3 1325.1 1172.6 1310.4 1187.9 1325.1 1187.9 1325.1 1203.2 1339.8 1187.9 1348.1 1177.7 1339.8 1172.6 1334.9 1165.0 1339.8 1157.3 1345.6 1151.2 1339.8 1142.0 1333.5 1134.4 1339.8 1126.7 1347.1 1111.5 1354.4 1096.2 1354.4 1096.2 1354.4 1096.2 1354.4 1111.5 1369.1 1096.2 1383.7 1080.9 1377.1 1065.6 1372.7 1061.8 1383.7 1050.3 1396.9 1048.1 1398.4 1045.2 1413.1 1037.2 1427.7 1035.0 1430.2 1027.4 1427.7 1028.9 1413.1 1023.5 1398.4 1019.7 1383.7 1019.7 1383.7 1004.4 1371.2 989.1 1369.1 989.1 1369.1 989.1 1369.1 984.0 1383.7 973.8 1395.5 958.6 1389.6 949.4 1398.4 958.6 1413.1 943.3 1420.4 931.0 1413.1 928.0 1409.4 912.7 1402.6 906.6 1398.4 897.4 1395.2 888.2 1398.4 882.1 1413.1 871.9 1398.4 872.9 1383.7 874.5 1369.1 866.8 1362.8 857.6 1369.1 858.1 1383.7 851.5 1391.1 843.9 1383.7 836.2 1376.4 828.6 1369.1 820.9 1361.7 805.7 1369.1 805.7 1369.1 790.4 1383.7 775.1 1383.7 775.1 1383.7 766.3 1398.4 759.8 1407.2 744.5 1413.1 744.5 1413.1 729.2 1417.9 721.6 1413.1 713.9 1398.4 713.9 1398.4 713.9 1398.4 711.4 1413.1 713.9 1420.4 719.0 1427.7 713.9 1442.4 698.6 1427.7 698.6 1427.7 687.7 1413.1 689.1 1398.4 683.3 1389.6 677.6 1398.4 675.7 1413.1 668.0 1418.9 662.9 1413.1 652.8 1403.3 648.9 1398.4 645.1 1383.7 652.8 1381.3 658.6 1369.1 652.8 1365.0 637.5 1364.2 627.3 1354.4 622.2 1347.1 620.6 1354.4 606.9 1365.4 591.6 1364.7 576.3 1363.2 561.0 1367.2 560.1 1369.1 561.0 1374.0 576.3 1383.7 576.3 1383.7 591.6 1388.6 597.7 1398.4 606.9 1409.4 609.9 1413.1 606.9 1415.1 593.8 1427.7 594.1 1442.4 591.6 1444.2 584.0 1442.4 588.5 1427.7 588.5 1413.1 576.3 1404.7 564.8 1398.4 561.0 1393.5 545.7 1383.7 545.7 1383.7 530.4 1369.1 530.4 1369.1 530.4 1369.1 515.1 1372.7 510.0 1369.1 507.5 1354.4 499.9 1352.8 494.8 1354.4 484.6 1361.7 469.3 1361.7 461.6 1369.1 469.3 1376.4 474.4 1383.7 484.6 1391.1 489.7 1383.7 499.9 1374.0 508.6 1383.7 499.9 1395.5 494.8 1398.4 484.6 1403.3 469.3 1398.4 469.3 1398.4 454.0 1391.1 445.2 1383.7 450.9 1369.1 438.7 1363.7 431.1 1369.1 423.4 1383.7 414.7 1369.1 423.4 1359.3 426.8 1354.4 438.7 1339.8 438.7 1339.8 438.7 1339.8 423.4 1325.1 423.4 1325.1 417.3 1310.4 423.4 1300.7 438.7 1306.2 446.3 1310.4 454.0 1320.2 457.8 1310.4 454.0 1304.6 448.3 1295.8 446.3 1281.1 444.4 1266.5 438.7 1251.8 438.7 1251.8 438.7 1251.8 423.4 1256.7 408.1 1255.5 403.0 1251.8 392.8 1242.0 386.7 1237.1 392.8 1227.4 408.1 1228.3 411.2 1222.5 423.4 1209.4 424.6 1207.8 423.4 1205.4 412.5 1193.2 414.2 1178.5 410.0 1163.8 423.4 1153.6 434.9 1149.2 423.4 1138.2 421.5 1134.5 411.9 1119.8 418.8 1105.2 423.4 1098.9 438.7 1099.7 454.0 1105.2 454.0 1119.8 454.0 1134.5 454.0 1134.5 454.0 1134.5 454.0 1119.8 454.0 1105.2 469.3 1095.4 476.9 1105.2 482.4 1119.8 473.1 1134.5 484.6 1143.3 490.7 1149.2 484.6 1158.9 480.7 1163.8 484.6 1166.3 499.9 1178.5 495.7 1193.2 499.9 1201.9 515.1 1201.9 524.3 1193.2 515.1 1184.4 499.9 1178.5 507.5 1163.8 515.1 1158.9 522.8 1149.2 515.1 1143.3 507.5 1134.5 499.9 1127.2 488.4 1119.8 492.2 1105.2 499.9 1090.5 499.9 1090.5 499.9 1090.5 492.2 1075.9 495.5 1061.2 489.7 1046.6 484.6 1039.2 479.5 1031.9 484.6 1027.0 499.9 1017.2 499.9 1017.2 499.9 1017.2 492.2 1002.6 492.2 987.9 499.9 976.9 515.1 978.1 521.9 987.9 515.1 997.7 510.8 1002.6 515.1 1012.3 530.4 1004.7 533.5 1002.6 545.7 995.2 558.0 1002.6 561.0 1004.2 564.1 1002.6 576.3 994.2 587.8 987.9 584.0 973.2 591.6 965.9 606.9 960.4 608.2 958.6 622.2 945.2 625.2 943.9 622.2 941.8 606.9 943.9 599.2 929.3 606.9 921.9 608.4 914.6 606.9 911.7 591.6 905.8 587.8 900.0 591.6 892.6 606.9 888.2zM475.4 900.0 484.6 892.6 499.9 892.6 511.3 900.0 515.1 907.3 519.0 914.6 530.4 923.4 538.1 929.3 530.4 934.2 515.1 942.3 512.6 943.9 515.1 958.6 499.9 970.8 484.6 958.6 487.1 943.9 484.6 940.3 476.9 943.9 484.6 958.6 469.3 963.5 461.6 973.2 454.0 983.0 452.6 987.9 454.0 1002.6 454.0 1002.6 469.3 1007.5 476.9 1017.2 469.3 1024.6 454.0 1031.9 438.7 1030.3 425.1 1017.2 428.0 1002.6 423.4 997.7 408.1 1002.6 408.1 1002.6 408.1 1002.6 420.3 1017.2 408.1 1029.0 400.5 1017.2 392.8 1008.9 385.2 1002.6 385.2 987.9 392.8 983.0 408.1 975.1 423.4 979.1 438.7 974.6 443.8 973.2 438.7 969.6 423.4 964.9 416.9 958.6 423.4 953.1 433.0 943.9 438.7 936.6 454.0 929.3 454.0 929.3 469.3 923.4 484.6 918.3 493.7 929.3 499.9 933.5 502.9 929.3 510.0 914.6 499.9 908.7 484.6 910.9zM679.5 900.0 683.3 897.5 686.4 900.0 683.3 907.3zM567.8 914.6 576.3 907.9 585.9 914.6 576.3 922.8zM1064.4 914.6 1065.6 913.3 1080.9 913.5 1082.6 914.6 1080.9 916.2 1065.6 916.2zM846.4 929.3 851.5 926.0 856.6 929.3 851.5 932.5zM568.7 943.9 576.3 941.0 581.4 943.9 576.3 951.3 573.2 958.6 561.0 973.2 545.7 958.6 561.0 946.9zM683.3 941.0 679.9 943.9 683.3 948.1 693.5 943.9zM713.9 938.4 702.4 943.9 708.8 958.6 713.9 968.4 721.6 973.2 713.9 987.9 698.6 982.0 683.3 987.9 683.3 987.9 683.3 1002.6 683.3 1002.6 698.6 1009.9 713.9 1008.9 722.7 1017.2 729.2 1026.0 735.8 1017.2 744.5 1002.6 759.8 1005.8 764.2 1002.6 759.8 998.4 748.9 987.9 744.5 980.6 734.3 973.2 729.2 968.4 721.6 958.6 721.6 943.9zM515.1 958.6 530.4 951.3 545.7 958.6 530.4 970.3zM805.7 958.6 820.9 951.3 828.6 958.6 820.9 967.4zM606.9 984.7 596.7 987.9 601.8 1002.6 603.1 1017.2 606.9 1019.7 609.9 1017.2 609.1 1002.6 622.2 992.8 631.3 987.9 622.2 979.1zM814.8 987.9 820.9 980.6 827.1 987.9 820.9 997.7zM971.3 1017.2 973.8 1014.3 981.5 1017.2 973.8 1020.9zM1151.2 1017.2 1157.3 1013.6 1172.6 1002.6 1182.8 1017.2 1172.6 1031.9 1157.3 1022.1zM561.0 1029.0 557.2 1031.9 561.0 1035.6 570.2 1046.6 576.3 1054.9 585.0 1046.6 591.6 1031.9 591.6 1031.9 591.6 1031.9 576.3 1029.4zM1014.6 1031.9 1019.7 1028.2 1022.8 1031.9 1019.7 1046.6zM433.6 1046.6 438.7 1039.2 443.8 1046.6 446.3 1061.2 438.7 1068.5 432.1 1061.2zM958.6 1046.6 973.8 1042.9 989.1 1046.6 977.7 1061.2 973.8 1066.1 966.2 1061.2zM392.8 1061.2 408.1 1054.7 415.8 1061.2 408.1 1069.6zM465.5 1061.2 469.3 1056.3 471.8 1061.2 469.3 1064.9zM1154.8 1061.2 1157.3 1053.9 1159.5 1061.2 1157.3 1064.9zM1242.5 1061.2 1249.1 1046.6 1255.6 1061.2 1249.1 1066.7zM1273.1 1061.2 1279.6 1056.3 1286.2 1061.2 1279.6 1067.5zM1199.4 1075.9 1203.2 1071.0 1207.0 1075.9 1206.3 1090.5 1203.2 1093.0 1187.9 1090.5zM606.9 1090.5 606.9 1090.5 606.9 1105.2 606.9 1105.2 606.9 1105.2 606.9 1090.5zM950.9 1090.5 958.6 1085.6 968.7 1090.5 958.6 1100.3zM978.9 1090.5 989.1 1084.7 995.3 1090.5 989.1 1097.9zM1010.2 1090.5 1019.7 1082.4 1032.5 1090.5 1019.7 1099.7zM1106.4 1090.5 1111.5 1075.9 1126.7 1080.1 1137.7 1090.5 1142.0 1096.4 1157.3 1090.5 1157.3 1090.5 1172.6 1080.8 1187.9 1090.5 1185.4 1105.2 1179.4 1119.8 1172.6 1125.2 1161.9 1134.5 1157.3 1145.5 1149.7 1134.5 1153.0 1119.8 1142.0 1110.7 1134.4 1105.2 1126.7 1099.7 1119.1 1105.2 1111.5 1116.2 1100.0 1105.2zM1227.2 1090.5 1233.8 1085.6 1239.5 1090.5 1233.8 1095.4zM790.4 1100.3 787.0 1105.2 790.4 1108.1 794.7 1105.2zM622.2 1119.8 622.2 1119.8 622.2 1119.8 637.5 1124.7 641.3 1119.8 637.5 1117.8zM958.6 1127.2 956.9 1134.5 958.6 1136.6 960.5 1134.5zM1162.4 1149.2 1172.6 1145.9 1178.7 1149.2 1172.6 1154.1zM1213.4 1149.2 1218.5 1144.3 1233.8 1149.2 1218.5 1153.4zM1275.8 1149.2 1279.6 1144.3 1283.5 1149.2 1279.6 1154.1zM637.5 1154.7 626.5 1163.8 637.5 1176.0 645.1 1163.8zM1096.2 1156.5 1088.5 1163.8 1096.2 1168.7 1102.7 1163.8zM1368.8 1163.8 1371.4 1162.0 1373.3 1163.8 1386.7 1171.2 1402.0 1172.6 1407.1 1178.5 1417.3 1183.4 1425.4 1193.2 1422.8 1207.8 1419.2 1222.5 1417.3 1225.4 1402.0 1222.5 1402.0 1222.5 1395.6 1207.8 1386.7 1195.0 1371.4 1207.8 1367.0 1193.2 1366.3 1178.5zM1065.6 1171.2 1063.9 1178.5 1065.6 1179.6 1080.9 1189.0 1087.8 1178.5 1080.9 1169.3zM1547.2 1178.5 1554.9 1176.0 1557.4 1178.5 1558.7 1193.2 1554.9 1195.2 1551.0 1193.2zM866.8 1191.3 863.0 1193.2 866.8 1195.0 869.9 1193.2zM1261.0 1193.2 1264.4 1185.8 1274.5 1193.2 1264.4 1196.4zM1065.6 1205.7 1061.2 1207.8 1065.6 1212.7 1071.7 1207.8zM1245.2 1207.8 1249.1 1206.0 1251.0 1207.8 1249.1 1211.5zM1537.7 1207.8 1539.6 1204.1 1541.8 1207.8 1539.6 1212.7zM469.3 1222.5 469.3 1222.5 467.7 1237.1 469.3 1239.2 479.5 1251.8 484.6 1258.1 494.8 1266.5 499.9 1269.1 515.1 1267.9 519.0 1266.5 521.3 1251.8 530.4 1243.0 539.6 1251.8 545.7 1259.1 548.8 1251.8 561.0 1237.1 576.3 1239.0 579.4 1237.1 576.3 1233.5 567.1 1222.5 561.0 1216.6 557.2 1222.5 545.7 1237.1 535.5 1222.5 530.4 1213.7 515.1 1212.0 505.6 1222.5 499.9 1233.5 484.6 1234.2 469.3 1222.5zM1260.5 1222.5 1264.4 1220.6 1268.2 1222.5 1264.4 1229.8zM1381.6 1222.5 1386.7 1220.6 1402.0 1222.5 1391.8 1237.1 1386.7 1244.5 1376.5 1237.1zM1080.9 1230.6 1077.1 1237.1 1080.9 1246.9 1093.1 1237.1zM1549.8 1237.1 1554.9 1233.5 1561.0 1237.1 1554.9 1251.8zM1335.7 1251.8 1340.8 1245.9 1356.1 1251.8 1340.8 1256.0zM1459.7 1251.8 1463.1 1248.5 1470.8 1251.8 1463.1 1255.0zM1608.4 1251.8 1616.0 1248.1 1623.7 1251.8 1623.7 1266.5 1616.0 1270.1 1612.2 1266.5zM1065.6 1260.2 1054.1 1266.5 1065.6 1273.8 1072.1 1266.5zM1307.7 1266.5 1310.2 1261.6 1313.3 1266.5 1310.2 1273.8zM484.6 1274.8 480.0 1281.1 484.6 1287.4 488.4 1281.1zM1288.8 1281.1 1294.9 1276.9 1305.1 1281.1 1304.1 1295.8 1294.9 1300.2 1287.3 1295.8zM637.5 1293.7 634.1 1295.8 637.5 1298.7 642.6 1295.8zM1242.9 1295.8 1249.1 1291.6 1255.2 1295.8 1251.0 1310.4 1249.1 1314.1 1241.4 1310.4zM1366.3 1295.8 1371.4 1281.1 1379.0 1295.8 1371.4 1303.1zM1390.5 1295.8 1402.0 1281.1 1409.6 1295.8 1415.7 1310.4 1413.4 1325.1 1402.0 1330.6 1386.7 1334.9 1380.6 1325.1 1379.0 1310.4 1386.7 1303.1zM1493.7 1295.8 1509.0 1287.4 1519.2 1295.8 1509.0 1310.4zM1277.7 1310.4 1279.6 1306.8 1281.6 1310.4 1294.9 1321.8 1300.0 1325.1 1294.9 1328.8 1279.6 1330.0 1272.0 1325.1zM1419.4 1310.4 1432.5 1300.7 1447.8 1302.1 1463.1 1310.4 1463.1 1310.4 1478.4 1316.9 1493.7 1320.9 1509.0 1325.1 1493.7 1332.4 1490.6 1339.8 1493.7 1343.4 1509.0 1347.1 1524.3 1354.4 1524.3 1354.4 1524.3 1354.4 1534.5 1339.8 1531.9 1325.1 1524.3 1310.4 1539.6 1301.3 1548.1 1310.4 1554.9 1322.2 1562.5 1325.1 1566.3 1339.8 1570.2 1347.1 1573.2 1354.4 1570.2 1357.3 1554.9 1369.1 1554.9 1369.1 1539.6 1374.0 1531.9 1383.7 1524.3 1388.6 1512.1 1398.4 1509.0 1413.1 1509.0 1413.1 1501.3 1427.7 1493.7 1430.6 1488.6 1427.7 1486.1 1413.1 1493.7 1398.4 1493.7 1398.4 1493.7 1398.4 1478.4 1391.1 1475.0 1383.7 1463.1 1377.3 1451.2 1383.7 1447.8 1391.1 1432.5 1383.7 1437.6 1369.1 1437.6 1354.4 1441.0 1339.8 1432.5 1335.9 1421.6 1339.8 1417.3 1344.6 1412.9 1339.8 1417.3 1330.0 1418.3 1325.1zM1598.2 1310.4 1600.7 1305.5 1608.4 1310.4 1600.7 1314.1zM375.6 1325.1 377.5 1322.6 392.8 1321.4 400.5 1325.1 392.8 1339.8 377.5 1328.0zM606.9 1315.3 602.5 1325.1 603.1 1339.8 606.9 1342.4 617.1 1339.8 612.0 1325.1zM1019.7 1324.1 1017.8 1325.1 1019.7 1339.8 1019.7 1339.8 1019.7 1339.8 1021.2 1325.1zM1126.7 1323.6 1122.9 1325.1 1126.7 1328.8 1129.8 1325.1zM1608.4 1325.1 1616.0 1314.1 1625.2 1325.1 1616.0 1330.6zM1641.5 1325.1 1646.6 1320.2 1650.4 1325.1 1646.6 1327.2zM484.6 1334.9 480.7 1339.8 484.6 1347.1 487.6 1339.8zM1746.0 1339.8 1753.6 1333.2 1768.9 1339.8 1768.9 1339.8 1776.6 1354.4 1768.9 1361.7 1755.5 1354.4 1753.6 1351.5zM380.1 1354.4 392.8 1339.8 408.1 1354.4 392.8 1369.1zM1241.4 1354.4 1249.1 1348.5 1256.7 1354.4 1249.1 1361.7zM1201.0 1369.1 1203.2 1364.2 1210.8 1369.1 1209.3 1383.7 1203.2 1391.1 1187.9 1383.7zM1375.8 1369.1 1386.7 1359.9 1397.6 1369.1 1402.0 1376.4 1412.2 1383.7 1402.0 1387.9 1391.8 1383.7 1386.7 1381.3zM380.6 1383.7 392.8 1369.1 401.6 1383.7 392.8 1395.5zM668.0 1382.1 660.4 1383.7 668.0 1386.2 673.1 1383.7zM744.5 1381.9 742.3 1383.7 744.5 1387.4 747.0 1383.7zM1249.1 1383.7 1264.4 1370.3 1279.6 1375.6 1292.4 1383.7 1279.6 1398.4 1279.6 1398.4 1264.4 1400.8 1261.8 1398.4zM1302.6 1383.7 1310.2 1381.3 1312.8 1383.7 1310.2 1386.7zM1627.9 1383.7 1631.3 1380.5 1634.7 1383.7 1631.3 1387.9zM1101.3 1398.4 1111.5 1383.7 1126.7 1398.4 1126.7 1398.4 1126.7 1398.4 1142.0 1391.1 1157.3 1388.6 1161.7 1398.4 1172.6 1410.6 1187.9 1405.7 1203.2 1413.1 1187.9 1420.4 1172.6 1414.9 1160.7 1427.7 1157.3 1433.6 1152.2 1427.7 1142.0 1413.1 1142.0 1413.1 1142.0 1413.1 1129.8 1427.7 1126.7 1430.6 1122.9 1427.7 1124.2 1413.1 1111.5 1406.4zM396.6 1413.1 408.1 1405.7 419.6 1413.1 408.1 1419.3zM428.5 1413.1 438.7 1398.4 442.5 1413.1 450.2 1427.7 438.7 1433.2 432.1 1427.7zM847.2 1413.1 851.5 1407.2 857.6 1413.1 851.5 1420.4zM859.2 1427.7 866.8 1421.8 874.5 1427.7 866.8 1433.6zM713.9 1442.4 729.2 1437.5 736.8 1442.4 729.2 1444.8zM757.2 1471.7 759.8 1468.0 775.1 1457.0 790.4 1471.7 790.4 1471.7 800.6 1486.3 800.1 1501.0 790.4 1510.3 777.0 1501.0 775.1 1497.3 759.8 1497.3 744.5 1486.3zM817.1 1471.7 820.9 1469.6 824.0 1471.7 820.9 1473.8zM938.2 1471.7 943.3 1468.0 958.6 1468.0 973.8 1471.7 973.8 1471.7 981.5 1486.3 973.8 1492.2 958.6 1492.9 943.3 1486.3 943.3 1486.3zM1455.5 1471.7 1463.1 1466.8 1467.5 1471.7 1463.1 1479.0zM496.0 1486.3 499.9 1484.3 507.5 1486.3 499.9 1489.3zM459.1 1501.0 469.3 1492.6 478.0 1501.0 469.3 1506.9zM649.7 1501.0 652.8 1497.3 655.3 1501.0 652.8 1503.5zM1386.7 1501.0 1402.0 1499.2 1409.6 1501.0 1405.8 1515.7 1402.0 1523.0 1396.9 1515.7zM1466.2 1501.0 1478.4 1493.7 1493.7 1496.1 1498.8 1501.0 1497.5 1515.7 1493.7 1518.6 1478.4 1521.5 1472.3 1515.7zM696.1 1530.3 698.6 1528.2 703.7 1530.3 698.6 1534.0zM815.2 1530.3 820.9 1521.5 828.6 1530.3 820.9 1535.2zM1384.5 1530.3 1386.7 1525.4 1394.3 1530.3 1402.0 1535.2 1417.3 1545.0 1410.3 1559.7 1409.6 1574.3 1408.5 1589.0 1402.0 1603.6 1394.3 1589.0 1386.7 1580.2 1383.3 1574.3 1371.4 1559.7 1371.4 1545.0zM574.1 1545.0 576.3 1540.1 580.1 1545.0 576.3 1547.4zM674.2 1545.0 683.3 1539.5 691.0 1545.0 683.3 1556.0zM1452.9 1559.7 1463.1 1547.9 1478.4 1557.6 1482.2 1559.7 1478.4 1567.0 1470.8 1574.3 1478.4 1575.9 1493.7 1582.7 1502.9 1589.0 1499.8 1603.6 1493.7 1608.5 1478.4 1613.4 1463.1 1618.3 1447.8 1603.6 1449.5 1589.0 1460.9 1574.3zM522.8 1574.3 530.4 1559.7 538.1 1574.3 530.4 1586.0zM582.9 1574.3 591.6 1567.0 601.8 1574.3 606.9 1581.6 611.3 1589.0 606.9 1593.9 591.6 1591.9 586.5 1589.0zM617.1 1574.3 622.2 1571.4 626.0 1574.3 622.2 1576.8zM824.8 1574.3 836.2 1569.4 840.8 1574.3 836.2 1589.0 836.2 1589.0 826.7 1603.6 820.9 1608.0 805.7 1618.3 798.0 1603.6 790.4 1598.7 785.3 1603.6 775.1 1606.9 764.9 1603.6 769.0 1589.0 775.1 1584.1 790.4 1584.8 805.7 1583.5 820.9 1578.0zM1195.5 1574.3 1203.2 1559.7 1218.5 1570.6 1222.3 1574.3 1218.5 1576.8 1203.2 1581.6zM419.6 1589.0 423.4 1586.5 426.5 1589.0 423.4 1603.6zM463.5 1589.0 469.3 1578.0 474.4 1589.0 469.3 1594.5zM538.1 1589.0 545.7 1586.0 548.8 1589.0 545.7 1591.4zM1424.9 1589.0 1432.5 1582.5 1444.8 1589.0 1432.5 1596.3zM1534.5 1589.0 1539.6 1581.6 1554.9 1578.0 1570.2 1574.3 1572.1 1589.0 1574.0 1603.6 1570.2 1609.5 1554.9 1609.5 1547.2 1603.6 1539.6 1597.8zM406.2 1603.6 408.1 1600.0 423.4 1603.6 408.1 1608.5zM538.1 1618.3 545.7 1612.8 557.2 1618.3 545.7 1623.2zM691.0 1618.3 698.6 1611.0 704.2 1618.3 698.6 1630.0zM1421.3 1618.3 1432.5 1607.5 1446.6 1618.3 1432.5 1631.7zM1505.9 1618.3 1509.0 1614.6 1524.3 1603.6 1531.9 1618.3 1539.6 1623.8 1548.1 1633.0 1539.6 1642.1 1530.0 1633.0 1524.3 1625.6 1515.1 1633.0 1509.0 1640.3 1502.9 1633.0zM1396.9 1632.9 1402.0 1624.2 1411.1 1633.0 1405.0 1647.6 1402.0 1650.5 1399.4 1647.6zM757.9 1662.3 759.8 1654.9 762.8 1662.3 759.8 1664.1zM863.8 1662.3 866.8 1658.6 868.7 1662.3 866.8 1664.1zM1501.3 1662.3 1509.0 1654.9 1516.6 1662.3 1519.2 1676.9 1509.0 1681.8 1493.7 1682.8 1488.6 1676.9 1493.7 1669.6zM497.9 1676.9 499.9 1675.1 515.1 1676.9 499.9 1679.9zM917.8 1676.9 928.0 1672.0 938.2 1676.9 928.0 1684.3zM1151.2 1676.9 1157.3 1671.1 1167.5 1676.9 1157.3 1680.2zM839.3 1691.6 851.5 1686.3 859.2 1691.6 851.5 1701.4zM423.4 1720.9 438.7 1709.2 454.0 1709.2 466.2 1720.9 469.3 1723.0 482.4 1735.6 484.6 1742.9 499.9 1745.3 507.5 1750.2 515.1 1751.6 516.7 1750.2 530.4 1741.4 545.7 1738.5 553.4 1735.6 561.0 1732.6 576.3 1735.6 561.0 1742.9 558.0 1750.2 547.9 1764.9 545.7 1767.3 538.1 1764.9 530.4 1763.4 529.0 1764.9 530.4 1767.8 537.2 1779.5 530.4 1787.9 515.1 1794.2 515.1 1794.2 515.1 1808.9 499.9 1816.2 493.1 1823.5 484.6 1832.7 473.1 1838.2 469.3 1840.6 467.4 1838.2 469.3 1830.9 471.8 1823.5 469.3 1820.6 454.0 1808.9 469.3 1794.2 469.3 1794.2 469.3 1794.2 461.6 1779.5 464.2 1764.9 469.3 1750.2 469.3 1750.2 469.3 1750.2 454.0 1750.2 454.0 1750.2 438.7 1757.6 431.1 1750.2 438.7 1742.9 442.5 1735.6 438.7 1730.7zM846.4 1735.6 851.5 1733.7 856.6 1735.6 851.5 1740.5zM874.5 1750.2 882.1 1748.1 897.4 1741.9 908.5 1750.2 912.7 1757.6 928.0 1757.6 943.3 1761.2 948.4 1764.9 949.6 1779.6 949.4 1794.2 946.7 1808.9 943.3 1813.8 933.1 1823.5 928.0 1838.2 912.7 1823.5 912.7 1823.5 912.7 1823.5 900.5 1838.2 897.4 1843.1 882.1 1838.2 891.3 1823.5 897.4 1808.9 897.4 1808.9 897.4 1808.9 882.1 1808.9 866.8 1804.5 851.5 1794.2 851.5 1794.2 836.2 1794.2 836.2 1794.2 820.9 1798.4 817.5 1794.2 817.1 1779.5 815.4 1764.9 820.9 1756.5 829.7 1764.9 836.2 1773.7 851.5 1774.7 859.2 1764.9 866.8 1755.1 874.5 1764.9 882.1 1767.6 897.4 1764.9 897.4 1764.9 897.4 1764.9 882.1 1755.1zM1428.7 1764.9 1432.5 1757.6 1436.9 1764.9 1432.5 1769.8zM1566.3 1764.9 1570.2 1762.0 1572.7 1764.9 1570.2 1769.8zM591.6 1779.5 606.9 1777.5 612.0 1779.5 606.9 1784.4zM756.4 1779.5 759.8 1776.3 775.1 1779.5 759.8 1786.9zM928.0 1779.5 928.0 1779.5 928.0 1794.2 928.0 1794.2 928.0 1794.2 928.0 1779.5zM415.8 1794.2 423.4 1791.3 438.7 1794.2 423.4 1808.9zM694.8 1794.2 698.6 1792.4 706.3 1794.2 698.6 1796.7zM618.4 1808.9 622.2 1794.2 627.3 1808.9 628.7 1823.5 622.2 1838.2 614.5 1823.5zM721.6 1808.9 729.2 1807.0 731.1 1808.9 729.2 1811.0zM754.2 1808.9 759.8 1799.1 767.4 1808.9 759.8 1815.4zM803.1 1808.9 805.7 1807.0 808.2 1808.9 805.7 1811.3zM1155.1 1808.9 1157.3 1804.0 1172.6 1808.9 1157.3 1811.0zM430.0 1823.5 438.7 1808.9 450.9 1823.5 438.7 1830.9zM709.5 1823.5 713.9 1813.8 717.7 1823.5 713.9 1829.4zM734.3 1838.2 744.5 1832.3 747.9 1838.2 744.5 1844.1zM433.6 1852.9 438.7 1849.9 441.2 1852.8 444.8 1867.5 442.5 1882.2 438.7 1889.5 423.4 1896.8 421.5 1882.2 423.4 1880.1 434.9 1867.5zM499.9 1852.9 515.1 1843.1 521.9 1852.9 515.1 1864.6 507.5 1867.5 499.9 1870.4 492.2 1867.5 499.9 1852.9zM647.7 1852.9 652.8 1843.1 660.4 1852.9 662.5 1867.5 668.0 1877.3 678.2 1882.2 683.3 1896.8 668.0 1904.2 652.8 1901.2 637.5 1904.2 632.4 1911.5 622.2 1917.4 613.0 1926.2 606.9 1931.0 599.2 1926.2 591.6 1918.8 584.0 1926.2 578.9 1940.8 576.3 1955.5 561.0 1946.1 545.7 1945.0 530.4 1945.7 522.8 1940.8 530.4 1931.0 534.3 1926.2 530.4 1923.7 519.5 1911.5 530.4 1903.3 541.4 1911.5 545.7 1917.4 561.0 1911.5 561.0 1911.5 561.0 1896.8 564.1 1882.2 576.3 1873.8 591.6 1882.2 591.6 1882.2 591.6 1882.2 606.9 1867.5 622.2 1879.7 626.0 1882.2 622.2 1896.8 606.9 1891.9 599.2 1896.8 606.9 1900.5 622.2 1896.8 622.2 1896.8 637.5 1893.2 652.8 1885.8 657.9 1882.2 652.8 1880.3 643.0 1867.5zM756.0 1852.9 759.8 1851.0 762.8 1852.9 759.8 1856.5zM863.0 1852.9 866.8 1848.0 869.4 1852.8 866.8 1860.2zM907.6 1852.9 912.7 1849.9 915.7 1852.9 912.7 1855.8zM522.8 1867.5 530.4 1865.1 533.5 1867.5 530.4 1872.4 524.3 1882.2 515.1 1896.8 508.6 1882.2 515.1 1871.2zM871.9 1867.5 882.1 1863.3 887.2 1867.5 882.1 1877.3zM390.9 1882.2 392.8 1874.8 394.7 1882.2 392.8 1889.5zM747.6 1882.2 759.8 1873.8 765.3 1882.2 759.8 1891.9zM397.9 1896.8 408.1 1893.6 423.4 1896.8 423.4 1896.8 438.7 1904.2 454.0 1901.7 469.3 1896.8 484.6 1896.8 496.0 1911.5 484.6 1918.8 473.1 1926.2 469.3 1929.1 457.0 1940.8 454.0 1944.5 446.3 1940.8 448.9 1926.2 438.7 1914.4 426.5 1926.2 436.1 1940.8 423.4 1949.0 412.5 1940.8 418.3 1926.2 408.1 1923.5 395.6 1911.5zM726.1 1896.8 729.2 1893.2 736.8 1896.8 744.5 1911.5 744.5 1911.5 752.1 1926.2 744.5 1940.8 734.3 1926.2 729.2 1918.8 726.7 1911.5zM871.9 1896.8 882.1 1887.1 889.8 1896.8 882.1 1901.7zM1182.8 1896.8 1187.9 1889.5 1193.0 1896.8 1187.9 1900.5zM805.7 1911.5 820.9 1907.8 836.2 1909.0 843.9 1911.5 851.5 1918.8 866.8 1916.4 882.1 1923.2 890.8 1911.5 897.4 1902.7 912.7 1911.5 912.7 1911.5 920.3 1926.2 924.9 1940.8 912.7 1948.1 900.5 1940.8 897.4 1937.1 882.1 1940.8 866.8 1930.3 851.5 1933.5 846.4 1940.8 836.2 1945.7 826.0 1955.5 836.2 1962.8 851.5 1970.1 836.2 1978.5 820.9 1975.0 817.1 1970.1 814.8 1955.5 805.7 1950.0 798.7 1940.8 805.7 1931.6 820.9 1926.2 836.2 1926.2 836.2 1926.2 836.2 1926.2 820.9 1926.2zM953.5 1911.5 958.6 1909.4 961.1 1911.5 958.6 1916.4zM496.0 1926.2 499.9 1918.8 515.1 1926.2 499.9 1929.8zM707.8 1926.2 713.9 1922.0 724.1 1926.2 713.9 1929.8zM478.0 1940.8 484.6 1933.5 492.2 1940.8 484.6 1945.7zM935.6 1940.8 943.3 1933.5 946.3 1940.8 943.3 1942.9zM910.5 1970.1 912.7 1967.2 915.7 1970.1 912.7 1973.8zM1186.0 1970.1 1187.9 1967.2 1189.8 1970.1 1187.9 1972.0zM421.5 1999.5 423.4 1992.1 428.5 1999.5 423.4 2003.1zM799.1 2014.1 805.7 2009.2 817.1 2014.1 808.2 2028.8 805.7 2030.9 801.8 2028.8zM894.3 2014.1 897.4 2011.7 912.7 2014.1 897.4 2028.8zM1184.5 2014.1 1187.9 2006.8 1194.0 2014.1 1187.9 2017.4zM924.2 2028.8 928.0 2021.4 930.2 2028.8 928.0 2032.4z"/>
<path fill="none" stroke="#494949" stroke-width="5.6" stroke-linejoin="round" stroke-linecap="round" d="M619.1 914.6 622.2 908.7 625.6 914.6 622.2 924.4zM513.6 929.3 515.1 927.2 517.7 929.3 515.1 930.9zM626.0 929.3 637.5 924.9 646.6 929.3 637.5 936.6zM675.7 929.3 683.3 927.6 698.6 929.3 683.3 930.7zM720.0 929.3 729.2 924.9 733.8 929.3 729.2 935.6zM617.1 958.6 622.2 953.7 634.4 958.6 622.2 965.1zM639.6 958.6 652.8 947.6 668.0 943.9 681.2 958.6 668.0 971.2 652.8 968.4zM757.2 958.6 759.8 956.8 761.7 958.6 759.8 962.3zM427.2 987.9 438.7 983.9 442.9 987.9 438.7 1002.6zM877.0 987.9 882.1 981.6 889.8 987.9 882.1 992.3zM648.2 1002.6 652.8 998.2 668.0 987.9 670.0 1002.6 680.3 1017.2 683.3 1022.1 693.5 1031.9 698.6 1034.0 700.0 1031.9 713.9 1020.6 724.1 1031.9 724.1 1046.6 713.9 1054.9 708.5 1061.2 713.9 1072.2 721.6 1075.9 713.9 1079.1 698.6 1075.9 698.6 1075.9 683.3 1070.0 680.8 1075.9 679.5 1090.5 676.3 1105.2 683.3 1114.0 692.1 1119.8 683.3 1131.6 679.5 1134.5 683.3 1139.4 687.2 1149.2 683.3 1154.1 668.0 1154.1 662.9 1149.2 658.9 1134.5 662.9 1119.8 652.8 1110.1 642.6 1105.2 637.5 1097.9 633.6 1090.5 637.5 1088.1 642.6 1075.9 652.8 1066.7 661.9 1061.2 652.8 1053.2 645.8 1046.6 637.5 1035.6 634.1 1031.9 625.5 1017.2 637.5 1008.3zM437.0 1017.2 438.7 1002.6 442.5 1017.2 438.7 1018.9zM558.5 1017.2 561.0 1015.6 566.1 1017.2 561.0 1018.7zM523.6 1031.9 530.4 1020.2 542.7 1031.9 535.5 1046.6 545.7 1050.7 554.7 1061.2 561.0 1072.6 576.3 1069.6 582.9 1075.9 587.8 1090.5 591.6 1105.2 582.9 1119.8 586.5 1134.5 576.3 1139.8 564.1 1134.5 561.0 1131.6 558.0 1134.5 545.7 1146.2 539.6 1134.5 530.4 1124.7 515.1 1119.8 519.0 1105.2 515.1 1100.8 507.5 1090.5 507.5 1075.9 506.8 1061.2 512.6 1046.6 515.1 1044.1zM617.1 1046.6 622.2 1042.2 627.3 1046.6 634.4 1061.2 627.9 1075.9 622.2 1083.2 614.5 1075.9 609.9 1061.2zM893.6 1046.6 897.4 1040.3 902.5 1046.6 897.4 1053.9zM766.3 1061.2 775.1 1057.0 781.2 1061.2 775.1 1066.5zM847.2 1061.2 851.5 1057.5 866.8 1057.5 869.0 1061.2 882.1 1071.0 897.4 1075.9 897.4 1075.9 897.4 1075.9 912.7 1070.4 917.8 1075.9 919.6 1090.5 912.7 1101.0 909.3 1105.2 901.8 1119.8 897.4 1125.7 885.9 1134.5 893.6 1149.2 897.4 1152.8 898.6 1149.2 903.1 1134.5 912.7 1127.2 925.4 1134.5 928.0 1135.8 935.6 1134.5 943.3 1130.8 945.0 1134.5 956.4 1149.2 956.6 1163.8 958.6 1165.1 960.3 1163.8 966.2 1149.2 973.8 1134.5 977.7 1149.2 989.1 1160.2 1004.4 1154.5 1019.7 1163.8 1019.7 1163.8 1019.7 1163.8 1035.0 1156.5 1039.6 1163.8 1050.3 1176.7 1052.0 1178.5 1065.6 1187.5 1073.2 1193.2 1065.6 1198.4 1050.3 1202.9 1044.2 1207.8 1050.3 1210.5 1061.8 1222.5 1065.6 1228.0 1070.4 1237.1 1065.6 1246.3 1050.3 1246.9 1046.5 1251.8 1035.0 1257.3 1028.1 1266.4 1035.0 1273.8 1047.7 1281.1 1050.3 1283.6 1065.6 1290.9 1070.7 1295.8 1080.9 1305.5 1096.2 1300.7 1111.5 1310.4 1096.2 1320.2 1093.1 1325.1 1094.5 1339.8 1084.3 1354.4 1080.9 1364.2 1075.8 1354.4 1065.6 1346.0 1061.0 1339.8 1050.3 1325.1 1050.3 1325.1 1050.3 1325.1 1035.0 1334.9 1031.9 1325.1 1019.7 1317.3 1004.4 1325.1 989.1 1322.5 983.4 1325.1 973.8 1331.8 958.6 1333.2 943.3 1338.6 928.0 1338.1 926.3 1339.8 928.0 1341.8 941.1 1354.4 936.7 1369.1 943.3 1378.8 949.0 1383.7 943.3 1389.2 928.0 1386.7 912.7 1390.2 897.4 1387.9 885.2 1383.7 888.9 1369.1 885.9 1354.4 882.1 1352.6 866.8 1343.4 851.5 1339.8 851.5 1339.8 836.2 1328.8 820.9 1339.8 820.9 1339.8 805.7 1354.4 805.7 1354.4 790.4 1356.9 775.1 1365.1 759.8 1358.1 744.5 1369.1 734.7 1354.4 729.2 1349.2 724.7 1354.4 720.0 1369.1 713.9 1378.8 709.5 1369.1 698.6 1360.9 683.3 1366.1 675.7 1369.1 668.0 1370.7 666.9 1369.1 652.8 1359.3 644.4 1354.4 638.7 1339.7 642.3 1325.1 637.5 1312.3 629.8 1310.4 637.5 1309.0 652.8 1300.2 659.3 1295.8 652.8 1290.9 637.5 1286.3 627.9 1281.1 637.5 1266.5 652.8 1273.8 658.5 1266.5 652.8 1259.7 637.5 1266.5 626.8 1251.8 622.2 1245.5 606.9 1251.8 606.9 1251.8 591.6 1266.5 576.3 1251.8 591.6 1248.1 599.2 1237.1 594.1 1222.5 591.6 1219.5 582.9 1207.8 577.8 1193.2 576.3 1185.8 572.5 1178.5 569.8 1163.8 576.3 1159.4 591.6 1158.3 598.1 1163.8 605.0 1178.5 604.1 1193.2 606.9 1196.8 610.7 1193.2 612.0 1178.5 622.2 1174.3 626.0 1178.5 637.5 1188.3 652.8 1186.9 668.0 1182.9 679.5 1178.5 683.3 1175.6 698.6 1176.4 713.9 1171.2 724.1 1163.8 713.9 1154.1 710.1 1149.2 700.3 1134.5 713.9 1119.8 729.2 1127.2 736.8 1134.5 744.5 1138.7 754.1 1149.2 759.8 1156.5 775.1 1160.2 778.9 1163.8 786.0 1178.5 790.4 1185.8 805.7 1185.8 808.7 1178.5 805.7 1174.3 798.7 1163.8 790.4 1151.3 788.2 1149.2 790.4 1145.5 805.7 1139.4 820.9 1134.5 836.2 1138.7 840.9 1134.5 843.9 1119.8 837.6 1105.2 836.2 1102.3 828.6 1090.5 836.2 1082.2 851.5 1079.5 855.3 1075.9 851.5 1071.0zM925.4 1061.2 928.0 1059.4 929.9 1061.2 928.0 1063.3zM800.6 1075.9 805.7 1072.2 813.3 1075.9 805.7 1078.3zM733.6 1090.5 744.5 1082.4 759.8 1080.8 775.1 1085.2 783.8 1090.5 775.1 1105.2 759.8 1105.2 744.5 1105.2 744.5 1105.2 729.2 1110.1 713.9 1119.8 698.6 1105.2 713.9 1103.4 729.2 1100.3zM866.8 1086.9 863.0 1090.5 866.8 1092.6 869.9 1090.5zM920.3 1105.2 928.0 1101.5 930.5 1105.2 928.0 1111.1zM1166.1 1105.2 1172.6 1099.7 1176.4 1105.2 1172.6 1112.5zM739.4 1119.8 744.5 1105.2 748.3 1119.8 744.5 1124.7zM766.3 1119.8 775.1 1105.2 790.4 1118.4 793.4 1119.8 790.4 1123.5 785.8 1134.5 775.1 1142.4 765.3 1134.5zM866.8 1116.2 856.6 1119.8 866.8 1129.6 871.2 1119.8zM996.8 1134.5 1004.4 1132.9 1006.3 1134.5 1004.4 1137.4zM851.5 1145.5 848.0 1149.2 836.2 1163.8 820.9 1154.7 813.3 1163.8 820.9 1169.5 830.4 1178.5 836.2 1193.2 836.2 1193.2 842.8 1207.8 851.5 1215.1 861.7 1222.5 866.8 1226.1 871.9 1222.5 882.1 1210.7 883.2 1207.8 885.0 1193.2 882.1 1188.8 866.8 1178.5 866.8 1178.5 863.8 1163.8 859.2 1149.2zM443.8 1163.8 454.0 1149.2 459.1 1163.8 454.0 1167.1zM882.1 1156.5 870.6 1163.8 882.1 1168.2 889.8 1163.8zM459.7 1193.2 469.3 1180.9 484.6 1188.3 486.0 1193.2 484.6 1196.8 473.1 1207.8 469.3 1209.6 454.0 1207.8zM538.1 1193.2 545.7 1182.7 555.3 1193.2 545.7 1203.6zM683.3 1185.8 681.4 1193.2 683.3 1194.8 684.1 1193.2zM1393.7 1193.2 1402.0 1184.6 1417.3 1191.9 1418.3 1193.2 1417.3 1196.8 1402.0 1204.6zM432.8 1207.8 438.7 1200.5 454.0 1207.8 454.0 1222.5 438.7 1226.1 423.4 1237.1 421.9 1222.5 423.4 1220.8zM622.2 1202.9 617.1 1207.8 622.2 1210.7 628.7 1207.8zM775.1 1204.1 767.4 1207.8 759.8 1215.1 754.7 1222.5 759.8 1232.2 770.0 1222.5 775.1 1217.6 780.2 1207.8zM1093.1 1207.8 1096.2 1204.1 1111.5 1201.9 1118.3 1207.8 1111.5 1217.6 1096.2 1211.5zM1155.1 1207.8 1157.3 1206.5 1159.2 1207.8 1157.3 1209.9zM482.7 1222.5 484.6 1218.8 487.6 1222.5 484.6 1223.9zM447.9 1237.1 454.0 1222.5 457.0 1237.1 454.0 1251.8zM637.5 1235.4 632.4 1237.1 637.5 1240.4 640.0 1237.1zM744.5 1234.2 740.7 1237.1 744.5 1239.6 752.1 1237.1zM836.2 1237.1 836.2 1237.1 834.1 1251.8 836.2 1255.5 842.4 1251.8 836.2 1237.1zM1035.0 1235.9 1033.8 1237.1 1035.0 1240.8 1040.1 1237.1zM559.5 1251.8 561.0 1250.0 576.3 1251.8 561.0 1259.1zM1004.4 1251.8 1004.4 1251.8 1004.4 1251.8 1019.7 1251.8 1019.7 1251.8 1019.7 1251.8zM1213.4 1251.8 1218.5 1249.3 1222.9 1251.8 1218.5 1261.6zM497.3 1281.1 499.9 1278.4 515.1 1278.2 519.5 1281.1 515.1 1287.0 509.4 1295.8 499.9 1303.9 490.3 1295.8zM559.1 1281.1 561.0 1273.8 566.1 1281.1 561.0 1284.0zM1074.3 1281.1 1080.9 1273.8 1087.4 1281.1 1080.9 1287.4zM543.2 1295.8 545.7 1293.9 548.8 1295.8 545.7 1298.7zM943.3 1295.1 940.2 1295.8 943.3 1298.2 947.1 1295.8zM1111.5 1295.8 1126.7 1294.1 1131.8 1295.8 1130.6 1310.4 1126.7 1313.4 1111.5 1310.4zM1149.7 1295.8 1157.3 1293.1 1161.1 1295.8 1157.3 1298.4zM583.1 1310.4 591.6 1298.2 598.5 1310.4 591.6 1320.9zM928.0 1305.5 920.3 1310.4 928.0 1313.4 932.3 1310.4zM1397.6 1310.4 1402.0 1300.7 1405.0 1310.4 1402.0 1315.3zM501.6 1325.1 515.1 1313.4 530.4 1319.8 545.7 1316.3 561.0 1312.9 576.3 1325.1 576.3 1325.1 588.5 1339.8 576.3 1347.1 561.0 1354.4 545.7 1352.3 538.1 1354.4 545.7 1356.0 553.4 1369.1 545.7 1376.9 537.6 1369.1 530.4 1356.2 528.3 1354.4 520.2 1339.8 515.1 1336.8 505.0 1339.8 499.9 1341.4 498.3 1339.8 499.9 1332.4zM1425.4 1325.1 1432.5 1312.3 1447.8 1325.1 1432.5 1330.5zM1474.6 1339.8 1478.4 1334.9 1479.9 1339.8 1478.4 1343.4zM591.6 1354.4 606.9 1351.7 609.9 1354.4 606.9 1356.9zM981.5 1354.4 989.1 1352.0 993.0 1354.4 989.1 1356.2zM1019.7 1354.4 1035.0 1342.7 1050.3 1354.4 1035.0 1366.1zM1531.9 1354.4 1539.6 1346.5 1551.5 1354.4 1539.6 1362.3zM956.4 1369.1 958.6 1366.6 973.8 1356.2 981.5 1369.1 973.8 1379.3 958.6 1371.5zM1457.0 1369.1 1463.1 1365.4 1478.4 1360.7 1487.2 1369.1 1478.4 1375.6 1463.1 1370.9zM1035.0 1383.7 1050.3 1369.1 1052.8 1383.7 1050.3 1386.7zM1258.8 1383.7 1264.4 1378.8 1274.5 1383.7 1264.4 1389.6zM1461.4 1589.0 1463.1 1586.9 1478.4 1587.3 1481.5 1589.0 1478.4 1591.4 1470.8 1603.6 1463.1 1609.7 1456.8 1603.6zM1428.5 1618.3 1432.5 1614.4 1437.6 1618.3 1432.5 1623.2zM527.4 1750.2 530.4 1748.3 536.6 1750.2 530.4 1753.2zM895.2 1750.2 897.4 1749.2 898.8 1750.2 897.4 1752.1zM490.5 1764.9 499.9 1755.4 515.1 1760.9 519.3 1764.9 515.1 1769.8 502.0 1779.5 499.9 1782.5 497.7 1779.5zM878.3 1779.5 882.1 1776.9 888.2 1779.6 882.1 1789.3zM889.8 1794.2 897.4 1790.5 902.5 1794.2 897.4 1796.0zM405.3 1911.5 408.1 1907.3 418.3 1911.5 408.1 1914.2z"/>
<path fill="none" stroke="#6d6d6d" stroke-width="5.6" stroke-linejoin="round" stroke-linecap="round" d="M655.3 958.6 668.0 952.5 673.5 958.6 668.0 963.8zM633.1 1017.2 637.5 1014.0 652.8 1017.2 637.5 1023.7zM650.2 1031.9 652.8 1017.2 668.0 1024.6 673.8 1031.9 668.0 1039.2 652.8 1036.8zM709.7 1031.9 713.9 1028.5 717.0 1031.9 715.2 1046.6 713.9 1047.6 706.3 1046.6zM522.8 1061.2 530.4 1058.8 545.7 1058.1 548.4 1061.2 550.1 1075.9 554.1 1090.5 561.0 1105.2 545.7 1108.9 530.4 1110.1 527.9 1105.2 515.1 1090.5 522.8 1075.9zM691.0 1061.2 698.6 1049.5 702.2 1061.2 698.6 1066.5zM649.7 1075.9 652.8 1073.1 668.0 1068.5 671.9 1075.9 668.0 1086.9 652.8 1090.5zM847.4 1105.2 851.5 1098.9 863.0 1105.2 851.5 1110.1zM712.2 1134.5 713.9 1132.7 716.5 1134.5 713.9 1137.0zM849.2 1134.5 851.5 1130.8 855.3 1134.5 851.5 1137.0zM829.7 1149.2 836.2 1146.0 839.8 1149.2 836.2 1153.6zM906.8 1149.2 912.7 1138.7 928.0 1145.2 939.4 1149.2 943.3 1163.8 928.0 1171.2 922.9 1178.5 928.0 1184.8 943.3 1178.5 943.3 1178.5 958.6 1173.6 972.1 1163.8 973.8 1161.7 976.0 1163.8 989.1 1172.6 1004.4 1163.8 1019.7 1171.7 1035.0 1175.6 1037.2 1178.5 1035.0 1185.8 1031.9 1193.2 1019.7 1204.9 1012.1 1207.8 1019.7 1212.7 1035.0 1215.1 1050.3 1219.8 1052.8 1222.5 1050.3 1226.7 1035.0 1227.4 1025.6 1237.1 1019.7 1243.2 1007.0 1237.1 1004.4 1233.5 999.3 1237.1 996.8 1251.8 1004.4 1262.1 1015.9 1266.5 1019.7 1268.5 1031.2 1281.1 1019.7 1295.8 1019.7 1295.8 1019.7 1310.4 1004.4 1314.8 989.1 1316.5 973.8 1310.4 973.8 1310.4 970.8 1295.8 958.6 1289.3 943.3 1290.2 928.0 1281.1 943.3 1267.5 946.3 1266.5 954.0 1251.8 958.6 1237.1 958.6 1237.1 958.6 1237.1 958.6 1237.1 943.3 1241.5 928.0 1244.5 921.9 1251.8 912.7 1261.6 907.0 1266.5 912.7 1270.1 928.0 1281.1 923.8 1295.8 912.7 1304.8 899.1 1295.8 897.4 1294.5 882.1 1294.4 866.8 1292.8 858.1 1295.8 851.5 1300.2 836.2 1295.8 851.5 1284.8 852.4 1281.1 855.1 1266.4 863.8 1251.8 866.8 1244.5 882.1 1245.3 897.4 1237.1 897.4 1237.1 897.4 1237.1 889.8 1222.5 890.8 1207.8 891.7 1193.2 897.4 1180.6 899.6 1178.5 903.0 1163.8zM819.4 1178.5 820.9 1177.4 822.1 1178.5 827.3 1193.2 820.9 1199.3 813.3 1193.2zM588.5 1193.2 591.6 1178.5 594.4 1193.2 591.6 1199.0zM689.5 1193.2 698.6 1183.4 713.9 1185.8 729.2 1187.7 744.5 1189.5 759.8 1178.5 770.0 1193.2 759.8 1197.3 748.9 1207.8 744.5 1213.7 733.0 1222.5 729.2 1225.4 713.9 1227.4 698.6 1228.0 683.3 1230.5 668.0 1233.9 661.9 1237.1 668.0 1240.8 683.3 1247.6 698.6 1243.2 713.9 1238.9 729.2 1242.5 741.1 1251.8 744.5 1252.9 746.4 1251.8 759.8 1241.5 765.9 1237.1 775.1 1228.3 784.9 1237.1 787.8 1251.8 790.4 1254.2 794.2 1251.8 799.9 1237.1 798.0 1222.5 805.7 1215.1 811.8 1222.5 820.9 1237.1 820.9 1237.1 826.4 1251.8 831.1 1266.5 829.7 1281.1 836.2 1295.8 820.9 1307.5 818.4 1310.4 820.9 1315.3 825.3 1325.1 820.9 1328.3 810.2 1339.8 805.7 1344.1 790.4 1346.4 784.0 1339.8 775.1 1332.9 763.2 1339.8 759.8 1343.4 748.3 1354.4 744.5 1357.7 742.3 1354.4 729.2 1341.8 725.4 1339.8 713.9 1333.0 703.7 1339.8 698.6 1347.1 694.0 1339.8 683.3 1334.0 672.6 1339.8 668.0 1346.0 652.8 1351.5 647.7 1339.8 647.2 1325.1 652.8 1310.4 652.8 1310.4 668.0 1306.8 679.5 1295.8 668.0 1290.9 654.9 1281.1 665.2 1266.5 652.8 1251.8 652.8 1251.8 648.9 1237.1 652.8 1228.3 656.2 1222.5 652.8 1215.1 649.7 1222.5 637.5 1229.4 622.2 1231.6 611.3 1222.5 622.2 1217.6 637.5 1211.8 646.6 1207.8 652.8 1202.9 662.9 1207.8 668.0 1209.6 675.7 1207.8 683.3 1206.2zM958.6 1188.3 950.9 1193.2 958.6 1207.8 958.6 1207.8 968.7 1222.5 973.8 1224.9 978.9 1222.5 981.5 1207.8 973.8 1204.9 960.7 1193.2zM826.7 1222.5 836.2 1214.3 845.8 1222.5 836.2 1228.6zM973.8 1251.8 973.8 1251.8 967.3 1266.5 973.8 1273.8 989.1 1266.5 989.1 1266.5 989.1 1266.5 973.8 1251.8zM775.1 1264.0 773.9 1266.5 775.1 1267.4 777.6 1266.5zM989.1 1289.9 978.9 1295.8 989.1 1299.0 995.3 1295.8zM513.4 1325.1 515.1 1323.6 519.0 1325.1 515.1 1326.6zM668.0 1313.4 662.9 1325.1 668.0 1333.5 672.1 1325.1zM882.1 1325.1 897.4 1310.4 903.1 1325.1 912.7 1337.3 914.4 1339.8 920.3 1354.4 912.7 1356.5 909.6 1354.4 897.4 1342.7 882.1 1339.8zM925.4 1325.1 928.0 1323.6 943.3 1314.6 954.2 1325.1 943.3 1330.7 928.0 1326.7zM1077.8 1339.8 1080.9 1336.1 1082.6 1339.8 1080.9 1342.2zM704.4 1354.4 713.9 1347.7 718.4 1354.4 713.9 1361.7zM772.9 1354.4 775.1 1352.6 777.3 1354.4 775.1 1355.7zM544.7 1369.1 545.7 1367.4 546.7 1369.1 545.7 1370.0zM925.8 1369.1 928.0 1361.7 929.1 1369.1 928.0 1371.2zM496.5 1764.9 499.9 1761.4 507.5 1764.9 499.9 1770.8z"/>
<path fill="none" stroke="#929292" stroke-width="5.6" stroke-linejoin="round" stroke-linecap="round" d="M967.7 1178.5 973.8 1174.8 980.0 1178.5 980.8 1193.2 973.8 1198.0 968.4 1193.2zM694.8 1193.2 698.6 1189.1 707.1 1193.2 698.6 1202.3zM902.5 1193.2 912.7 1183.4 918.8 1193.2 912.7 1196.8zM936.5 1207.8 943.3 1201.3 948.8 1207.8 947.6 1222.5 943.3 1227.4 937.1 1222.5zM632.4 1222.5 637.5 1221.1 639.0 1222.5 637.5 1223.3zM773.0 1237.1 775.1 1235.2 777.3 1237.1 775.1 1244.5zM698.6 1251.8 713.9 1244.9 729.2 1251.8 729.2 1251.8 744.5 1256.9 753.1 1251.8 759.8 1246.7 771.7 1251.8 765.7 1266.5 775.1 1274.3 785.8 1281.1 782.7 1295.8 790.4 1306.8 798.0 1310.4 805.7 1312.2 817.1 1325.1 805.7 1336.7 790.4 1335.6 775.1 1326.1 759.8 1327.5 754.7 1325.1 744.5 1321.4 731.4 1310.4 729.2 1309.7 714.7 1295.8 713.9 1294.5 710.1 1295.8 713.9 1310.4 713.9 1325.1 698.6 1334.9 683.3 1328.3 679.3 1325.1 683.3 1319.2 691.0 1310.4 693.5 1295.8 683.3 1283.2 675.7 1281.1 683.3 1266.5 698.6 1267.4 706.3 1266.5zM863.3 1266.5 866.8 1261.6 882.1 1258.1 892.3 1266.5 897.4 1271.3 912.7 1278.7 916.1 1281.1 914.1 1295.8 912.7 1296.9 911.0 1295.8 897.4 1286.0 882.1 1285.1 866.8 1287.7 858.7 1281.1zM798.0 1281.1 805.7 1266.5 813.3 1281.1 811.8 1295.8 805.7 1303.1 801.8 1295.8zM936.2 1281.1 943.3 1274.8 954.7 1281.1 943.3 1285.3zM652.1 1325.1 652.8 1323.3 654.0 1325.1 652.8 1328.8z"/>
<path fill="none" stroke="#b6b6b6" stroke-width="5.6" stroke-linejoin="round" stroke-linecap="round" d="M712.0 1251.8 713.9 1250.9 715.8 1251.8 729.2 1256.7 744.5 1260.8 757.2 1266.5 759.8 1270.6 775.1 1281.1 774.5 1295.8 775.1 1310.4 759.8 1320.2 745.7 1310.4 744.5 1309.8 729.2 1304.6 720.0 1295.8 713.9 1286.0 698.6 1290.4 690.4 1281.1 698.6 1274.3 713.9 1275.2 718.5 1266.5 713.9 1253.9zM865.0 1281.1 866.8 1276.2 871.9 1281.1 866.8 1282.6zM694.8 1325.1 698.6 1317.8 700.5 1325.1 698.6 1326.3zM793.4 1325.1 805.7 1318.2 811.8 1325.1 805.7 1331.3z"/>
<path fill="none" stroke="#dbdbdb" stroke-width="5.6" stroke-linejoin="round" stroke-linecap="round" d="M723.9 1266.5 729.2 1261.6 744.5 1264.8 748.3 1266.5 758.1 1281.1 759.8 1282.6 770.4 1295.8 766.2 1310.4 759.8 1314.5 753.9 1310.4 744.5 1305.3 729.2 1299.4 725.4 1295.8 720.5 1281.1z"/>
<path fill="none" stroke="#ffffff" stroke-width="5.6" stroke-linejoin="round" stroke-linecap="round" d="M733.0 1281.1 744.5 1271.0 752.1 1281.1 759.8 1287.7 766.3 1295.8 759.8 1308.2 744.5 1300.9 732.3 1295.8z"/>
</g>
<g shape-rendering="crispEdges">
<rect x="362.0" y="578.0" width="8.0" height="22.0" fill="#0d5b52"/>
<rect x="370.0" y="550.0" width="7.0" height="50.0" fill="#0e5d50"/>
<rect x="377.0" y="530.0" width="8.0" height="70.0" fill="#0e5c51"/>
<rect x="385.0" y="482.0" width="8.0" height="118.0" fill="#0c5756"/>
<rect x="393.0" y="459.0" width="7.0" height="141.0" fill="#0c5855"/>
<rect x="400.0" y="449.0" width="8.0" height="151.0" fill="#0c5756"/>
<rect x="408.0" y="414.0" width="7.0" height="186.0" fill="#0d5a53"/>
<rect x="415.0" y="392.0" width="8.0" height="208.0" fill="#0c5855"/>
<rect x="423.0" y="363.0" width="8.0" height="237.0" fill="#0d5a53"/>
<rect x="431.0" y="366.0" width="7.0" height="234.0" fill="#0a5459"/>
<rect x="438.0" y="323.0" width="8.0" height="277.0" fill="#0c5954"/>
<rect x="446.0" y="327.0" width="7.0" height="273.0" fill="#0a5459"/>
<rect x="453.0" y="348.0" width="8.0" height="252.0" fill="#0a5459"/>
<rect x="461.0" y="292.0" width="8.0" height="308.0" fill="#09505d"/>
<rect x="469.0" y="292.0" width="7.0" height="308.0" fill="#084e5f"/>
<rect x="476.0" y="274.0" width="8.0" height="326.0" fill="#084e5f"/>
<rect x="484.0" y="302.0" width="7.0" height="298.0" fill="#074d60"/>
<rect x="491.0" y="298.0" width="8.0" height="302.0" fill="#064964"/>
<rect x="499.0" y="265.0" width="8.0" height="335.0" fill="#054865"/>
<rect x="507.0" y="283.0" width="7.0" height="317.0" fill="#054964"/>
<rect x="514.0" y="278.0" width="8.0" height="322.0" fill="#044568"/>
<rect x="522.0" y="267.0" width="7.0" height="333.0" fill="#03436a"/>
<rect x="529.0" y="259.0" width="8.0" height="341.0" fill="#044667"/>
<rect x="537.0" y="268.0" width="8.0" height="332.0" fill="#03436a"/>
<rect x="545.0" y="288.0" width="7.0" height="312.0" fill="#02406d"/>
<rect x="552.0" y="272.0" width="8.0" height="328.0" fill="#02416c"/>
<rect x="560.0" y="256.0" width="8.0" height="344.0" fill="#02416c"/>
<rect x="568.0" y="282.0" width="7.0" height="318.0" fill="#013e6f"/>
<rect x="575.0" y="275.0" width="8.0" height="325.0" fill="#003d70"/>
<rect x="583.0" y="264.0" width="7.0" height="336.0" fill="#02406d"/>
<rect x="590.0" y="295.0" width="8.0" height="305.0" fill="#03426b"/>
<rect x="598.0" y="251.0" width="8.0" height="349.0" fill="#02416c"/>
<rect x="606.0" y="237.0" width="7.0" height="363.0" fill="#02416c"/>
<rect x="613.0" y="255.0" width="8.0" height="345.0" fill="#034469"/>
<rect x="621.0" y="244.0" width="7.0" height="356.0" fill="#044568"/>
<rect x="628.0" y="208.0" width="8.0" height="392.0" fill="#044568"/>
<rect x="636.0" y="233.0" width="8.0" height="367.0" fill="#054865"/>
<rect x="644.0" y="197.0" width="7.0" height="403.0" fill="#064b62"/>
<rect x="651.0" y="202.0" width="8.0" height="398.0" fill="#064a63"/>
<rect x="659.0" y="189.0" width="7.0" height="411.0" fill="#064b62"/>
<rect x="666.0" y="202.0" width="8.0" height="398.0" fill="#084e5f"/>
<rect x="674.0" y="202.0" width="8.0" height="398.0" fill="#074c61"/>
<rect x="682.0" y="218.0" width="7.0" height="382.0" fill="#074c61"/>
<rect x="689.0" y="249.0" width="8.0" height="351.0" fill="#044667"/>
<rect x="697.0" y="193.0" width="7.0" height="407.0" fill="#044667"/>
<rect x="704.0" y="195.0" width="8.0" height="405.0" fill="#044469"/>
<rect x="712.0" y="193.0" width="8.0" height="407.0" fill="#02416c"/>
<rect x="720.0" y="223.0" width="7.0" height="377.0" fill="#03436a"/>
<rect x="727.0" y="246.0" width="8.0" height="354.0" fill="#03426b"/>
<rect x="735.0" y="197.0" width="7.0" height="403.0" fill="#013e6f"/>
<rect x="742.0" y="227.0" width="8.0" height="373.0" fill="#02406d"/>
<rect x="750.0" y="188.0" width="8.0" height="412.0" fill="#013d70"/>
<rect x="758.0" y="164.0" width="7.0" height="436.0" fill="#003c71"/>
<rect x="765.0" y="197.0" width="8.0" height="403.0" fill="#023c72"/>
<rect x="773.0" y="237.0" width="8.0" height="363.0" fill="#023c72"/>
<rect x="781.0" y="213.0" width="7.0" height="387.0" fill="#093b75"/>
<rect x="788.0" y="215.0" width="8.0" height="385.0" fill="#063c73"/>
<rect x="796.0" y="283.0" width="7.0" height="317.0" fill="#073b74"/>
<rect x="803.0" y="229.0" width="8.0" height="371.0" fill="#0e3b77"/>
<rect x="811.0" y="212.0" width="8.0" height="388.0" fill="#0a3b75"/>
<rect x="819.0" y="253.0" width="7.0" height="347.0" fill="#0b3b75"/>
<rect x="826.0" y="257.0" width="8.0" height="343.0" fill="#093b75"/>
<rect x="834.0" y="293.0" width="7.0" height="307.0" fill="#0c3b76"/>
<rect x="841.0" y="290.0" width="8.0" height="310.0" fill="#0c3b76"/>
<rect x="849.0" y="250.0" width="8.0" height="350.0" fill="#0b3b75"/>
<rect x="857.0" y="191.0" width="7.0" height="409.0" fill="#0e3b77"/>
<rect x="864.0" y="223.0" width="8.0" height="377.0" fill="#0b3b75"/>
<rect x="872.0" y="237.0" width="7.0" height="363.0" fill="#0d3b76"/>
<rect x="879.0" y="239.0" width="8.0" height="361.0" fill="#0c3b76"/>
<rect x="887.0" y="216.0" width="8.0" height="384.0" fill="#0e3b77"/>
<rect x="895.0" y="194.0" width="7.0" height="406.0" fill="#0b3b75"/>
<rect x="902.0" y="240.0" width="8.0" height="360.0" fill="#0c3b76"/>
<rect x="910.0" y="254.0" width="7.0" height="346.0" fill="#0e3b77"/>
<rect x="917.0" y="200.0" width="8.0" height="400.0" fill="#0d3b76"/>
<rect x="925.0" y="217.0" width="8.0" height="383.0" fill="#0c3b76"/>
<rect x="933.0" y="225.0" width="7.0" height="375.0" fill="#0c3b76"/>
<rect x="940.0" y="220.0" width="8.0" height="380.0" fill="#153a79"/>
<rect x="948.0" y="255.0" width="8.0" height="345.0" fill="#0f3b77"/>
<rect x="956.0" y="266.0" width="7.0" height="334.0" fill="#113a78"/>
<rect x="963.0" y="334.0" width="8.0" height="266.0" fill="#143a79"/>
<rect x="971.0" y="308.0" width="7.0" height="292.0" fill="#173a7a"/>
<rect x="978.0" y="281.0" width="8.0" height="319.0" fill="#133a78"/>
<rect x="986.0" y="325.0" width="8.0" height="275.0" fill="#1c3a7c"/>
<rect x="994.0" y="317.0" width="7.0" height="283.0" fill="#1a3a7b"/>
<rect x="1001.0" y="343.0" width="8.0" height="257.0" fill="#1b3a7b"/>
<rect x="1009.0" y="356.0" width="7.0" height="244.0" fill="#24397f"/>
<rect x="1016.0" y="368.0" width="8.0" height="232.0" fill="#24397f"/>
<rect x="1024.0" y="346.0" width="8.0" height="254.0" fill="#293881"/>
<rect x="1032.0" y="363.0" width="7.0" height="237.0" fill="#283881"/>
<rect x="1039.0" y="388.0" width="8.0" height="212.0" fill="#273980"/>
<rect x="1047.0" y="394.0" width="7.0" height="206.0" fill="#283881"/>
<rect x="1054.0" y="352.0" width="8.0" height="248.0" fill="#343785"/>
<rect x="1062.0" y="379.0" width="8.0" height="221.0" fill="#313884"/>
<rect x="1070.0" y="397.0" width="7.0" height="203.0" fill="#2c3882"/>
<rect x="1077.0" y="404.0" width="8.0" height="196.0" fill="#273980"/>
<rect x="1085.0" y="422.0" width="7.0" height="178.0" fill="#283881"/>
<rect x="1092.0" y="426.0" width="8.0" height="174.0" fill="#293881"/>
<rect x="1100.0" y="417.0" width="8.0" height="183.0" fill="#24397f"/>
<rect x="1108.0" y="418.0" width="7.0" height="182.0" fill="#21397e"/>
<rect x="1115.0" y="407.0" width="8.0" height="193.0" fill="#1f397d"/>
<rect x="1123.0" y="408.0" width="8.0" height="192.0" fill="#1d397d"/>
<rect x="1131.0" y="404.0" width="7.0" height="196.0" fill="#183a7a"/>
<rect x="1138.0" y="409.0" width="8.0" height="191.0" fill="#153a79"/>
<rect x="1146.0" y="449.0" width="7.0" height="151.0" fill="#143a79"/>
<rect x="1153.0" y="418.0" width="8.0" height="182.0" fill="#133a78"/>
<rect x="1161.0" y="418.0" width="8.0" height="182.0" fill="#143a79"/>
<rect x="1169.0" y="432.0" width="7.0" height="168.0" fill="#113b78"/>
<rect x="1176.0" y="430.0" width="8.0" height="170.0" fill="#0b3b75"/>
<rect x="1184.0" y="457.0" width="7.0" height="143.0" fill="#0d3b76"/>
<rect x="1191.0" y="441.0" width="8.0" height="159.0" fill="#0f3b77"/>
<rect x="1199.0" y="448.0" width="8.0" height="152.0" fill="#073b74"/>
<rect x="1207.0" y="465.0" width="7.0" height="135.0" fill="#083b74"/>
<rect x="1214.0" y="467.0" width="8.0" height="133.0" fill="#033c72"/>
<rect x="1222.0" y="456.0" width="7.0" height="144.0" fill="#073b74"/>
<rect x="1229.0" y="468.0" width="8.0" height="132.0" fill="#083b74"/>
<rect x="1237.0" y="465.0" width="8.0" height="135.0" fill="#093b75"/>
<rect x="1245.0" y="480.0" width="7.0" height="120.0" fill="#013c71"/>
<rect x="1252.0" y="494.0" width="8.0" height="106.0" fill="#013e6f"/>
<rect x="1260.0" y="492.0" width="7.0" height="108.0" fill="#053c73"/>
<rect x="1267.0" y="497.0" width="8.0" height="103.0" fill="#033c72"/>
<rect x="1275.0" y="515.0" width="8.0" height="85.0" fill="#003c71"/>
<rect x="1283.0" y="517.0" width="7.0" height="83.0" fill="#023c72"/>
<rect x="1290.0" y="524.0" width="8.0" height="76.0" fill="#003d70"/>
<rect x="1298.0" y="526.0" width="7.0" height="74.0" fill="#013d70"/>
<rect x="1305.0" y="531.0" width="8.0" height="69.0" fill="#013f6e"/>
<rect x="1313.0" y="526.0" width="8.0" height="74.0" fill="#03426b"/>
<rect x="1321.0" y="530.0" width="7.0" height="70.0" fill="#02416c"/>
<rect x="1328.0" y="526.0" width="8.0" height="74.0" fill="#034469"/>
<rect x="1336.0" y="528.0" width="8.0" height="72.0" fill="#03426b"/>
<rect x="1344.0" y="523.0" width="7.0" height="77.0" fill="#044568"/>
<rect x="1351.0" y="539.0" width="8.0" height="61.0" fill="#02416c"/>
<rect x="1359.0" y="517.0" width="7.0" height="83.0" fill="#03436a"/>
<rect x="1366.0" y="510.0" width="8.0" height="90.0" fill="#054964"/>
<rect x="1374.0" y="494.0" width="8.0" height="106.0" fill="#054766"/>
<rect x="1382.0" y="480.0" width="7.0" height="120.0" fill="#064a63"/>
<rect x="1389.0" y="491.0" width="8.0" height="109.0" fill="#064a63"/>
<rect x="1397.0" y="465.0" width="7.0" height="135.0" fill="#074c61"/>
<rect x="1404.0" y="472.0" width="8.0" height="128.0" fill="#074c61"/>
<rect x="1412.0" y="485.0" width="8.0" height="115.0" fill="#074d60"/>
<rect x="1420.0" y="488.0" width="7.0" height="112.0" fill="#074c61"/>
<rect x="1427.0" y="487.0" width="8.0" height="113.0" fill="#074b62"/>
<rect x="1435.0" y="476.0" width="7.0" height="124.0" fill="#074c61"/>
<rect x="1442.0" y="480.0" width="8.0" height="120.0" fill="#074d60"/>
<rect x="1450.0" y="498.0" width="8.0" height="102.0" fill="#074d60"/>
<rect x="1458.0" y="479.0" width="7.0" height="121.0" fill="#084e5f"/>
<rect x="1465.0" y="485.0" width="8.0" height="115.0" fill="#084e5f"/>
<rect x="1473.0" y="506.0" width="7.0" height="94.0" fill="#084f5e"/>
<rect x="1480.0" y="466.0" width="8.0" height="134.0" fill="#074d60"/>
<rect x="1488.0" y="491.0" width="8.0" height="109.0" fill="#064a63"/>
<rect x="1496.0" y="453.0" width="7.0" height="147.0" fill="#074d60"/>
<rect x="1503.0" y="474.0" width="8.0" height="126.0" fill="#074d60"/>
<rect x="1511.0" y="453.0" width="8.0" height="147.0" fill="#084f5e"/>
<rect x="1519.0" y="475.0" width="7.0" height="125.0" fill="#084d60"/>
<rect x="1526.0" y="469.0" width="8.0" height="131.0" fill="#064b62"/>
<rect x="1534.0" y="450.0" width="7.0" height="150.0" fill="#064a63"/>
<rect x="1541.0" y="462.0" width="8.0" height="138.0" fill="#084f5e"/>
<rect x="1549.0" y="467.0" width="8.0" height="133.0" fill="#074c61"/>
<rect x="1557.0" y="486.0" width="7.0" height="114.0" fill="#084e5f"/>
<rect x="1564.0" y="488.0" width="8.0" height="112.0" fill="#084e5f"/>
<rect x="1572.0" y="493.0" width="7.0" height="107.0" fill="#054865"/>
<rect x="1579.0" y="514.0" width="8.0" height="86.0" fill="#064964"/>
<rect x="1587.0" y="525.0" width="8.0" height="75.0" fill="#064964"/>
<rect x="1595.0" y="523.0" width="7.0" height="77.0" fill="#054964"/>
<rect x="1602.0" y="528.0" width="8.0" height="72.0" fill="#054865"/>
<rect x="1610.0" y="540.0" width="7.0" height="60.0" fill="#054766"/>
<rect x="1617.0" y="531.0" width="8.0" height="69.0" fill="#044667"/>
<rect x="1625.0" y="546.0" width="8.0" height="54.0" fill="#03436a"/>
<rect x="1633.0" y="545.0" width="7.0" height="55.0" fill="#044568"/>
<rect x="1640.0" y="549.0" width="8.0" height="51.0" fill="#03436a"/>
<rect x="1648.0" y="555.0" width="7.0" height="45.0" fill="#034469"/>
<rect x="1655.0" y="558.0" width="8.0" height="42.0" fill="#03436a"/>
<rect x="1663.0" y="562.0" width="8.0" height="38.0" fill="#044568"/>
<rect x="1671.0" y="573.0" width="7.0" height="27.0" fill="#044568"/>
<rect x="1678.0" y="570.0" width="8.0" height="30.0" fill="#034469"/>
<rect x="1686.0" y="570.0" width="8.0" height="30.0" fill="#03436a"/>
<rect x="1694.0" y="567.0" width="7.0" height="33.0" fill="#03436a"/>
<rect x="1701.0" y="568.0" width="8.0" height="32.0" fill="#02426b"/>
<rect x="1709.0" y="580.0" width="7.0" height="20.0" fill="#03426b"/>
<rect x="1716.0" y="579.0" width="8.0" height="21.0" fill="#02416c"/>
<rect x="1724.0" y="580.0" width="8.0" height="20.0" fill="#03426b"/>
<rect x="1732.0" y="580.0" width="7.0" height="20.0" fill="#02426b"/>
<rect x="1739.0" y="587.0" width="8.0" height="13.0" fill="#03426b"/>
<rect x="1747.0" y="584.0" width="7.0" height="16.0" fill="#013f6e"/>
<rect x="1754.0" y="585.0" width="8.0" height="15.0" fill="#03436a"/>
<rect x="1762.0" y="580.0" width="8.0" height="20.0" fill="#013f6e"/>
<rect x="1770.0" y="583.0" width="7.0" height="17.0" fill="#013f6e"/>
<rect x="1777.0" y="593.0" width="8.0" height="7.0" fill="#02406d"/>
<rect x="1785.0" y="592.0" width="7.0" height="8.0" fill="#02406d"/>
<rect x="1792.0" y="598.0" width="8.0" height="2.0" fill="#02416c"/>
<rect x="1920" y="796.0" width="6.0" height="8.0" fill="#313884"/>
<rect x="1920" y="804.0" width="3.0" height="7.0" fill="#323884"/>
<rect x="1920" y="811.0" width="3.0" height="7.0" fill="#303884"/>
<rect x="1920" y="818.0" width="9.0" height="8.0" fill="#293881"/>
<rect x="1920" y="826.0" width="11.0" height="7.0" fill="#2a3881"/>
<rect x="1920" y="833.0" width="22.0" height="7.0" fill="#2b3882"/>
<rect x="1920" y="840.0" width="24.0" height="8.0" fill="#263980"/>
<rect x="1920" y="848.0" width="29.0" height="7.0" fill="#283881"/>
<rect x="1920" y="855.0" width="40.0" height="7.0" fill="#1f397d"/>
<rect x="1920" y="862.0" width="55.0" height="7.0" fill="#263980"/>
<rect x="1920" y="869.0" width="51.0" height="8.0" fill="#1f397d"/>
<rect x="1920" y="877.0" width="72.0" height="7.0" fill="#1e397d"/>
<rect x="1920" y="884.0" width="102.0" height="7.0" fill="#21397e"/>
<rect x="1920" y="891.0" width="83.0" height="8.0" fill="#1c3a7c"/>
<rect x="1920" y="899.0" width="113.0" height="7.0" fill="#193a7b"/>
<rect x="1920" y="906.0" width="122.0" height="7.0" fill="#193a7b"/>
<rect x="1920" y="913.0" width="129.0" height="7.0" fill="#183a7a"/>
<rect x="1920" y="920.0" width="126.0" height="8.0" fill="#153a79"/>
<rect x="1920" y="928.0" width="100.0" height="7.0" fill="#163a7a"/>
<rect x="1920" y="935.0" width="113.0" height="7.0" fill="#143a79"/>
<rect x="1920" y="942.0" width="125.0" height="8.0" fill="#143a79"/>
<rect x="1920" y="950.0" width="156.0" height="7.0" fill="#0d3b76"/>
<rect x="1920" y="957.0" width="144.0" height="7.0" fill="#0d3b76"/>
<rect x="1920" y="964.0" width="126.0" height="8.0" fill="#053c73"/>
<rect x="1920" y="972.0" width="137.0" height="7.0" fill="#073b74"/>
<rect x="1920" y="979.0" width="167.0" height="7.0" fill="#083b74"/>
<rect x="1920" y="986.0" width="163.0" height="8.0" fill="#043c73"/>
<rect x="1920" y="994.0" width="190.0" height="7.0" fill="#013c71"/>
<rect x="1920" y="1001.0" width="199.0" height="7.0" fill="#023c72"/>
<rect x="1920" y="1008.0" width="221.0" height="7.0" fill="#063c73"/>
<rect x="1920" y="1015.0" width="203.0" height="8.0" fill="#023c72"/>
<rect x="1920" y="1023.0" width="253.0" height="7.0" fill="#0b3b75"/>
<rect x="1920" y="1030.0" width="240.0" height="7.0" fill="#0f3b77"/>
<rect x="1920" y="1037.0" width="225.0" height="8.0" fill="#143a79"/>
<rect x="1920" y="1045.0" width="246.0" height="7.0" fill="#20397e"/>
<rect x="1920" y="1052.0" width="252.0" height="7.0" fill="#20397d"/>
<rect x="1920" y="1059.0" width="292.0" height="7.0" fill="#273980"/>
<rect x="1920" y="1066.0" width="243.0" height="8.0" fill="#273980"/>
<rect x="1920" y="1074.0" width="263.0" height="7.0" fill="#293881"/>
<rect x="1920" y="1081.0" width="298.0" height="7.0" fill="#293881"/>
<rect x="1920" y="1088.0" width="294.0" height="8.0" fill="#283881"/>
<rect x="1920" y="1096.0" width="285.0" height="7.0" fill="#24397f"/>
<rect x="1920" y="1103.0" width="308.0" height="7.0" fill="#22397e"/>
<rect x="1920" y="1110.0" width="292.0" height="8.0" fill="#263980"/>
<rect x="1920" y="1118.0" width="287.0" height="7.0" fill="#23397f"/>
<rect x="1920" y="1125.0" width="277.0" height="7.0" fill="#273980"/>
<rect x="1920" y="1132.0" width="268.0" height="8.0" fill="#2b3882"/>
<rect x="1920" y="1140.0" width="329.0" height="7.0" fill="#263980"/>
<rect x="1920" y="1147.0" width="337.0" height="7.0" fill="#263980"/>
<rect x="1920" y="1154.0" width="312.0" height="7.0" fill="#273980"/>
<rect x="1920" y="1161.0" width="335.0" height="8.0" fill="#23397f"/>
<rect x="1920" y="1169.0" width="363.0" height="7.0" fill="#20397d"/>
<rect x="1920" y="1176.0" width="425.0" height="7.0" fill="#21397e"/>
<rect x="1920" y="1183.0" width="441.0" height="8.0" fill="#20397e"/>
<rect x="1920" y="1191.0" width="418.0" height="7.0" fill="#1c3a7c"/>
<rect x="1920" y="1198.0" width="462.0" height="7.0" fill="#1b3a7c"/>
<rect x="1920" y="1205.0" width="456.0" height="7.0" fill="#1a3a7b"/>
<rect x="1920" y="1212.0" width="476.0" height="8.0" fill="#163a7a"/>
<rect x="1920" y="1220.0" width="477.0" height="7.0" fill="#133a78"/>
<rect x="1920" y="1227.0" width="459.0" height="7.0" fill="#173a7a"/>
<rect x="1920" y="1234.0" width="446.0" height="8.0" fill="#143a79"/>
<rect x="1920" y="1242.0" width="466.0" height="7.0" fill="#123a78"/>
<rect x="1920" y="1249.0" width="477.0" height="7.0" fill="#113a78"/>
<rect x="1920" y="1256.0" width="495.0" height="8.0" fill="#103b77"/>
<rect x="1920" y="1264.0" width="512.0" height="7.0" fill="#123a78"/>
<rect x="1920" y="1271.0" width="518.0" height="7.0" fill="#0e3b77"/>
<rect x="1920" y="1278.0" width="501.0" height="8.0" fill="#0b3b75"/>
<rect x="1920" y="1286.0" width="498.0" height="7.0" fill="#0d3b76"/>
<rect x="1920" y="1293.0" width="476.0" height="7.0" fill="#103b77"/>
<rect x="1920" y="1300.0" width="508.0" height="7.0" fill="#0d3b76"/>
<rect x="1920" y="1307.0" width="499.0" height="8.0" fill="#0b3b75"/>
<rect x="1920" y="1315.0" width="461.0" height="7.0" fill="#0d3b76"/>
<rect x="1920" y="1322.0" width="396.0" height="7.0" fill="#0f3b77"/>
<rect x="1920" y="1329.0" width="371.0" height="8.0" fill="#093b75"/>
<rect x="1920" y="1337.0" width="384.0" height="7.0" fill="#0f3b77"/>
<rect x="1920" y="1344.0" width="352.0" height="7.0" fill="#0b3b75"/>
<rect x="1920" y="1351.0" width="305.0" height="7.0" fill="#0c3b76"/>
<rect x="1920" y="1358.0" width="303.0" height="8.0" fill="#0e3b76"/>
<rect x="1920" y="1366.0" width="269.0" height="7.0" fill="#083b74"/>
<rect x="1920" y="1373.0" width="245.0" height="7.0" fill="#093b75"/>
<rect x="1920" y="1380.0" width="214.0" height="8.0" fill="#0a3b75"/>
<rect x="1920" y="1388.0" width="231.0" height="7.0" fill="#033c72"/>
<rect x="1920" y="1395.0" width="173.0" height="7.0" fill="#023c72"/>
<rect x="1920" y="1402.0" width="157.0" height="8.0" fill="#033c72"/>
<rect x="1920" y="1410.0" width="135.0" height="7.0" fill="#013e6f"/>
<rect x="1920" y="1417.0" width="139.0" height="7.0" fill="#03426b"/>
<rect x="1920" y="1424.0" width="130.0" height="8.0" fill="#044568"/>
<rect x="1920" y="1432.0" width="122.0" height="7.0" fill="#044667"/>
<rect x="1920" y="1439.0" width="108.0" height="7.0" fill="#054766"/>
<rect x="1920" y="1446.0" width="98.0" height="7.0" fill="#054964"/>
<rect x="1920" y="1453.0" width="100.0" height="8.0" fill="#054865"/>
<rect x="1920" y="1461.0" width="109.0" height="7.0" fill="#064b62"/>
<rect x="1920" y="1468.0" width="127.0" height="7.0" fill="#064964"/>
<rect x="1920" y="1475.0" width="99.0" height="8.0" fill="#064a63"/>
<rect x="1920" y="1483.0" width="107.0" height="7.0" fill="#074b62"/>
<rect x="1920" y="1490.0" width="124.0" height="7.0" fill="#054964"/>
<rect x="1920" y="1497.0" width="108.0" height="7.0" fill="#064a63"/>
<rect x="1920" y="1504.0" width="107.0" height="8.0" fill="#084e5f"/>
<rect x="1920" y="1512.0" width="97.0" height="7.0" fill="#074d60"/>
<rect x="1920" y="1519.0" width="144.0" height="7.0" fill="#074c61"/>
<rect x="1920" y="1526.0" width="110.0" height="8.0" fill="#084e5f"/>
<rect x="1920" y="1534.0" width="103.0" height="7.0" fill="#074c61"/>
<rect x="1920" y="1541.0" width="93.0" height="7.0" fill="#084e5f"/>
<rect x="1920" y="1548.0" width="118.0" height="8.0" fill="#074d60"/>
<rect x="1920" y="1556.0" width="128.0" height="7.0" fill="#084f5e"/>
<rect x="1920" y="1563.0" width="139.0" height="7.0" fill="#074d60"/>
<rect x="1920" y="1570.0" width="156.0" height="8.0" fill="#0a5459"/>
<rect x="1920" y="1578.0" width="145.0" height="7.0" fill="#09525b"/>
<rect x="1920" y="1585.0" width="139.0" height="7.0" fill="#09515c"/>
<rect x="1920" y="1592.0" width="136.0" height="7.0" fill="#0b5558"/>
<rect x="1920" y="1599.0" width="142.0" height="8.0" fill="#0b5756"/>
<rect x="1920" y="1607.0" width="122.0" height="7.0" fill="#0c5954"/>
<rect x="1920" y="1614.0" width="131.0" height="7.0" fill="#0b5756"/>
<rect x="1920" y="1621.0" width="122.0" height="8.0" fill="#0d5a53"/>
<rect x="1920" y="1629.0" width="125.0" height="7.0" fill="#10604d"/>
<rect x="1920" y="1636.0" width="98.0" height="7.0" fill="#0c5756"/>
<rect x="1920" y="1643.0" width="116.0" height="7.0" fill="#0d5a53"/>
<rect x="1920" y="1650.0" width="103.0" height="8.0" fill="#0d5954"/>
<rect x="1920" y="1658.0" width="98.0" height="7.0" fill="#0d5b52"/>
<rect x="1920" y="1665.0" width="112.0" height="7.0" fill="#0c5756"/>
<rect x="1920" y="1672.0" width="87.0" height="8.0" fill="#0c5855"/>
<rect x="1920" y="1680.0" width="80.0" height="7.0" fill="#0e5c51"/>
<rect x="1920" y="1687.0" width="73.0" height="7.0" fill="#0d5b52"/>
<rect x="1920" y="1694.0" width="86.0" height="8.0" fill="#0f5e4f"/>
<rect x="1920" y="1702.0" width="80.0" height="7.0" fill="#0d5a53"/>
<rect x="1920" y="1709.0" width="88.0" height="7.0" fill="#0e5d50"/>
<rect x="1920" y="1716.0" width="80.0" height="8.0" fill="#11634a"/>
<rect x="1920" y="1724.0" width="93.0" height="7.0" fill="#0e5e4f"/>
<rect x="1920" y="1731.0" width="113.0" height="7.0" fill="#0f5f4e"/>
<rect x="1920" y="1738.0" width="114.0" height="7.0" fill="#10614c"/>
<rect x="1920" y="1745.0" width="111.0" height="8.0" fill="#11624b"/>
<rect x="1920" y="1753.0" width="135.0" height="7.0" fill="#126548"/>
<rect x="1920" y="1760.0" width="140.0" height="7.0" fill="#116449"/>
<rect x="1920" y="1767.0" width="136.0" height="8.0" fill="#10624b"/>
<rect x="1920" y="1775.0" width="133.0" height="7.0" fill="#116449"/>
<rect x="1920" y="1782.0" width="128.0" height="7.0" fill="#136944"/>
<rect x="1920" y="1789.0" width="133.0" height="7.0" fill="#126647"/>
<rect x="1920" y="1796.0" width="116.0" height="8.0" fill="#0f5f4e"/>
<rect x="1920" y="1804.0" width="106.0" height="7.0" fill="#116449"/>
<rect x="1920" y="1811.0" width="104.0" height="7.0" fill="#10624b"/>
<rect x="1920" y="1818.0" width="126.0" height="8.0" fill="#126548"/>
<rect x="1920" y="1826.0" width="109.0" height="7.0" fill="#116449"/>
<rect x="1920" y="1833.0" width="107.0" height="7.0" fill="#136845"/>
<rect x="1920" y="1840.0" width="123.0" height="8.0" fill="#126647"/>
<rect x="1920" y="1848.0" width="123.0" height="7.0" fill="#126647"/>
<rect x="1920" y="1855.0" width="134.0" height="7.0" fill="#126548"/>
<rect x="1920" y="1862.0" width="118.0" height="8.0" fill="#116449"/>
<rect x="1920" y="1870.0" width="143.0" height="7.0" fill="#126548"/>
<rect x="1920" y="1877.0" width="127.0" height="7.0" fill="#136746"/>
<rect x="1920" y="1884.0" width="135.0" height="7.0" fill="#126647"/>
<rect x="1920" y="1891.0" width="134.0" height="8.0" fill="#116449"/>
<rect x="1920" y="1899.0" width="129.0" height="7.0" fill="#136746"/>
<rect x="1920" y="1906.0" width="127.0" height="7.0" fill="#126548"/>
<rect x="1920" y="1913.0" width="114.0" height="8.0" fill="#126548"/>
<rect x="1920" y="1921.0" width="114.0" height="7.0" fill="#11634a"/>
<rect x="1920" y="1928.0" width="104.0" height="7.0" fill="#116449"/>
<rect x="1920" y="1935.0" width="84.0" height="7.0" fill="#116449"/>
<rect x="1920" y="1942.0" width="81.0" height="8.0" fill="#0f604d"/>
<rect x="1920" y="1950.0" width="87.0" height="7.0" fill="#126647"/>
<rect x="1920" y="1957.0" width="72.0" height="7.0" fill="#116449"/>
<rect x="1920" y="1964.0" width="66.0" height="8.0" fill="#10614c"/>
<rect x="1920" y="1972.0" width="73.0" height="7.0" fill="#11624b"/>
<rect x="1920" y="1979.0" width="53.0" height="7.0" fill="#10604d"/>
<rect x="1920" y="1986.0" width="52.0" height="8.0" fill="#0f5f4e"/>
<rect x="1920" y="1994.0" width="61.0" height="7.0" fill="#0c5855"/>
<rect x="1920" y="2001.0" width="55.0" height="7.0" fill="#0e5c51"/>
<rect x="1920" y="2008.0" width="46.0" height="8.0" fill="#0e5c51"/>
<rect x="1920" y="2016.0" width="46.0" height="7.0" fill="#0e5d50"/>
<rect x="1920" y="2023.0" width="43.0" height="7.0" fill="#0e5d50"/>
<rect x="1920" y="2030.0" width="52.0" height="7.0" fill="#0d5b52"/>
<rect x="1920" y="2037.0" width="35.0" height="8.0" fill="#0b5558"/>
<rect x="1920" y="2045.0" width="45.0" height="7.0" fill="#0a525b"/>
<rect x="1920" y="2052.0" width="37.0" height="7.0" fill="#0b5756"/>
<rect x="1920" y="2059.0" width="22.0" height="8.0" fill="#0b5558"/>
<rect x="1920" y="2067.0" width="25.0" height="7.0" fill="#0b5657"/>
<rect x="1920" y="2074.0" width="18.0" height="7.0" fill="#0a535a"/>
<rect x="1920" y="2081.0" width="20.0" height="7.0" fill="#0a525b"/>
<rect x="1920" y="2088.0" width="13.0" height="8.0" fill="#084f5e"/>
<rect x="1920" y="2096.0" width="10.0" height="7.0" fill="#09525b"/>
<rect x="1920" y="2103.0" width="11.0" height="7.0" fill="#08505d"/>
<rect x="1920" y="2110.0" width="6.0" height="8.0" fill="#09515c"/>
<rect x="1920" y="2118.0" width="4.0" height="7.0" fill="#09505d"/>
<rect x="1920" y="2125.0" width="8.0" height="7.0" fill="#084f5e"/>
<rect x="1920" y="2132.0" width="5.0" height="8.0" fill="#084f5e"/>
<rect x="1920" y="2140.0" width="2.0" height="7.0" fill="#084e5f"/>
<rect x="1920" y="2147.0" width="2.0" height="7.0" fill="#084f5e"/>
</g>
<defs><linearGradient id="cb" x1="0" y1="1" x2="0" y2="0"><stop offset="0" stop-color="#663399"/><stop offset="0.5" stop-color="#003c71"/><stop offset="1" stop-color="#228b22"/></linearGradient></defs>
<rect x="2610" y="720" width="150" height="1440" fill="url(#cb)"/>
<path d="M360.0 2160v-33.3M360.0 720v33.3M500.4 2160v-16.9M500.4 720v16.9M640.8 2160v-16.9M640.8 720v16.9M781.1 2160v-16.9M781.1 720v16.9M921.5 2160v-33.3M921.5 720v33.3M1061.9 2160v-16.9M1061.9 720v16.9M1202.2 2160v-16.9M1202.2 720v16.9M1342.6 2160v-16.9M1342.6 720v16.9M1483.0 2160v-33.3M1483.0 720v33.3M1623.4 2160v-16.9M1623.4 720v16.9M1763.8 2160v-16.9M1763.8 720v16.9M360.0 600v-33.3M360.0 120v33.3M500.4 600v-16.9M500.4 120v16.9M640.8 600v-16.9M640.8 120v16.9M781.1 600v-16.9M781.1 120v16.9M921.5 600v-33.3M921.5 120v33.3M1061.9 600v-16.9M1061.9 120v16.9M1202.2 600v-16.9M1202.2 120v16.9M1342.6 600v-16.9M1342.6 120v16.9M1483.0 600v-33.3M1483.0 120v33.3M1623.4 600v-16.9M1623.4 120v16.9M1763.8 600v-16.9M1763.8 120v16.9M360 2155.2h16.9M1800 2155.2h-16.9M360 2113.1h16.9M1800 2113.1h-16.9M360 2071.1h33.3M1800 2071.1h-33.3M360 2029.0h16.9M1800 2029.0h-16.9M360 1986.9h16.9M1800 1986.9h-16.9M360 1944.8h16.9M1800 1944.8h-16.9M360 1902.8h16.9M1800 1902.8h-16.9M360 1860.7h33.3M1800 1860.7h-33.3M360 1818.6h16.9M1800 1818.6h-16.9M360 1776.6h16.9M1800 1776.6h-16.9M360 1734.5h16.9M1800 1734.5h-16.9M360 1692.4h16.9M1800 1692.4h-16.9M360 1650.3h33.3M1800 1650.3h-33.3M360 1608.3h16.9M1800 1608.3h-16.9M360 1566.2h16.9M1800 1566.2h-16.9M360 1524.1h16.9M1800 1524.1h-16.9M360 1482.1h16.9M1800 1482.1h-16.9M360 1440.0h33.3M1800 1440.0h-33.3M360 1397.9h16.9M1800 1397.9h-16.9M360 1355.9h16.9M1800 1355.9h-16.9M360 1313.8h16.9M1800 1313.8h-16.9M360 1271.7h16.9M1800 1271.7h-16.9M360 1229.7h33.3M1800 1229.7h-33.3M360 1187.6h16.9M1800 1187.6h-16.9M360 1145.5h16.9M1800 1145.5h-16.9M360 1103.4h16.9M1800 1103.4h-16.9M360 1061.4h16.9M1800 1061.4h-16.9M360 1019.3h33.3M1800 1019.3h-33.3M360 977.2h16.9M1800 977.2h-16.9M360 935.2h16.9M1800 935.2h-16.9M360 893.1h16.9M1800 893.1h-16.9M360 851.0h16.9M1800 851.0h-16.9M360 809.0h33.3M1800 809.0h-33.3M360 766.9h16.9M1800 766.9h-16.9M360 724.8h16.9M1800 724.8h-16.9M1920 2155.2h16.9M2490 2155.2h-16.9M1920 2113.1h16.9M2490 2113.1h-16.9M1920 2071.1h33.3M2490 2071.1h-33.3M1920 2029.0h16.9M2490 2029.0h-16.9M1920 1986.9h16.9M2490 1986.9h-16.9M1920 1944.8h16.9M2490 1944.8h-16.9M1920 1902.8h16.9M2490 1902.8h-16.9M1920 1860.7h33.3M2490 1860.7h-33.3M1920 1818.6h16.9M2490 1818.6h-16.9M1920 1776.6h16.9M2490 1776.6h-16.9M1920 1734.5h16.9M2490 1734.5h-16.9M1920 1692.4h16.9M2490 1692.4h-16.9M1920 1650.3h33.3M2490 1650.3h-33.3M1920 1608.3h16.9M2490 1608.3h-16.9M1920 1566.2h16.9M2490 1566.2h-16.9M1920 1524.1h16.9M2490 1524.1h-16.9M1920 1482.1h16.9M2490 1482.1h-16.9M1920 1440.0h33.3M2490 1440.0h-33.3M1920 1397.9h16.9M2490 1397.9h-16.9M1920 1355.9h16.9M2490 1355.9h-16.9M1920 1313.8h16.9M2490 1313.8h-16.9M1920 1271.7h16.9M2490 1271.7h-16.9M1920 1229.7h33.3M2490 1229.7h-33.3M1920 1187.6h16.9M2490 1187.6h-16.9M1920 1145.5h16.9M2490 1145.5h-16.9M1920 1103.4h16.9M2490 1103.4h-16.9M1920 1061.4h16.9M2490 1061.4h-16.9M1920 1019.3h33.3M2490 1019.3h-33.3M1920 977.2h16.9M2490 977.2h-16.9M1920 935.2h16.9M2490 935.2h-16.9M1920 893.1h16.9M2490 893.1h-16.9M1920 851.0h16.9M2490 851.0h-16.9M1920 809.0h33.3M2490 809.0h-33.3M1920 766.9h16.9M2490 766.9h-16.9M1920 724.8h16.9M2490 724.8h-16.9M360 600.0h33.3M1800 600.0h-33.3M360 545.5h16.9M1800 545.5h-16.9M360 491.0h16.9M1800 491.0h-16.9M360 436.4h16.9M1800 436.4h-16.9M360 381.9h16.9M1800 381.9h-16.9M360 327.4h33.3M1800 327.4h-33.3M360 272.9h16.9M1800 272.9h-16.9M360 218.4h16.9M1800 218.4h-16.9M360 163.8h16.9M1800 163.8h-16.9M1920.0 2160v-33.3M1920.0 720v33.3M2007.4 2160v-16.9M2007.4 720v16.9M2094.8 2160v-16.9M2094.8 720v16.9M2182.2 2160v-16.9M2182.2 720v16.9M2269.6 2160v-16.9M2269.6 720v16.9M2357.0 2160v-33.3M2357.0 720v33.3M2444.4 2160v-16.9M2444.4 720v16.9M2760 2160.0h-33.3M2760 2088.0h-16.9M2760 2016.0h-16.9M2760 1944.0h-16.9M2760 1872.0h-33.3M2760 1800.0h-16.9M2760 1728.0h-16.9M2760 1656.0h-16.9M2760 1584.0h-33.3M2760 1512.0h-16.9M2760 1440.0h-16.9M2760 1368.0h-16.9M2760 1296.0h-33.3M2760 1224.0h-16.9M2760 1152.0h-16.9M2760 1080.0h-16.9M2760 1008.0h-33.3M2760 936.0h-16.9M2760 864.0h-16.9M2760 792.0h-16.9M2760 720.0h-33.3" stroke="#000" stroke-width="2.1" fill="none"/>
<rect x="360.5" y="720.5" width="1440" height="1440" fill="none" stroke="#000" stroke-width="3.2"/>
<rect x="360.5" y="120.5" width="1440" height="480" fill="none" stroke="#000" stroke-width="3.2"/>
<rect x="1920.5" y="720.5" width="570" height="1440" fill="none" stroke="#000" stroke-width="3.2"/>
<rect x="2610.5" y="720.5" width="150" height="1440" fill="none" stroke="#000" stroke-width="3.0"/>
<path d="M0.7 2367V2399.3H33" stroke="#000" stroke-width="1.6" fill="none"/>
<text transform="translate(254.4,831.5) translate(0.0,0) scale(0.5917,1)" font-size="87.2" stroke="#000" stroke-width="1.2" stroke-linejoin="round">150</text>
<text transform="translate(254.4,1041.8) translate(0.0,0) scale(0.5917,1)" font-size="87.2" stroke="#000" stroke-width="1.2" stroke-linejoin="round">100</text>
<text transform="translate(283.1,1252.2) translate(0.0,0) scale(0.5917,1)" font-size="87.2" stroke="#000" stroke-width="1.2" stroke-linejoin="round">50</text>
<text transform="translate(311.8,1462.5) translate(0.0,0) scale(0.5917,1)" font-size="87.2" stroke="#000" stroke-width="1.2" stroke-linejoin="round">0</text>
<text transform="translate(236.1,1678.8) scale(0.825,1)" font-size="87.2" font-weight="normal" stroke="#000" stroke-width="1.3">−</text>
<text transform="translate(283.1,1672.8) translate(0.0,0) scale(0.5917,1)" font-size="87.2" stroke="#000" stroke-width="1.2" stroke-linejoin="round">50</text>
<text transform="translate(207.4,1889.2) scale(0.825,1)" font-size="87.2" font-weight="normal" stroke="#000" stroke-width="1.3">−</text>
<text transform="translate(254.4,1883.2) translate(0.0,0) scale(0.5917,1)" font-size="87.2" stroke="#000" stroke-width="1.2" stroke-linejoin="round">100</text>
<text transform="translate(207.4,2099.6) scale(0.825,1)" font-size="87.2" font-weight="normal" stroke="#000" stroke-width="1.3">−</text>
<text transform="translate(254.4,2093.6) translate(0.0,0) scale(0.5917,1)" font-size="87.2" stroke="#000" stroke-width="1.2" stroke-linejoin="round">150</text>
<text transform="translate(254.4,349.9) translate(0.0,0) scale(0.5917,1)" font-size="87.2" stroke="#000" stroke-width="1.2" stroke-linejoin="round">250</text>
<text transform="translate(311.8,622.5) translate(0.0,0) scale(0.5917,1)" font-size="87.2" stroke="#000" stroke-width="1.2" stroke-linejoin="round">0</text>
<text transform="translate(346.6,2237.5) translate(0.0,0) scale(0.5917,1)" font-size="87.2" stroke="#000" stroke-width="1.2" stroke-linejoin="round">0</text>
<text transform="translate(908.1,2237.5) translate(0.0,0) scale(0.5917,1)" font-size="87.2" stroke="#000" stroke-width="1.2" stroke-linejoin="round">2</text>
<text transform="translate(1469.7,2237.5) translate(0.0,0) scale(0.5917,1)" font-size="87.2" stroke="#000" stroke-width="1.2" stroke-linejoin="round">4</text>
<text transform="translate(1906.7,2237.5) translate(0.0,0) scale(0.5917,1)" font-size="87.2" stroke="#000" stroke-width="1.2" stroke-linejoin="round">0</text>
<text transform="translate(2314.9,2237.5) translate(0.0,0) scale(0.5917,1)" font-size="87.2" stroke="#000" stroke-width="1.2" stroke-linejoin="round">500</text>
<text transform="translate(2780.0,2183.0) translate(0.0,0) scale(0.6021,1)" font-size="87.2" stroke="#000" stroke-width="1.2" stroke-linejoin="round">0.0</text>
<text transform="translate(2780.0,1895.0) translate(0.0,0) scale(0.6021,1)" font-size="87.2" stroke="#000" stroke-width="1.2" stroke-linejoin="round">0.2</text>
<text transform="translate(2780.0,1607.0) translate(0.0,0) scale(0.6021,1)" font-size="87.2" stroke="#000" stroke-width="1.2" stroke-linejoin="round">0.4</text>
<text transform="translate(2780.0,1319.0) translate(0.0,0) scale(0.6021,1)" font-size="87.2" stroke="#000" stroke-width="1.2" stroke-linejoin="round">0.6</text>
<text transform="translate(2780.0,1031.0) translate(0.0,0) scale(0.6021,1)" font-size="87.2" stroke="#000" stroke-width="1.2" stroke-linejoin="round">0.8</text>
<text transform="translate(2780.0,743.0) translate(0.0,0) scale(0.6021,1)" font-size="87.2" stroke="#000" stroke-width="1.2" stroke-linejoin="round">1.0</text>
<text transform="translate(1921.0,281.0) translate(0.0,0) scale(0.5809,1)" font-size="129.4" stroke="#000" stroke-width="1.5" stroke-linejoin="round">PepDF</text>
<text transform="translate(1921.0,432.0) translate(0.0,0) scale(0.6353,1)" font-size="106.1" stroke="#000" stroke-width="1.5" stroke-linejoin="round">Time window: 100 ns</text>
<text transform="translate(1079.0,2345.0) translate(-419.5,0) scale(0.6261,1)" font-size="108.1" stroke="#000" stroke-width="1.5" stroke-linejoin="round">Lateral displacement (nm)</text>
<text transform="translate(2204.0,2345.0) translate(-138.0,0) scale(0.5966,1)" font-size="108.1" stroke="#000" stroke-width="1.5" stroke-linejoin="round"># Counts</text>
<text transform="translate(161.4,1441.0) rotate(-90) translate(-338.0,0) scale(0.6090,1)" font-size="109.7" stroke="#000" stroke-width="1.5" stroke-linejoin="round">Precession (degrees)</text>
<text transform="translate(211.0,360.6) rotate(-90) translate(-138.0,0) scale(0.5879,1)" font-size="109.7" stroke="#000" stroke-width="1.5" stroke-linejoin="round"># Counts</text>
<text transform="translate(2929.5,1440.0) rotate(-90) translate(-289.5,0) scale(0.6295,1)" font-size="85.0" stroke="#000" stroke-width="1.2" stroke-linejoin="round">Normalized Mean Time</text>
</svg>
</body></html>
